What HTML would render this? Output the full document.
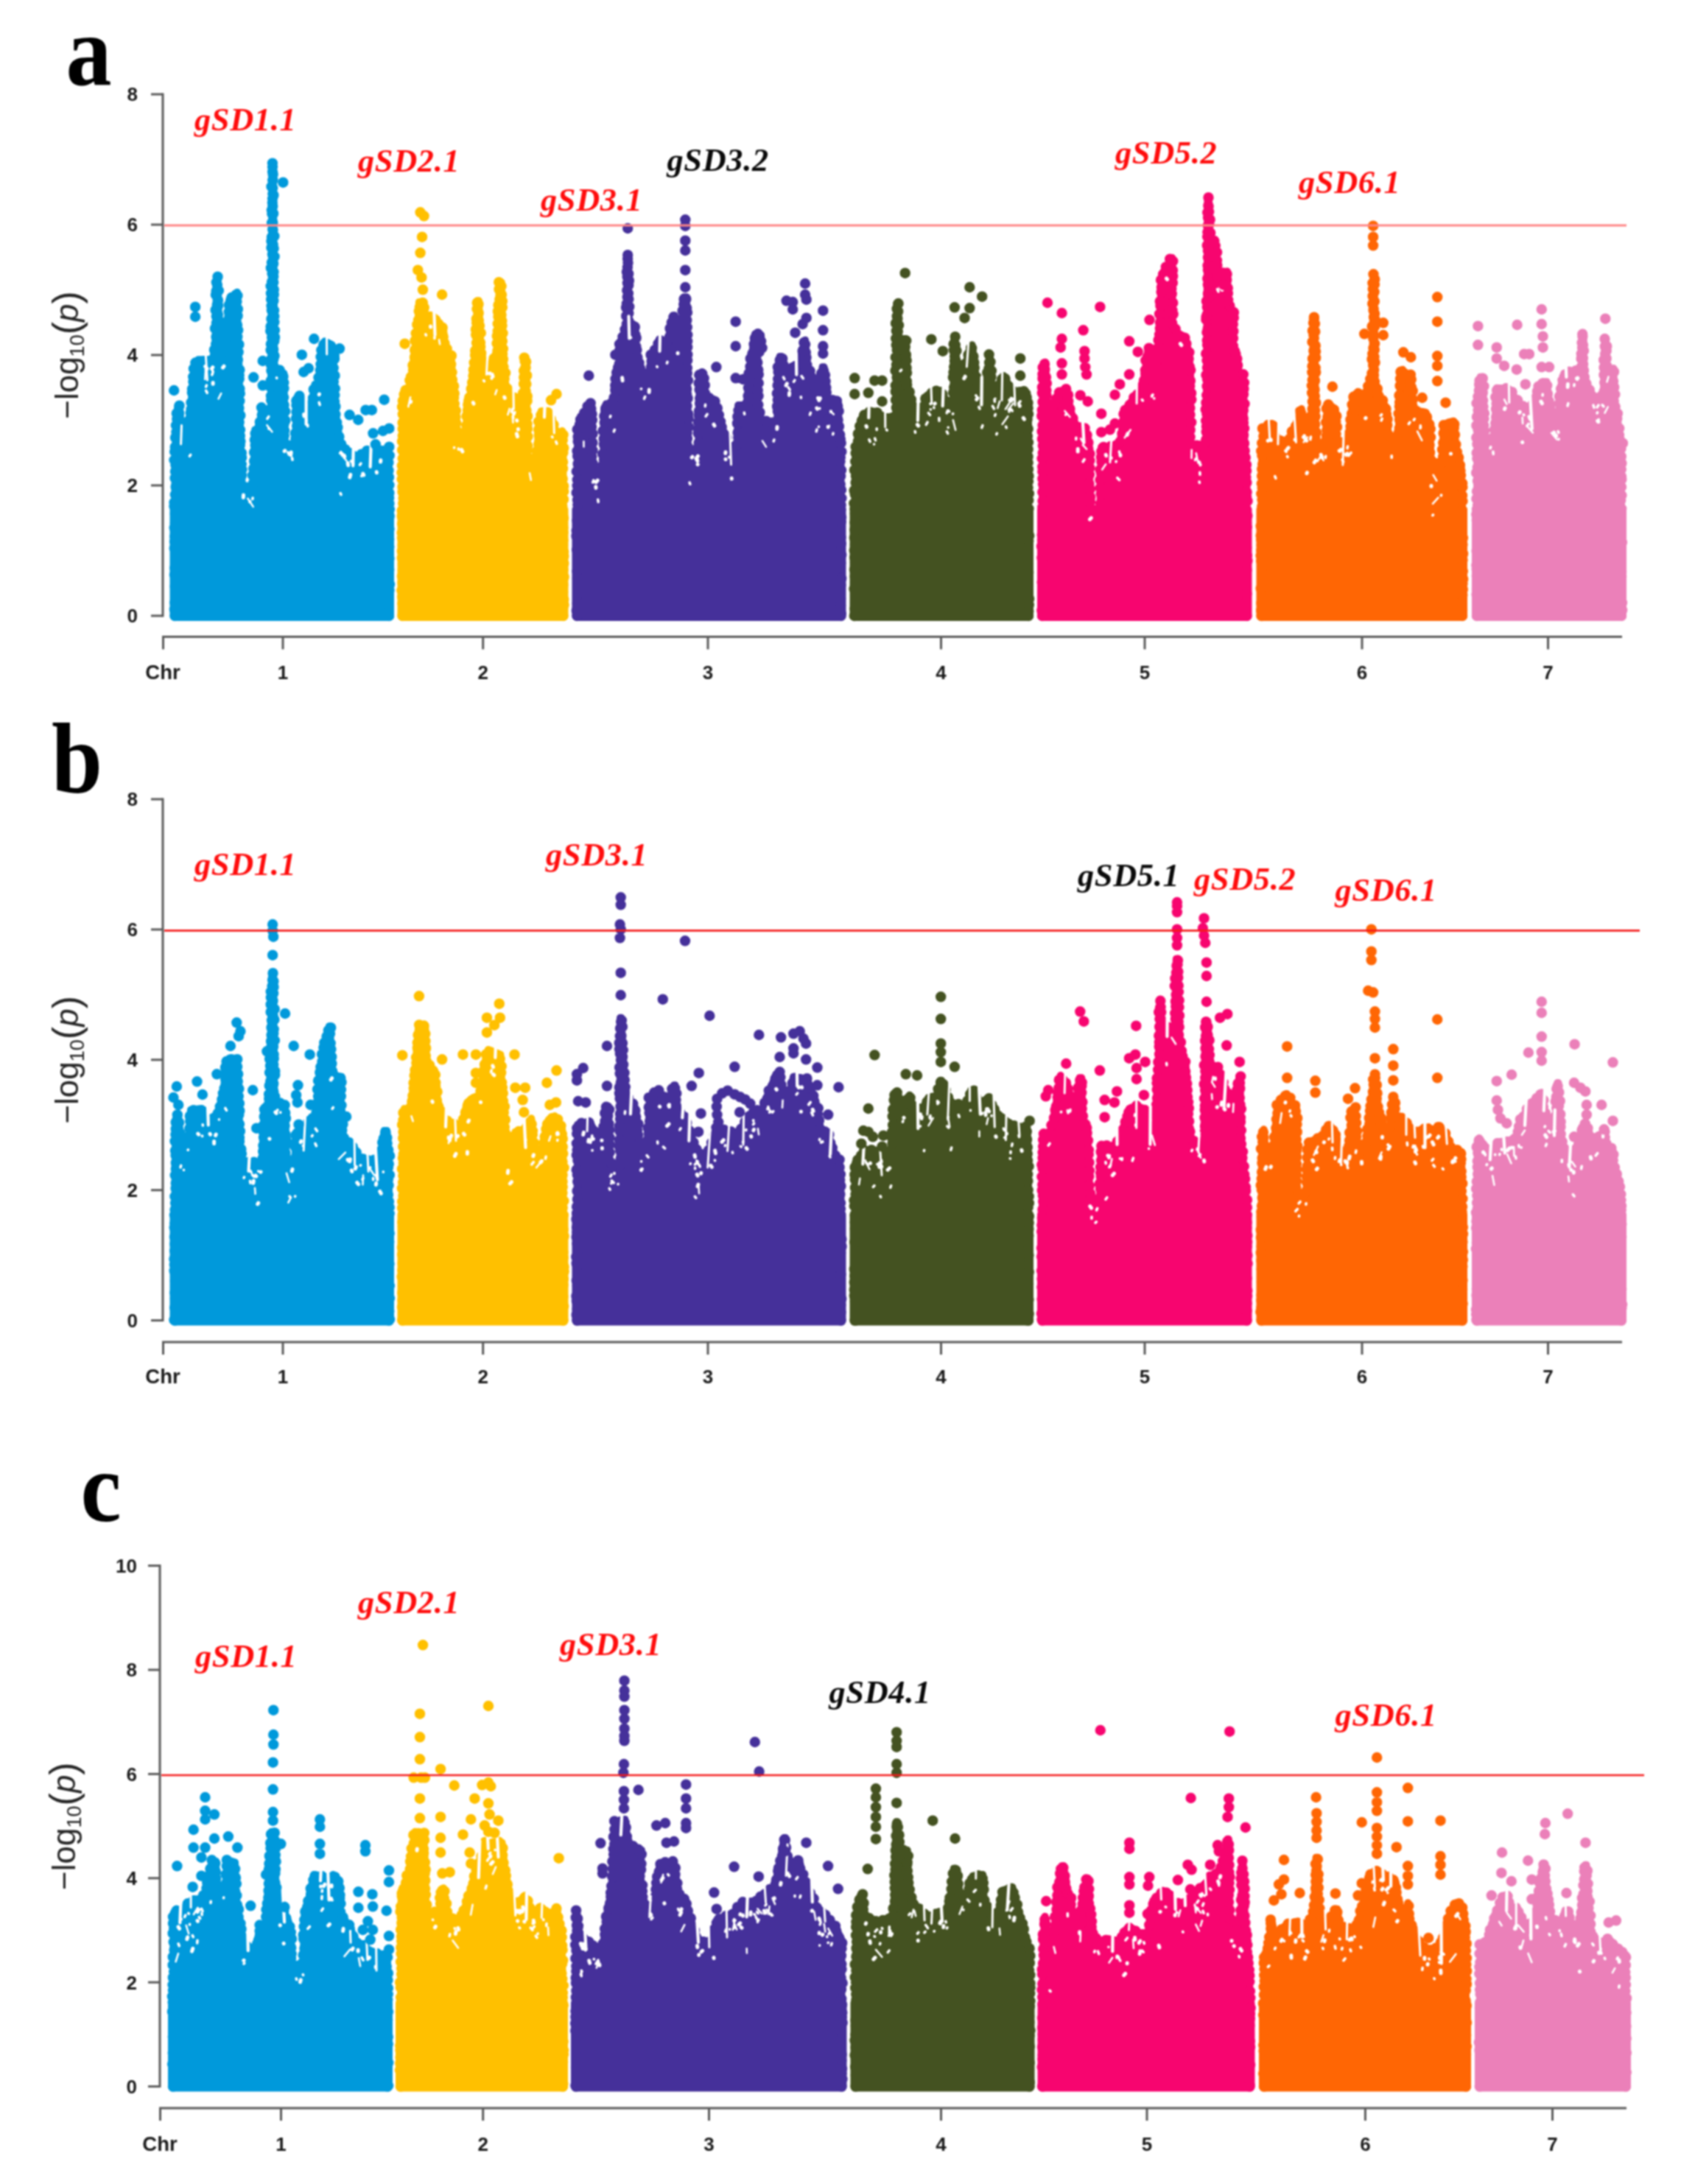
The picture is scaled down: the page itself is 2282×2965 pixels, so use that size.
<!DOCTYPE html>
<html lang="en">
<head>
<meta charset="utf-8">
<title>Manhattan plots</title>
<style>
html,body{margin:0;padding:0;background:#fff;}
body{width:2282px;height:2965px;overflow:hidden;}
svg{display:block;filter:blur(1px);}
</style>
</head>
<body>
<svg width="2282" height="2965" viewBox="0 0 2282 2965">
<rect width="2282" height="2965" fill="#fff"/>
<g fill="#0099db" stroke="#0099db" stroke-linejoin="round" stroke-linecap="round">
<path stroke-width="10" d="M237.5 836L237.5 630L238.2 603.3L241.2 551.7L243.9 551.7L246.6 593.3L254.7 593.3L259 553.3L264.1 493.3L269.1 488.3L284.3 488.3L291.7 486.7L294.4 375L295.7 375L297.8 480L305.2 480L311.2 406.7L318 400L322 396.7L322.7 443.3L324.7 510L326 583.3L328.7 660L343.5 660L346.2 583.3L351.6 581.7L355.7 556.7L360 556.7L367.8 553.3L369.5 220L370.8 220L372.5 500L385.3 506.7L385.9 543.3L387 603.3L401.4 603.3L402.8 540L407.2 536.7L408.8 538.3L413.9 556.7L422.3 556.7L427.4 521.7L432.4 520L437.5 468.3L440.8 463.3L450.9 468.3L452.6 476.7L454.3 543.3L457.6 576.7L462.7 603.3L472.8 613.3L486.3 620L503.1 610L519.9 610L528 613.3L528 643.3L528 836Z"/>
<rect stroke="none" x="230.5" y="685.5" width="304.5" height="157.5" rx="6.5"/>
<path fill="none" stroke-width="14.4" d="M237.6 836h0M236.9 827.4h0M237.3 818.3h0M238.3 804.8h0M237.7 796.3h0M238.4 788.1h0M236.9 780.2h0M237.3 771.3h0M238.2 760.4h0M238.3 750.6h0M236.7 744.2h0M237 735h0M237.2 728.2h0M236.7 716.6h0M237.9 710.8h0M237.8 697.6h0M236.4 687.1h0M236.5 682.1h0M237.8 671.6h0M238.6 660.9h0M237.5 648.9h0M237.9 640.1h0M238.3 631h0M236.5 624.5h0M237.1 613.2h0M237.7 606.9h0M238 594.1h0M239.4 586.6h0M238.9 577.5h0M240.3 568.8h0M239.8 561.2h0M243.5 550.7h0M243.2 560.9h0M244 570.4h0M246.2 577.4h0M246.8 585.5h0M247.2 593.8h0M254.6 593.2h0M255.1 585.1h0M257.3 577.2h0M257.6 569.4h0M258.7 560.5h0M259.5 555.6h0M259.5 546.6h0M260.8 532.8h0M260.9 528.1h0M262.4 518.1h0M262.2 511.5h0M262.9 500.6h0M265.3 492.5h0M276.5 490.5h0M287.6 488.7h0M292.1 481.3h0M290.9 474.9h0M293.2 467.4h0M293.5 457.6h0M291.9 445.9h0M293.9 438.7h0M293.8 429.6h0M292.6 420.9h0M294.7 413.9h0M292.9 400.2h0M293.6 395h0M293.8 383.3h0M295.5 375.7h0M294.9 386.8h0M296.9 394.5h0M295.9 407.7h0M296.1 414.7h0M295.9 427h0M297.2 435h0M297.1 444.6h0M296.4 455h0M297.2 461.2h0M297.2 475.2h0M298.7 481.2h0M304.3 476.8h0M306.2 468.1h0M307.6 457.9h0M306.8 453.3h0M308.5 443.4h0M309.5 435.2h0M310.7 423.3h0M310.8 414.1h0M314.3 404h0M320.3 400.4h0M322.4 401.4h0M321.4 409.6h0M322.9 419.7h0M322.6 428.7h0M322 441.2h0M323.2 448.3h0M322.3 457.3h0M324.4 467.7h0M323.7 477.8h0M322.9 488.6h0M325.4 502h0M324.7 509.2h0M324.7 514.6h0M325.4 527.8h0M325.8 534.2h0M325.3 544.4h0M324.4 554.3h0M326.3 563.8h0M324.7 573h0M326 583.5h0M325.8 591.7h0M326.4 599.1h0M325.8 604.3h0M327.9 614.8h0M328.1 621.4h0M327.8 630.3h0M328.5 637.3h0M328.1 645.3h0M327.5 657.9h0M333.5 661.4h0M341 662.4h0M344.2 655.3h0M342.9 645.3h0M344.1 636.1h0M345.1 625.9h0M345 614h0M346.6 604.5h0M345.8 597.1h0M346.6 588.6h0M352.8 579.4h0M352.8 572.9h0M355.7 563.2h0M359.2 558.9h0M368.3 554.9h0M368.1 543.1h0M367.9 537.6h0M367 525.2h0M367.5 517.2h0M368.4 503.3h0M367.8 495h0M367.6 488.3h0M367.6 475.4h0M367.8 467h0M369.1 457.9h0M367.2 449.5h0M367.5 443.2h0M368.4 432.9h0M368.9 421.4h0M368.5 415.3h0M368.1 406.6h0M367.9 398.3h0M367.6 388.4h0M369 382.9h0M369.5 371.2h0M367.8 363.7h0M368.9 356.6h0M369.8 345.1h0M368.4 336.2h0M368.4 327.6h0M368.9 321.9h0M370.1 311.2h0M369 302.5h0M369.3 290.1h0M368.9 285.4h0M369.8 275h0M370.3 263.1h0M368.5 253.4h0M370.2 244.7h0M370 233h0M369.9 221.6h0M370 226.5h0M370.6 236.7h0M370.4 244h0M370.2 255h0M371.4 264.9h0M370 269.6h0M370.2 279.9h0M371.1 289.8h0M370.3 302.2h0M370.5 312.1h0M372.4 320.6h0M370.7 332h0M371.6 337.2h0M372.6 348.3h0M371.1 357.8h0M371.4 369.3h0M371.2 375.5h0M371.2 383.2h0M371.8 393.1h0M371.8 399.8h0M371.3 408.4h0M372 421.4h0M372.3 429.5h0M372.3 437.3h0M372.9 448.4h0M373.1 457.8h0M372.3 462.7h0M371.1 474.5h0M372.6 483h0M371.4 486.7h0M372.4 499h0M379.5 502.4h0M384.5 511h0M385.3 519.5h0M385.4 527.3h0M385.1 539.5h0M385.6 549.8h0M387.2 558.5h0M387.4 570.8h0M385.5 575.8h0M386.1 584.6h0M385.7 591.4h0M387.1 602.6h0M394.6 604.7h0M401.4 602.8h0M401.4 595.7h0M400.9 588h0M403.1 578.1h0M401.9 568h0M402.4 559.2h0M402.4 550h0M402.3 544.1h0M406.5 537.5h0M410.2 544.5h0M413 556.1h0M420.6 556.7h0M424 546.8h0M424.9 540.5h0M425.8 528.7h0M432.2 522.3h0M432.4 512.5h0M434.8 502.5h0M435.4 494.6h0M435.5 484.5h0M436.3 475.4h0M439.4 467.8h0M446.6 468.8h0M451.7 473.5h0M453.8 483.3h0M454 487.3h0M452.7 499.6h0M454.5 509.9h0M452.9 518.1h0M454.8 527.5h0M454.3 536.6h0M454.1 545.1h0M455.4 551.8h0M455.4 562.6h0M457.2 573.6h0M458.4 580.3h0M460.4 592.9h0M463.3 603.1h0M468.7 610.1h0M473.9 614.6h0M484.2 620.9h0M490.7 616.7h0M498.2 611.9h0M506.9 611.1h0M512.8 610.2h0M525.4 611.6h0M528.7 618.4h0M527.4 627.9h0M527.5 638.7h0M528 647.8h0M528.4 658.6h0M528.4 669.1h0M528.1 675.9h0M528.4 683.7h0M528.9 691.2h0M528.7 700.7h0M527.2 708.1h0M528.5 718h0M528.2 732.1h0M528.3 742.2h0M527.1 749.7h0M528.5 758.1h0M527.9 765.8h0M528.2 773.6h0M527 784.4h0M529 793.4h0M528.5 801.2h0M527.2 812.6h0M527 820.5h0M527.4 832h0M237.5 836h0M528 836h0"/>
<path fill="none" stroke="#fff" stroke-width="2.6" d="M279.2 501.2l-0.9 13.8M463 615.5l7.3 9.9M362.4 577.2l7 9M336.4 676.8l7.3 11.1M300.2 534.1l-3.6 7.2"/>
<path fill="none" stroke="#fff" stroke-width="3.6" d="M258.7 617.4l-1.2 1.9M343.1 676.1l-0.3 1.4M390.8 614.1l0 0.3M493 643.9l-2.2 2.3M364.7 565.6l-1.8 2.8M288.7 503.4l0.4 1.4M280.4 523.1l-0.8 2M462.2 669.7l0.8 1.8M339.6 680.7l-0.7 0.8M364.8 581.2l0.2 1.1M476.6 625.9l2.4 3.2M396.5 621.7l0.5 2.6M462.8 613.7l-1.1 1.6M468.1 618.7l-0.7 2.8M415.7 569.7l0.5 2.4M279.7 530.3l1.5 3.1M375.5 512.9l0.2 0.4M417.5 576.6l0.3 2.2M433.2 546.4l0.9 3.2M467.8 617.8l0.8 2.2M489.9 629.2l-1.4 1.9M479.6 629.9l-0.1 0.3M288.7 506.5l-0.9 2.4"/>
<path fill="none" stroke="#fff" stroke-width="5" d="M511.2 640.8l0.2 1M433.4 535.1l-0.2 0.5M304 497.2l-1.5 1.9M492.8 643l0.9 1.9M475.8 644.4l-1 3.7M330.5 672.1l-0.2 3.3M281.1 500.5l-0.9 1.4M516.8 624.8l-0.2 2.2M395.2 614l-0.5 3.8M386.8 611.8l-0.7 0.7M464.5 616.3l0.6 1.7M472.1 628.4l0.5 3.3M278.7 497.4l1.2 1.5M288.8 498.6l-1.4 2.1M392.5 615.9l0.1 0.5M412.6 562.6l0.3 2.3M289.1 519.6l-0 1.6"/>
<path fill="none" stroke="#fff" stroke-width="3" d="M246.5 577.5L245.6 602.9M279.1 478.8L281.5 516.2M443.5 455.7L443.7 480.9"/>
<path fill="none" stroke="#fff" stroke-width="4.2" d="M415.6 529.1L415.6 576.1M479.8 604.1L479.2 632.4M503.8 601L502.6 633.8"/>
<path fill="none" stroke-width="14.4" d="M236.2 530h0M265.1 416.7h0M265.1 430h0M344.2 512.3h0M356.7 490h0M356.7 523.3h0M355 553.3h0M384.3 247.7h0M409.8 481.7h0M412.2 505h0M418.9 500h0M426.3 460h0M461 473.3h0M474.5 563.3h0M486.3 570h0M496.4 556.7h0M504.8 556.7h0M521.6 542.7h0M506.5 588.3h0M519.9 585h0M528.3 581.7h0M528.3 606.7h0M509.8 603.3h0M295.1 393.3h0"/>
</g>
<g fill="#ffc000" stroke="#ffc000" stroke-linejoin="round" stroke-linecap="round">
<path stroke-width="10" d="M546.5 836L546.5 636.7L547.2 536.7L548.8 528.3L553.9 531.7L558.9 510L567.3 440L568.9 410L575.6 410L577.3 430L589 430L597.4 441.7L601.8 445L604.1 470L612.5 483.3L614.1 510L617.5 553.3L619.2 558.3L620.8 600L632.6 600L634.2 543.3L639.3 533.3L646 476.7L648 408.3L650 408.3L651.3 443.3L652.7 476.7L657.7 496.7L666 496.7L674.4 476.7L678.1 383.3L680.8 383.3L682.8 476.7L686.1 520L692.8 540L704.6 540L710.9 538.3L712.3 485L713.6 485L714.9 543.3L716.3 623.3L729 623.3L731.3 576.7L734.7 558.3L743.1 558.3L749.8 571.7L756.5 590L763.2 585L764.5 610L764.5 643.3L764.5 836Z"/>
<rect stroke="none" x="539.5" y="685.5" width="232" height="157.5" rx="6.5"/>
<path fill="none" stroke-width="14.4" d="M546.5 835.8h0M547.4 828.3h0M546.4 819.2h0M546 810.1h0M545.3 801.5h0M546.4 791.3h0M545.8 782h0M546.8 774.3h0M546.9 766.2h0M545.7 757.5h0M545.7 748h0M546.6 740.6h0M545.9 730.4h0M545.6 723.4h0M546 710.9h0M545.6 700.7h0M545.6 693h0M547.2 683.6h0M547.5 676.6h0M546.5 667.7h0M546.4 660.9h0M545.6 650.6h0M545.4 641.5h0M545.8 632h0M546.7 622.5h0M546.1 610.8h0M545.9 599.1h0M546.8 591.5h0M546.7 582.4h0M546.6 573.8h0M546.8 562.3h0M546 552.4h0M546.8 544.1h0M548.6 535.5h0M552 529.1h0M556.3 527h0M556.3 516.4h0M557.9 511.5h0M561 502.6h0M560.4 495.8h0M562.9 484.9h0M563 475.2h0M563.4 462.6h0M564.6 452.5h0M566.3 440.7h0M568 434.5h0M568.7 422.6h0M569.8 417.4h0M573.7 411h0M575.8 417.6h0M576 429.1h0M584 429.9h0M591.2 434.3h0M595.3 439.8h0M600.7 444.8h0M601.7 457.2h0M603.5 466.2h0M606.7 473.6h0M612.9 482.8h0M612.2 494.6h0M613.5 505.5h0M613.9 515.7h0M616.2 524.2h0M616.8 534h0M616.1 540.3h0M616.8 548.3h0M618.9 557.5h0M618.5 566h0M619.3 574.5h0M620.7 585.8h0M620.9 594.4h0M622.3 598.6h0M633 598.8h0M631.9 593.2h0M633.5 583h0M633.2 577.5h0M633.4 565h0M635 556.8h0M635.3 549.2h0M637.4 539.4h0M639.7 527.9h0M641.1 519.2h0M642.5 510.2h0M642.8 501.9h0M643.7 492.4h0M645.1 482.4h0M645.1 476h0M647 465.5h0M646.2 454.6h0M645.9 447.2h0M647.1 438.2h0M646.8 432.8h0M647.5 419.5h0M647.7 411h0M649.5 412.8h0M649.7 424.9h0M649.9 435.1h0M651 442.1h0M652.8 452h0M652 465h0M652.2 470.8h0M653.3 479.7h0M656.5 490.3h0M659.1 496.5h0M667.2 495.6h0M670.5 486.7h0M675.4 476.1h0M674.5 466h0M674.7 456.1h0M675.7 449.5h0M675.7 439.5h0M676.5 429.9h0M675.9 422.7h0M676.5 414.2h0M678.3 406.6h0M677.5 392.7h0M677.2 383.1h0M680.6 388.5h0M681 400h0M681.9 408.8h0M681.9 417.2h0M680.5 427.7h0M681.3 435.7h0M681.5 442.3h0M682.5 452.4h0M681.9 463h0M682.9 473.5h0M682.1 480.7h0M682.9 487.7h0M683.4 498.4h0M686.1 506.4h0M684.7 514h0M688.9 527.8h0M691.9 537h0M697.6 539.6h0M708.6 538.6h0M710 533.8h0M711 521h0M711.2 512.2h0M711.2 503.4h0M712.6 490.6h0M711.7 485.6h0M714.2 491h0M713.6 498.9h0M715.2 509.7h0M714.4 521.5h0M713.6 531.4h0M715.8 537.9h0M715.6 544.4h0M714.5 557h0M716.2 564.9h0M715.6 575.4h0M716 582.2h0M716.5 592.6h0M716.2 605h0M715.5 611.5h0M716.1 623.4h0M723.1 622.9h0M728.6 624.3h0M728.7 612.5h0M731.2 602.9h0M731.7 590.8h0M731.1 583.2h0M731.1 572.4h0M734.4 563.7h0M737.9 559.9h0M743.6 559.9h0M747.9 569h0M751.5 576.5h0M754.4 586.7h0M757 590.7h0M764.6 590.3h0M763.8 597.6h0M765.3 608h0M764.4 614.6h0M764.1 627.2h0M764.1 635.9h0M763.8 650h0M765.2 659.9h0M765.3 667h0M765 677.9h0M763.3 686.9h0M763.7 695.1h0M765.1 703.2h0M764.4 716.5h0M764.5 722.8h0M764.5 733.2h0M764.1 738.9h0M765.2 749h0M765.4 754.9h0M765.4 764.8h0M764.5 773.5h0M765.6 783.4h0M764.4 794.3h0M764.1 803.8h0M765.3 813.8h0M765.6 821h0M763.6 831.6h0M546.5 836h0M764.5 836h0"/>
<path fill="none" stroke="#fff" stroke-width="2.6" d="M596.1 461.3l1 6M719 642.2l1.8 9.5M557.1 539.3l-2.8 12.8M674.3 529.5l-2 5.8M695.8 558.9l1.5 8.9M691.7 554.9l-2.3 8.1M695.8 565.1l0.7 8.5"/>
<path fill="none" stroke="#fff" stroke-width="3.6" d="M622.4 609.1l0.1 1M662.6 506.4l0.6 1M695.5 555.4l-1.1 3.7M590 457.2l-0.1 2.3M577.8 453.9l0.6 1.2M754.8 599.6l1.1 2.8M667.2 513.2l0.3 0.8M656.6 516.6l0.8 0.9M749.5 593l0.4 0.5M616.6 607.6l0 0.4M665.5 506l-1 1.9M698.9 559.7l-0.9 2.7"/>
<path fill="none" stroke="#fff" stroke-width="5" d="M626.5 610.5l1.4 2.6M668.2 508.4l0.8 2.7M684.7 539l0.6 1.4M557.7 545.1l-0.3 0.9M701.4 588.9l1.1 3.8M701.6 570.6l0.2 0.5M642.3 546.5l0.7 1.6M584.5 442.9l0.1 1.1M703.4 582.5l-0 0.4"/>
<path fill="none" stroke="#fff" stroke-width="3" d="M662.3 473.3L660.4 508.5M696.8 522.9L697.4 555.5M751.3 553.2L752.3 587.9"/>
<path fill="none" stroke="#fff" stroke-width="4.2" d="M589.2 421L590.5 454.7M739.6 549.3L739 566.4"/>
<path fill="none" stroke-width="14.4" d="M549.5 466.7h0M570.6 288.3h0M575.6 293.3h0M573 321.7h0M570.6 343.3h0M567.3 366.7h0M572.3 376.7h0M574 393.3h0M600.1 400h0M748.1 543.3h0M755.5 535h0M712.9 500h0M712.9 516.7h0"/>
</g>
<g fill="#45309a" stroke="#45309a" stroke-linejoin="round" stroke-linecap="round">
<path stroke-width="10" d="M783.5 836L783.5 676.7L784.2 583.3L788.2 565L795 560L801.7 546.7L803.4 556.7L804 640L818.9 640L820.2 556.7L822.9 548.3L827.6 556.7L831 543.3L835.4 536.7L837 498.3L840.4 493.3L842.1 463.3L846.5 456.7L850.9 443.3L851.9 346.7L852.5 346.7L853.6 438.3L856.6 440L862.3 441.7L864.7 486.7L869 496.7L872.4 516.7L880.8 516.7L884.2 483.3L889.2 476.7L896 460L899.4 463.3L904.4 470L911.1 443.3L913.8 428.3L915.9 428.3L917.9 460L922.9 470L928.7 403.3L932 403.3L934 610L948.2 610L949.9 506.7L953.2 505L958.3 540L968.4 541.7L973.4 553.3L980.2 583.3L985.9 590L987.3 606.7L1000.7 606.7L1002.1 550L1008.8 550L1013.9 546.7L1018.9 493.3L1025 453.3L1033.1 455L1033.7 473.3L1028.3 481.7L1029 543.3L1031.7 568.3L1042.5 573.3L1055.3 570L1056.6 496.7L1058.7 484L1061 484L1064.4 498.3L1067.7 510L1076.2 496.7L1086.3 496.7L1089.6 476.7L1093 461.7L1096.4 496.7L1101.4 510L1104.8 530L1113.2 531.7L1116.6 498.3L1118.6 498.3L1120.6 533.3L1123.3 556.7L1130 541.7L1137.8 543.3L1139.1 590L1141.5 610L1141.5 676.7L1141.5 836Z"/>
<rect stroke="none" x="776.5" y="685.5" width="372" height="157.5" rx="6.5"/>
<path fill="none" stroke-width="14.4" d="M783.8 835h0M782.8 828.9h0M783.8 819.1h0M784.3 806.9h0M784.2 798.9h0M784.2 792.7h0M783.9 785.5h0M783.5 775.5h0M784.5 766.7h0M784.3 759.6h0M783.1 746.6h0M784.2 735.7h0M782.5 727.7h0M782.7 720.5h0M783.5 706.7h0M784.6 697.3h0M784.3 685.1h0M784 678.7h0M782.7 668.9h0M783.7 659.4h0M783.8 651.3h0M782.8 640h0M784.6 629.7h0M784.2 619.4h0M783.6 612.4h0M784.7 599.6h0M784.6 592.9h0M783.7 583.1h0M787 576.5h0M788 569.5h0M793.3 560.4h0M797.6 551.6h0M801.7 547.4h0M802.4 554.9h0M803.6 562.1h0M803.9 570.3h0M803 579.7h0M804.6 588.8h0M804.4 600.9h0M804.5 611.4h0M803.3 619.9h0M804.7 629.1h0M803 637.2h0M811.1 639.7h0M819.9 638.9h0M818.5 631.6h0M819.9 623.9h0M818.1 616.4h0M819.8 603.3h0M819.7 595.7h0M818.6 584.9h0M820.7 573.7h0M820.3 564.8h0M822.1 554.7h0M823.4 552.4h0M828.6 555.6h0M829.7 547.7h0M833.5 539.9h0M835.3 529.7h0M835.2 523h0M835.6 514.3h0M837.1 505.8h0M840.8 493.8h0M841.9 486.1h0M841.2 475.6h0M841 467.3h0M845.4 457.3h0M848.5 447.3h0M850.8 439.9h0M850.2 428.9h0M850 417.6h0M850.9 412.4h0M851.7 403.1h0M851.3 394.2h0M851.9 384.3h0M851.7 375.7h0M850.9 369h0M852.5 356.8h0M852.2 346.2h0M852.1 351.6h0M851.9 362.7h0M853.2 371.7h0M853.9 380.9h0M853.2 387.4h0M852.9 398.4h0M853.4 406h0M854.2 416.4h0M853.4 425.1h0M853.2 435.3h0M857.5 441.1h0M861.8 443.8h0M862.5 454.7h0M863.7 458.7h0M863.4 470.6h0M864.5 475.1h0M865.4 485.2h0M867.6 492.6h0M869.1 500.2h0M872.3 511.5h0M872.5 517.8h0M881.3 515.5h0M881.5 505.5h0M883.9 498.1h0M884.6 490.7h0M885 481.8h0M888.8 475.1h0M893.5 466.5h0M896.4 462.1h0M902.3 469.2h0M904.8 463.9h0M908.9 457.6h0M909.5 445.8h0M911.8 437.8h0M914.4 430.6h0M916.7 436.6h0M917.9 441.3h0M918.4 452.9h0M919.4 463h0M923.1 467.7h0M924.6 463.4h0M925.5 449.2h0M925 441.3h0M926.8 432.4h0M926.6 421.9h0M928.2 413h0M928.5 406.1h0M931.4 405.9h0M932.2 418h0M933 424.2h0M932.3 434.7h0M932.8 444.3h0M933.3 454.6h0M933.2 463.3h0M933.2 471.4h0M933.3 481.4h0M933.2 489.1h0M932.9 499.5h0M932.8 506.7h0M934 516.5h0M932.2 528.2h0M932.2 535.2h0M933.6 540.7h0M932.5 551.3h0M934.1 561.9h0M934.6 568.2h0M934.9 579.6h0M932.7 587.8h0M933 595.2h0M933.7 606.5h0M939.9 612.4h0M947.2 608.2h0M948.6 601h0M947.8 588.3h0M947.7 582.3h0M947.9 572.9h0M948.8 563.7h0M948.9 558.2h0M950.1 547.7h0M950.2 540.8h0M949.6 528.8h0M948.6 520.1h0M949.2 509h0M953.2 507.4h0M955.7 513.6h0M956.8 522.8h0M957 533.9h0M962.7 540.3h0M970.5 544.9h0M973.9 554h0M975.9 563.4h0M978.1 572.4h0M979.8 579.8h0M981.6 588h0M986.3 593.9h0M986.4 604.9h0M992 607.3h0M1000.2 603.5h0M1002.2 593.9h0M1001.6 587.2h0M1000.9 574.7h0M1001.3 565.7h0M1002.5 557.3h0M1005.2 552.4h0M1014.6 547h0M1015.6 537.5h0M1015.9 526.6h0M1017.6 516h0M1016.4 507.2h0M1018.5 497.7h0M1018.7 486.8h0M1021.4 480.2h0M1023.6 467.4h0M1024.8 459h0M1028.9 453.3h0M1033.1 463.4h0M1034.6 472.3h0M1030.6 477.9h0M1028.3 492h0M1029.3 502.2h0M1029.8 508.6h0M1029.8 520h0M1028.8 529.9h0M1029.6 537.6h0M1029.3 549.6h0M1031.5 559.8h0M1030.8 567.3h0M1040.1 571.6h0M1048.5 573.7h0M1056.4 569h0M1055.9 558.5h0M1055 551.7h0M1055.8 542.8h0M1054.8 534h0M1055.6 523.2h0M1056.2 514.6h0M1056.6 504.9h0M1055.9 498.4h0M1058.7 488.9h0M1062.2 486.9h0M1063.6 495.6h0M1066.5 506.3h0M1068.7 507.4h0M1075 499.8h0M1079.9 497h0M1088.1 492.5h0M1088 483.6h0M1090.4 474.9h0M1091.3 465h0M1093.1 467.5h0M1093.8 478.6h0M1094.6 485.2h0M1095.3 495.3h0M1099.6 503.5h0M1101.4 511.9h0M1103.7 522.3h0M1106.7 531.7h0M1113.5 528h0M1114 520h0M1116.2 513h0M1115.1 506.9h0M1118 503.1h0M1120 509h0M1120.6 517.7h0M1121.4 526h0M1121.8 532.8h0M1122.8 545.4h0M1122.2 554.3h0M1125.1 551.6h0M1130.2 543.3h0M1135.9 544.5h0M1137.2 551.2h0M1138.7 558h0M1137.6 570.2h0M1139 578.8h0M1138.6 588.9h0M1140.8 596.4h0M1141.7 601.6h0M1142.4 613h0M1140.8 620.9h0M1140.6 626h0M1142 638.4h0M1141.1 646.4h0M1140.7 657.5h0M1142 665h0M1142.4 676.3h0M1141.6 685.7h0M1141.4 691.6h0M1142.1 702.2h0M1141.8 708.1h0M1141 720.8h0M1141.5 729.6h0M1141.8 738.3h0M1140.5 748.9h0M1142.3 753h0M1141.3 764.5h0M1141 770.6h0M1142.2 785.4h0M1141.4 794.2h0M1140.7 803.2h0M1141.1 812.8h0M1141.1 822.1h0M1141.9 833.1h0M783.5 836h0M1141.5 836h0"/>
<path fill="none" stroke="#fff" stroke-width="2.6" d="M1127.1 557.8l4.7 4.7M792.4 599.2l0.1 7.3M1035 598.6l5 8"/>
<path fill="none" stroke="#fff" stroke-width="3.6" d="M1078.9 516.2l-1.4 2M806.6 653l-0.4 1.5M834.3 583.5l-1 2.4M1070.2 526l2 3.1M811.7 678.2l0.5 3.2M1063.5 512.1l1.3 2.7M1010.3 560.3l0.4 2M1127.6 568.7l-1.2 1.7M957.5 549.3l-0.2 2.3M989.7 620.4l0.2 0.6M1050.9 597l-0.7 2.1M1112.8 554.4l-0.1 0.2M1111.5 579.3l-0 0.2M875.6 538.5l-1.1 2.8M870.5 527.8l-0.1 0.1M1131.1 588.2l-0.4 1.5M960.1 562.3l-2 2.9M906 491.4l-0.6 1.7M1100.4 560.4l-0.9 2.6M936.1 655.2l0.7 2M855.8 457.5l0.7 1.1M1087.3 538.7l0.1 1.4M1128.2 558.3l-0.3 1.2M805.7 652.2l-1 2.7M1088.1 510.6l2.2 3.1M891.9 497.5l0.3 0.7M947 623.1l0 0.1M1108.9 583.1l-0.7 2.6M828.8 564.6l-0.5 1.6"/>
<path fill="none" stroke="#fff" stroke-width="5" d="M1110.5 540.4l1.4 3.1M1113.3 540.6l0.1 0.5M1071.6 533.3l-0.2 3.1M985 623.3l0.1 0.3M808.8 660.8l0.2 1.6M844.6 512.8l0.5 3.9M1108.8 554l0.6 1.2M940 620.2l-0.8 0.9M968.9 576.1l1.1 2M920.1 479.2l0 0.5M1068.3 520.8l-1.3 2.5M1055 579.5l-0.2 2.9M947.1 630.4l0.1 0.1M1124.5 578l-0.3 1.9M945.1 622.5l1.8 3.4M881.3 529l-0.2 3.5M985 613.7l-0.2 1.8M993.2 649.3l0.1 0.8M947.5 619.1l-1.1 1.4M811.3 652.1l-2.1 2.5"/>
<path fill="none" stroke="#fff" stroke-width="3" d="M990.7 579.6L992.5 630.8"/>
<path fill="none" stroke="#fff" stroke-width="4.2" d="M853.5 429.4L854.3 459.5M896.1 451.2L895.5 476.8M1080.9 476.3L1081.3 508.7"/>
<path fill="none" stroke-width="14.4" d="M799.3 510h0M835.4 481.7h0M852.2 310h0M883.5 481.7h0M914.5 443.3h0M930.3 390h0M930.3 366.7h0M930.3 340h0M930.3 326.7h0M930.3 306.7h0M930.3 298.3h0M972.4 498.3h0M998.7 436.7h0M998.7 470h0M998.7 513.3h0M1008.8 515h0M1067.7 408.3h0M1076.2 410h0M1076.2 420h0M1093 385h0M1093 400h0M1094.7 406.7h0M1094.7 431.7h0M1089.6 440h0M1079.5 451.7h0M1089.6 476.7h0M1117.3 421.7h0M1117.3 448.3h0M1117.3 470h0M1117.3 480h0M1111.5 515h0M1123.3 570h0M1140.2 590h0M1025.6 463.3h0M1032.4 473.3h0"/>
</g>
<g fill="#445221" stroke="#445221" stroke-linejoin="round" stroke-linecap="round">
<path stroke-width="10" d="M1160.5 836L1160.5 676.7L1161.2 616.7L1166.9 576.7L1172 561.7L1185.6 558.3L1199.2 565L1206 566.7L1216.2 563.3L1217.2 411.7L1218.5 411.7L1220.2 460L1229.7 460L1231.4 526.7L1236.5 540L1243.3 560L1253.5 553.3L1258.6 536.7L1267.1 533.3L1277.2 530L1282.3 546.7L1287.4 546.7L1294.2 543.3L1295.2 458.3L1296.2 458.3L1296.6 458.3L1298.3 490L1302.7 496.7L1311.2 496.7L1314.6 478.3L1319.6 468.3L1323 493.3L1326.4 530L1338.3 536.7L1343.4 480L1344.4 490L1346.8 536.7L1355.3 526.7L1362.1 510L1368.9 521.7L1375.6 533.3L1385.8 530L1394.3 533.3L1396 576.7L1396 676.7L1396 836Z"/>
<rect stroke="none" x="1153.5" y="685.5" width="249.5" height="157.5" rx="6.5"/>
<path fill="none" stroke-width="14.4" d="M1159.8 836h0M1160.4 826.5h0M1161.5 817h0M1161.2 809.3h0M1159.5 799.6h0M1161.1 790.8h0M1160.6 782.7h0M1159.9 773.1h0M1161 762.9h0M1160.1 756.8h0M1159.7 747h0M1160.9 739.5h0M1159.8 729.9h0M1160.2 719.1h0M1160.4 709.5h0M1160.8 696.9h0M1160.4 690.5h0M1159.4 683.4h0M1160.7 670.8h0M1159.6 665.8h0M1161.6 655.1h0M1161.9 645.9h0M1159.9 638.1h0M1161.2 626.6h0M1161.6 615.1h0M1161.6 606.6h0M1164.8 599.1h0M1164.8 588.9h0M1167.2 578.5h0M1169.9 571h0M1173.1 563.8h0M1180.4 559.2h0M1190.8 560.1h0M1196.6 566.2h0M1206.7 568.3h0M1216.4 564.7h0M1216.8 553.5h0M1216 543h0M1215.8 531.7h0M1215.8 523.4h0M1217.6 512.6h0M1215.5 503.2h0M1216.9 495.1h0M1215.7 485h0M1217.7 475h0M1216.7 468.5h0M1216.2 459.6h0M1216.8 449.1h0M1216 438.9h0M1217.7 429.4h0M1217.6 419.3h0M1219.6 412h0M1219.2 422.7h0M1218.4 432.7h0M1220.1 441.6h0M1218.8 450.3h0M1219.5 460.2h0M1230.3 462.5h0M1228.8 470.8h0M1229.8 481.3h0M1230.7 489.5h0M1230.6 499.2h0M1231.1 506.1h0M1230.9 517.5h0M1231.2 522.5h0M1234.8 532h0M1236.9 542.3h0M1240.4 553h0M1243.7 561.6h0M1250.9 553.9h0M1254.7 551.2h0M1256.3 541.2h0M1264.9 533.4h0M1271 530.7h0M1279.4 535h0M1281.4 542.2h0M1288.2 546.1h0M1294.5 543h0M1294.1 533h0M1295.1 525.8h0M1293.8 512.2h0M1294.5 505.6h0M1295.1 498h0M1296 490.3h0M1296.1 483.8h0M1294.7 475.3h0M1294.6 467h0M1296.7 457.1h0M1296.8 468.4h0M1298.5 476.1h0M1297.2 488.8h0M1301.9 495.3h0M1309.8 496.2h0M1311.7 492.9h0M1314.6 481.7h0M1318.2 472.4h0M1319.2 472.6h0M1321.4 483.9h0M1322.4 492h0M1322.8 499.2h0M1325.5 511.9h0M1326.2 519h0M1325.8 529h0M1331.3 533.7h0M1339.5 535.9h0M1338.6 525.7h0M1339.9 514.8h0M1340.2 505.9h0M1342.3 500.7h0M1343 492.3h0M1342.6 481.3h0M1344.5 491.4h0M1345.9 503.4h0M1345.5 511.8h0M1344.8 520.6h0M1346.3 529.7h0M1346.9 536.6h0M1353.3 530h0M1358.3 520.9h0M1360.1 514.8h0M1364.5 514h0M1369.3 524.4h0M1375.5 531.1h0M1382.9 532.5h0M1390 531.3h0M1393.7 539.7h0M1395.5 546.8h0M1395.6 554h0M1396.1 562h0M1394.6 569.3h0M1395.7 582.2h0M1394.9 592.3h0M1396 600.6h0M1395.7 609.9h0M1395.6 619.8h0M1395.7 628h0M1396 636.9h0M1396.5 646.2h0M1396 653.6h0M1395.6 662h0M1396.9 669.9h0M1396.3 679h0M1396.5 690.6h0M1395 701.2h0M1395.9 707.3h0M1395 716.8h0M1397.2 727.2h0M1396.3 734h0M1395.9 747.8h0M1395.5 755.4h0M1395.2 767.3h0M1396.1 777.4h0M1395 786.4h0M1395.1 795.4h0M1395.6 805.1h0M1397.1 812.9h0M1396.8 821.3h0M1396.3 829.8h0M1160.5 836h0M1396 836h0"/>
<path fill="none" stroke="#fff" stroke-width="2.6" d="M1375.3 547.8l-6.6 8.4M1368.3 565.2l-7.7 10.7M1357.1 544.8l-2.8 9.4M1370.5 547l-5.6 8.5M1293.8 570.2l3.4 13.6"/>
<path fill="none" stroke="#fff" stroke-width="3.6" d="M1287.5 557.5l1 1.2M1286.3 557.5l-1 3.2M1179.9 596.9l1.3 2.7M1293.7 561.6l-0.2 0.4M1274.8 567.5l0.2 3.6M1365.6 579.1l0.6 1.6M1263.3 555.7l-0 0.3M1186.6 603l0 0.1M1187.7 595.2l0.8 2.5M1351.3 562.5l-0.7 1.9M1285.4 585.9l1.3 2.6M1263 548l0.3 0.5M1350.1 542.3l0.3 2.9M1324.8 536.8l0.4 0.5M1287.2 580.2l0 0.2M1223.6 502.2l-1.5 1.6M1372.6 540.3l0 0.3M1242.2 585.5l0.3 1.7M1190.2 581.9l0 1.7M1267.8 553l0.1 0.8M1203.4 583.3l0.7 0.8M1370.3 555.6l-0.3 3.3M1260.4 560.7l2.1 2.6M1353.4 588.3l-0.6 1.4M1385.1 544.8l-2.4 2.7M1259.1 573.1l-1.8 3.4M1347.5 551.3l1.9 3.5M1351 541.3l-0 0M1372.4 555.3l1.8 2.5M1333.9 577.7l-1.1 2.9M1328.8 552.5l1.2 2.4"/>
<path fill="none" stroke="#fff" stroke-width="5" d="M1269.3 547.7l-0.5 0.5M1370.9 543.2l0.2 0.8M1383.7 549.7l0.6 1.5M1310.2 511.2l-1.5 2.7M1245.4 576.5l1.3 1.5M1374.4 541.9l-1.7 2.2M1175.9 578.3l0.6 1.5M1327.1 540.3l-1.3 2M1389.2 567.3l1.2 1.9"/>
<path fill="none" stroke="#fff" stroke-width="3" d="M1201.6 553.8L1201.8 580M1263.9 522.9L1264.8 547.7M1314.8 464.3L1312.4 497.9M1360.7 504.7L1360 543.5M1376.6 515.2L1378 550.3"/>
<path fill="none" stroke="#fff" stroke-width="4.2" d="M1179.7 549.8L1179.3 567.2M1246.6 538.9L1245.9 571M1280.7 522.3L1279.7 551.1M1332.8 512L1332.4 549.7"/>
<path fill="none" stroke-width="14.4" d="M1160.2 513.3h0M1160.2 535h0M1178.8 533.3h0M1187.3 516.7h0M1197.5 516.7h0M1197.5 545h0M1228.7 370.7h0M1264.3 460.7h0M1279.9 476.7h0M1295.9 417.3h0M1229.7 483.3h0M1316.3 390h0M1333.2 402.7h0M1316.3 418.3h0M1309.5 431.7h0M1385.1 486.7h0M1385.1 510h0"/>
</g>
<g fill="#f7056f" stroke="#f7056f" stroke-linejoin="round" stroke-linecap="round">
<path stroke-width="10" d="M1415 836L1415 676.7L1415.7 496.7L1419 491.7L1421.4 543.3L1426.4 576.7L1433.1 540L1441.5 530L1448.2 528.3L1453.2 556.7L1459.9 576.7L1466.6 583.3L1473.3 581.7L1478.3 600L1480 693.3L1493.4 693.3L1495.1 606.7L1506.8 606.7L1520.2 603.3L1526.9 556.7L1537 543.3L1547 530L1553.8 510L1558.8 471.7L1562.1 471.7L1563.8 510L1570.5 526.7L1576.5 386.7L1577.2 371.7L1585.6 360L1589.9 350L1591.3 350L1591.6 443.3L1600.7 453.3L1607.4 456.7L1614.1 478.3L1616.1 510L1616.1 600L1620.1 603.3L1637.5 603.3L1639.5 268.3L1640.9 268.3L1642.6 323.3L1649.3 325L1650.9 343.3L1652.6 376.7L1666 368.3L1667 410L1676.1 428.3L1672.7 443.3L1674.4 476.7L1677.8 480L1682.8 510L1687.8 510L1688.5 543.3L1689.5 610L1692.5 643.3L1692.5 676.7L1692.5 836Z"/>
<rect stroke="none" x="1408" y="685.5" width="291.5" height="157.5" rx="6.5"/>
<path fill="none" stroke-width="14.4" d="M1415.2 836h0M1414.3 828.7h0M1416.1 819.3h0M1415.3 808.5h0M1415.4 801.1h0M1414.6 790.2h0M1415.7 778.9h0M1416.1 766.6h0M1414.4 757.4h0M1416.1 749.5h0M1414 741.7h0M1414.9 733.2h0M1414.6 726.1h0M1416.1 715.9h0M1415.6 706.1h0M1416.1 694.2h0M1415.3 688.4h0M1415.5 680h0M1415.3 668h0M1416 657.4h0M1415.3 649.8h0M1415.3 640.2h0M1415.2 633.7h0M1414.6 622.5h0M1415.7 614.8h0M1415.8 604.9h0M1414.9 595.9h0M1414.6 585.7h0M1415.6 577.4h0M1414.3 564.7h0M1414.8 556.7h0M1415.5 545.7h0M1414.8 533.6h0M1414.9 525.7h0M1415.4 513.8h0M1415.4 507.8h0M1415.6 498.8h0M1418.1 494.2h0M1418.4 501.1h0M1420 512.1h0M1420.9 520.5h0M1420.4 529.9h0M1420.7 537.1h0M1422.4 547.6h0M1424.2 557.9h0M1424.7 567.1h0M1425.1 575.5h0M1427.1 568.2h0M1430.3 560.8h0M1430.5 549h0M1434.1 541.3h0M1437.9 532.8h0M1447.2 528.2h0M1450.1 536.2h0M1450.3 544.5h0M1452.5 555.1h0M1456.5 567.9h0M1458 575.9h0M1465 580.3h0M1472.5 581.4h0M1475.5 590.7h0M1477.4 600.8h0M1477.3 609.6h0M1479.5 616h0M1479.4 625.3h0M1479.4 635.4h0M1478.9 644.4h0M1478.5 656.9h0M1479.9 664h0M1480.1 674.7h0M1480.1 681.1h0M1479.5 692.1h0M1487.1 695.4h0M1494 691.5h0M1494.1 683.5h0M1494.6 670.6h0M1493.6 662.3h0M1493.5 651.6h0M1495 642.9h0M1493.6 637.7h0M1495.4 626.7h0M1494.9 620.7h0M1495.2 612.8h0M1498.1 606.9h0M1507.7 606h0M1515.5 604.5h0M1520.4 599.8h0M1523.4 588.7h0M1525.1 578.9h0M1525.4 572.3h0M1525.4 562h0M1527.5 556.7h0M1533.7 549.6h0M1539.3 539.6h0M1543.9 535.7h0M1550.2 525.2h0M1553.1 516.6h0M1555.1 507h0M1554.8 502.5h0M1555.3 489.3h0M1558 484.3h0M1559.7 472.6h0M1561.4 476.5h0M1562.3 485.7h0M1562.9 498.6h0M1564 508.8h0M1566.2 520.1h0M1571.1 528.8h0M1570.5 518.5h0M1571.9 509.9h0M1571 499.5h0M1571.1 487.3h0M1572.1 480.3h0M1572.4 471.8h0M1572.6 461.7h0M1574 454.3h0M1574.8 445.8h0M1574.9 438h0M1574 426.4h0M1575.4 415.3h0M1574.7 409.1h0M1576.6 396.6h0M1576.9 389.9h0M1576 380.2h0M1579.1 372.5h0M1582.8 362.4h0M1588.2 351.7h0M1592.3 354.6h0M1592 366.9h0M1592.2 374.8h0M1591.9 383.9h0M1590.3 392.3h0M1590.8 398.7h0M1592.3 411.2h0M1591.5 421.3h0M1592.7 426.6h0M1591.1 438.7h0M1595.7 446.5h0M1600.7 455.6h0M1608.4 458.7h0M1610.4 466.7h0M1614.4 478.4h0M1613.6 487.4h0M1615 498.1h0M1616.2 502.6h0M1615.9 516.9h0M1615.2 524.4h0M1617.1 533.7h0M1617.3 542.6h0M1615.4 553.9h0M1615.5 562.9h0M1617.2 573.4h0M1615.7 583.7h0M1615.6 593.4h0M1615 601.2h0M1624.5 604.6h0M1632.6 605.7h0M1637.2 597h0M1637.7 586.4h0M1637.9 578.9h0M1637.2 571.3h0M1638.3 561.7h0M1636.7 555.8h0M1637.4 546.7h0M1638.2 536.5h0M1638.6 524.4h0M1639 514.7h0M1637.4 509h0M1638.9 499h0M1638.5 489.5h0M1637.2 480.2h0M1639 468h0M1638.7 462.1h0M1638.4 451.2h0M1639.6 446.2h0M1637.4 433.9h0M1638.9 426.5h0M1638.8 416.8h0M1637.9 408.9h0M1639.9 398.7h0M1639.8 386.5h0M1639.2 378.1h0M1639.9 366.6h0M1639.5 360.6h0M1639.9 349.6h0M1639.9 340.6h0M1638.7 333h0M1639.1 321.3h0M1639.3 315.1h0M1639.8 306.1h0M1640 295.6h0M1639.2 288.5h0M1640.3 279h0M1640.5 268.2h0M1640.6 280.3h0M1641.2 287.5h0M1642.7 298.1h0M1641.4 304.5h0M1643.2 316.1h0M1642.6 322.3h0M1648.4 327.4h0M1649.8 333.6h0M1652.1 342.6h0M1652 353.5h0M1652.4 360.1h0M1652.5 369.8h0M1653.3 377h0M1660.5 370.4h0M1665.6 372.1h0M1665.3 379.9h0M1666.8 391.1h0M1666.9 398.4h0M1667.2 407.3h0M1669.4 415.2h0M1675 424h0M1674.8 431.5h0M1673.8 440.1h0M1674.3 449.7h0M1674 459.1h0M1673.9 469.6h0M1677.4 480.6h0M1679.4 487.1h0M1680.2 495.9h0M1681 507.4h0M1686.1 510.6h0M1689 519.5h0M1688.5 527.8h0M1688 535.4h0M1689.5 548.3h0M1687.8 556.9h0M1687.8 568.2h0M1687.9 574.4h0M1689.1 581.6h0M1688.1 590.7h0M1689 601.9h0M1689.7 611.9h0M1690.8 621h0M1692 630.8h0M1692.1 639.1h0M1691.4 648.3h0M1692.4 655.1h0M1692.6 668h0M1692.1 673.9h0M1693.6 680.1h0M1691.5 691.3h0M1693.4 700.1h0M1692.1 710.2h0M1692.7 715.6h0M1691.6 727.1h0M1691.6 735.2h0M1692.2 743.5h0M1692.9 754.4h0M1693.4 761.4h0M1692.5 773.8h0M1691.6 784.6h0M1691.5 795.1h0M1692.5 805.9h0M1691.7 817.7h0M1691.9 824.9h0M1691.3 834.3h0M1415 836h0M1692.5 836h0"/>
<path fill="none" stroke="#fff" stroke-width="2.6" d="M1617.7 610.8l-0.2 11.1M1501.1 630.3l-4.9 7.2M1534.7 583.6l-8 10.6M1623.8 615.2l2.2 10.9M1445.5 558l6.9 8M1467.1 595.3l4 6.8M1469.9 604l5.2 5.7"/>
<path fill="none" stroke="#fff" stroke-width="3.6" d="M1628.8 641.2l0.2 3.1M1566.8 540.8l0 0.2M1515.2 626.3l-0.2 0.5M1519.4 613l0.4 2.1M1447.7 561.5l-1 1.7M1516.8 648.7l2.7 2.9M1623.6 622.4l-1.1 2.1M1550.3 542.6l1 1.3M1564 536.5l-0.1 0.6M1652.6 392.7l1.4 3.2M1565 535.9l-1.4 2.3M1472.1 623.7l-2 3.1M1628.1 654.1l0.3 1.3M1629.8 630.8l-0.4 0.7M1460.9 594.2l-0.1 2.3"/>
<path fill="none" stroke="#fff" stroke-width="5" d="M1508.2 621.7l-0.1 0.1M1627.5 627.4l0.5 0.5M1583.5 378l1 1.3M1530.9 588.7l-0.8 1.8M1602.4 466.6l1.4 2.1M1656.7 388.5l-0.1 2.8M1481.3 703.1l-1.8 2M1655.4 407.3l0.7 1.1M1520.9 617.6l0.1 1M1501.2 617.3l0.5 1.5M1658.4 390.6l0.7 2.9M1463.2 609.6l-0 3.3"/>
<path fill="none" stroke="#fff" stroke-width="3" d="M1508.8 595.6L1506.9 627.7M1543.5 511.5L1543.1 547.8"/>
<path fill="none" stroke="#fff" stroke-width="4.2" d="M1469.8 571.2L1471.5 601.1"/>
<path fill="none" stroke-width="14.4" d="M1422 411h0M1441.5 425h0M1441.5 460h0M1439.8 471.7h0M1441.5 493.3h0M1441.5 508.3h0M1418 503.3h0M1418 516.7h0M1466.6 536.7h0M1476.7 545h0M1470.6 448.3h0M1472.3 476.7h0M1472.3 486.7h0M1473.3 498.3h0M1475 508.3h0M1493.4 416.7h0M1495.1 561.7h0M1495.1 586.7h0M1506.8 583.3h0M1513.5 575h0M1513.5 536h0M1520.2 521.7h0M1533 508.3h0M1533 463.3h0M1544.7 477.7h0M1560.5 434.3h0M1640.9 348.3h0M1650.9 343.3h0M1640.9 383.3h0M1661 386.7h0M1640.9 403.3h0M1654.3 410h0M1664.3 410h0M1637.5 430h0M1676.1 476.7h0M1687.8 508.3h0"/>
</g>
<g fill="#ff6604" stroke="#ff6604" stroke-linejoin="round" stroke-linecap="round">
<path stroke-width="10" d="M1712.5 836L1712.5 676.7L1713.2 603.3L1715.6 583.3L1726.8 575L1730.9 593.3L1748 600L1760 573.3L1766.8 555L1770.2 576.7L1780.5 583.3L1783.2 432.3L1784.6 432.3L1786.3 603.3L1799.2 603.3L1802 548.3L1812.9 555L1814.6 596.7L1826.6 603.3L1833.4 576.7L1836.8 538.3L1843.6 531.7L1847 558.3L1853.9 560L1857.3 523.3L1863.4 510L1864.1 371.7L1865.5 371.7L1866.2 510L1867.5 521.7L1874.4 541.7L1882.9 555L1884.6 593.3L1898.3 593.3L1901.7 503.3L1904.1 501.7L1906.8 506.7L1915.3 508.3L1918.8 556.7L1935.8 560L1940.9 576.7L1942.7 630L1958 630L1959.7 576.7L1966.6 573.3L1973.4 571.7L1976.8 610L1983.6 633.3L1985 676.7L1985 836Z"/>
<rect stroke="none" x="1705.5" y="685.5" width="286.5" height="157.5" rx="6.5"/>
<path fill="none" stroke-width="14.4" d="M1713.4 836h0M1712.1 828.7h0M1712.3 818.7h0M1713.3 810.7h0M1711.6 798.8h0M1713.3 789.9h0M1713.6 782.4h0M1713.5 770.4h0M1712.1 761.5h0M1711.5 754h0M1712.2 747.5h0M1712.6 739.9h0M1712.1 732.6h0M1711.6 727h0M1711.6 714.3h0M1713.1 705.1h0M1713.4 698.3h0M1713.3 687.5h0M1713.5 678.6h0M1712.3 670.4h0M1713.6 661.9h0M1712.8 656.6h0M1713.1 646.1h0M1713.2 636.8h0M1714.1 630.1h0M1713.4 618.5h0M1712.2 612.3h0M1713.2 601.6h0M1715.3 592.1h0M1716 584.3h0M1721.6 577h0M1727.9 577.9h0M1729 585.3h0M1730.1 590.6h0M1738.2 598.6h0M1746.3 600.2h0M1750.4 596.2h0M1753.8 585.8h0M1759.1 578.6h0M1763.4 568.1h0M1764.8 558.7h0M1766.4 561.2h0M1768.8 572.8h0M1772.8 581.3h0M1780.2 583.3h0M1780.4 571.6h0M1779.8 564.8h0M1781.6 555.1h0M1781.9 545.4h0M1781.1 533.4h0M1780.8 523.5h0M1781.7 515.8h0M1781.3 505.3h0M1781.5 497.1h0M1781.9 486.8h0M1783.3 476.2h0M1781.5 464.2h0M1783.3 454.7h0M1781.9 448.9h0M1783 438.5h0M1783.8 433h0M1785 439.6h0M1785.3 450.2h0M1783.8 458.9h0M1785.8 469.2h0M1786.1 477.1h0M1786.2 485.7h0M1785.7 499.4h0M1786.2 505.6h0M1785 516.7h0M1784.6 528.9h0M1784.9 537.8h0M1786.4 546.9h0M1785.3 557.1h0M1785.7 565.6h0M1785.3 575.9h0M1787 587.1h0M1785.5 594.5h0M1786.5 601.8h0M1794.1 603.1h0M1798.6 600.3h0M1800.9 591.5h0M1801.2 584.1h0M1800.2 573.4h0M1802.2 566h0M1800.8 554.7h0M1803.3 549.3h0M1809.1 555.6h0M1814.3 564.9h0M1813.3 572h0M1815 579.7h0M1813.5 589.4h0M1817.2 599.4h0M1826.8 603.7h0M1828.5 597.7h0M1830.5 589.7h0M1833.5 578.8h0M1833.4 569.7h0M1835.1 561.7h0M1835.6 549.3h0M1837.4 538.8h0M1844.4 534.5h0M1845.9 540.2h0M1844.6 548.5h0M1846.9 557.7h0M1854.7 557.4h0M1854.8 549.9h0M1856.7 539.3h0M1855.8 532.6h0M1857.2 524.3h0M1860.2 514.5h0M1862.4 506.8h0M1864.1 495.7h0M1862.5 487.7h0M1863.3 480.4h0M1864.4 472.7h0M1864.3 459.4h0M1864.1 453.7h0M1862.6 443.1h0M1865 430.5h0M1864.6 421.4h0M1863.2 412.2h0M1863.5 401.8h0M1863.7 392.2h0M1863.4 384.3h0M1864.5 372.3h0M1866.3 379h0M1866 386h0M1865.6 396.4h0M1865.9 409.1h0M1864.7 419.6h0M1866.1 425.8h0M1867 434.7h0M1866.2 443.2h0M1865.1 456.2h0M1866.2 466.6h0M1865.9 474.8h0M1865.6 484.6h0M1866.6 492.1h0M1865.3 502h0M1865 509h0M1866.1 518.3h0M1869.9 527.8h0M1871.6 537.5h0M1877.1 543.5h0M1881.5 555h0M1882 562.2h0M1883.6 569.1h0M1883.3 577.2h0M1884.3 589.7h0M1888.5 593.4h0M1896.1 594.4h0M1898.9 586.8h0M1899.8 581.3h0M1900 569.7h0M1898.6 561.6h0M1899.9 551.8h0M1900.1 546h0M1899.5 536.8h0M1900.6 523.7h0M1901 514.1h0M1901.4 504.8h0M1907.1 507.5h0M1914.9 508.6h0M1915.8 515.1h0M1916 525.8h0M1917.8 530.7h0M1917.9 542.3h0M1917.3 550.9h0M1922.4 557.6h0M1932.5 561.7h0M1937 566h0M1940.4 576.1h0M1941.7 582.4h0M1942.1 593.6h0M1940.6 604.1h0M1941.1 614.3h0M1943 625h0M1943.4 630.6h0M1951.2 629.2h0M1958.1 627.3h0M1959 620h0M1958 610.4h0M1959.2 601.1h0M1959.6 588.1h0M1959.8 577.2h0M1967.8 575.5h0M1974.3 575.9h0M1973.8 580.9h0M1975 590h0M1976.3 603.4h0M1977.9 613.5h0M1980.2 621h0M1981.9 631.4h0M1982.5 639h0M1983.1 645h0M1985.2 656h0M1985.4 661.2h0M1985 672.7h0M1985.5 680.2h0M1984.6 693.2h0M1983.8 702.7h0M1984.6 711.4h0M1984 718.7h0M1985.9 730.4h0M1985.4 739.5h0M1986.1 751.7h0M1985.5 760.2h0M1984.2 769.5h0M1985.8 775.5h0M1986.2 786.1h0M1985.5 792h0M1985.8 800.1h0M1985.3 807.8h0M1984.4 818h0M1985 828.2h0M1712.5 836h0M1985 836h0"/>
<path fill="none" stroke="#fff" stroke-width="2.6" d="M1924.1 585.7l6.2 12.2M1793.2 619l-4.8 7.5M1774.9 593.6l-5.2 6.7M1792.8 616.4l3.9 8.6M1945.7 644.8l4.6 7.8M1952.4 675.6l-7.4 8.2"/>
<path fill="none" stroke="#fff" stroke-width="3.6" d="M1822 624l1.6 3M1945.5 699l-0.6 0.7M1794.3 621.3l0.2 0.7M1829.5 606l-0.4 2.6M1744.8 611.8l1.3 1.6M1876.2 568.3l-1.1 2.6M1875.6 562.7l-1.3 1.5M1920.3 568.8l-1 1.4M1889.2 618.8l-0 2.7M1799.7 619.3l-0.4 2.3M1730.8 646.7l1.1 2.7M1913.9 573.3l-1.5 2.3M1747.4 619.5l0.6 1M1928.1 580.9l-0.1 0.4M1956.6 672.1l-0.2 0.6M1834.1 614.6l-0.6 1.1M1779.4 593.1l-0.6 3.5M1928.3 577.9l0.2 2.7"/>
<path fill="none" stroke="#fff" stroke-width="5" d="M1829 615.8l1.9 2M1969.5 616.1l-0 0M1943 659.6l0 0.6M1771.8 596l1.9 2.4M1820.4 610.5l-1.3 1.7M1818.2 611.9l0.1 0.2M1827.2 616.9l0.3 0.7M1854.1 567.4l-0.4 0.5M1786.1 625l-1.9 2.9M1721.3 598.2l-0.1 0.1M1758.1 596.8l0 0.2M1749.1 607.8l-1.6 2M1770.7 591.9l-1.2 1.6M1793.3 617.4l1.5 3.4M1774.4 641.6l-0.4 1M1725.2 596.7l0.1 1.1"/>
<path fill="none" stroke="#fff" stroke-width="3" d="M1722.3 569L1723.9 598.5M1735.5 571.5L1734.9 603.1M1756.4 550.7L1759.4 600.4M1824.3 578.2L1822.9 631.2"/>
<path fill="none" stroke-width="14.4" d="M1713.9 581.7h0M1783.9 430.7h0M1808.8 525h0M1840.2 556.7h0M1864.1 306.7h0M1864.1 321.7h0M1864.1 333.3h0M1877.8 438.3h0M1852.2 453.3h0M1877.8 455h0M1905.1 478.3h0M1915.3 485h0M1930.7 540h0M1951.2 403.3h0M1951.2 436.7h0M1951.2 483.3h0M1951.2 496.7h0M1951.2 517.3h0M1962.5 546.7h0"/>
</g>
<g fill="#eb80b9" stroke="#eb80b9" stroke-linejoin="round" stroke-linecap="round">
<path stroke-width="10" d="M2005 836L2005 676.7L2005.7 543.3L2009.7 511.7L2013.1 511.7L2014.8 596.7L2028.4 596.7L2031.8 526.7L2048.7 528.3L2058.9 543.3L2065.7 550L2079.3 553.3L2089.4 523.3L2094.5 518.3L2099.6 518.3L2103 543.3L2108.1 576.7L2114.9 576.7L2118.3 526.7L2123.3 506.7L2133.5 505L2142 503.3L2147.1 493.3L2148.1 451.7L2149.5 451.7L2150.5 510L2160.6 540L2170.8 540L2176.9 533.3L2178.6 460L2180 460L2181.3 503.3L2190.5 500L2191.8 555L2194.6 556.7L2199.6 603.3L2201 643.3L2201 676.7L2201 836Z"/>
<rect stroke="none" x="1998" y="685.5" width="210" height="157.5" rx="6.5"/>
<path fill="none" stroke-width="14.4" d="M2005.4 836h0M2005.5 828h0M2005.1 816.9h0M2004.5 807.1h0M2005 799.5h0M2005.7 789.1h0M2004.8 781.9h0M2004.7 772.6h0M2004.3 767.6h0M2005.3 758.9h0M2004.6 748.4h0M2005.8 737.7h0M2005.9 726.4h0M2005.1 717.8h0M2004.8 706.6h0M2004.2 698.5h0M2005 691.3h0M2006 685.8h0M2004.4 677.1h0M2005 667h0M2006 652.9h0M2004.1 641.8h0M2005.8 634.5h0M2005.4 622.6h0M2004.7 614.9h0M2005.4 602.8h0M2004.3 594.1h0M2006.5 583.3h0M2004.4 577.7h0M2005 565.9h0M2006.6 556.7h0M2004.5 547.5h0M2006.4 538.6h0M2007.8 530.1h0M2008.1 521.9h0M2008.5 516.8h0M2012.8 513.7h0M2014.5 524.3h0M2012.8 533.3h0M2013.1 543.7h0M2013.5 552.1h0M2015 561.2h0M2014.5 568.5h0M2014.3 577.6h0M2015.2 584.7h0M2013.8 596.7h0M2022.8 596.1h0M2028.2 593.2h0M2028.9 583.1h0M2030.2 574.7h0M2031.1 566h0M2031 555.4h0M2031.6 547.9h0M2030.2 539.1h0M2032.1 529.9h0M2036.7 529.2h0M2044.5 527.3h0M2052.6 532.2h0M2055.1 541.4h0M2060.1 543.3h0M2067.7 551.5h0M2077.3 553.5h0M2080.4 549.2h0M2083.6 541.4h0M2086.9 531.2h0M2088.5 524.6h0M2093.8 520.6h0M2100.2 523.3h0M2100.9 534.7h0M2102.6 544.7h0M2104.2 549.8h0M2106.2 558.8h0M2105.6 566h0M2108.1 574h0M2114.4 576.8h0M2116.3 567.6h0M2115.7 560.4h0M2117 547.4h0M2116.9 538.1h0M2119.1 527.8h0M2121.4 516.3h0M2123.7 511.4h0M2130.1 504.8h0M2139.3 503.1h0M2146.2 499.1h0M2146.6 486.9h0M2146.8 480.4h0M2148.1 472.3h0M2147.6 465.4h0M2148.2 453.8h0M2148.4 456.7h0M2149 468.6h0M2150 476h0M2148.9 486.3h0M2149.1 494.6h0M2150 502.9h0M2150.9 511.8h0M2153.4 520.8h0M2157.8 529.3h0M2160.3 536.5h0M2169 540.2h0M2175.4 536.2h0M2177.7 531h0M2178.2 519.6h0M2177.4 508.8h0M2177.5 498.9h0M2177.2 488.7h0M2179.1 480.7h0M2178.8 470.3h0M2178.5 460h0M2181.3 470.1h0M2180.7 476.4h0M2180.7 486.7h0M2181.2 496.7h0M2185.7 502.4h0M2191 504.7h0M2190 517.7h0M2191.2 525.7h0M2192.4 535.5h0M2190.7 544.7h0M2192.7 552.1h0M2195.9 561.4h0M2195.2 568.4h0M2198.2 581.6h0M2198 590.7h0M2198.9 597.1h0M2200.5 608.9h0M2200.8 619.7h0M2201.4 628.8h0M2200.8 637h0M2201 646.9h0M2201.3 650.7h0M2201 661h0M2201.4 672.5h0M2200.2 679h0M2201.2 690.5h0M2200.7 699.6h0M2200.9 709.5h0M2200.1 717.9h0M2200.9 727.2h0M2201.9 736.4h0M2200 741.6h0M2200.3 751.8h0M2200.5 762.1h0M2201.1 776.1h0M2201.1 782.7h0M2200.3 794.9h0M2200.5 804h0M2200.2 811.1h0M2202 818.3h0M2202.1 828.4h0M2005 836h0M2201 836h0"/>
<path fill="none" stroke="#fff" stroke-width="2.6" d="M2183.5 511.6l-2 6.8M2182.8 552.5l-4.3 8.1M2106 587.7l7.4 8.8M2072.4 577.8l8.5 9.6M2042.1 542.3l3.3 6.3M2066.7 566.8l0.4 8.2"/>
<path fill="none" stroke="#fff" stroke-width="3.6" d="M2137.1 521.7l-0.2 2.1M2075 575.5l-2 3M2175.1 549.8l1.8 2M2115.1 585.6l0.7 1.7M2163 550.2l1 3.1M2170.3 569.6l-0.6 1.1M2026.9 613.2l0.3 3.2M2094.2 535.4l-0.1 1.5M2023.7 606.9l-0.6 1.6M2170.7 572.7l-0.1 0.5M2170 550.1l-1.9 2.8M2168.6 560l-0.5 0.9M2128.9 547.7l-0.9 3.2M2116.1 596.1l-0.2 0.3M2068.3 562.8l0.5 0.7M2075.2 565.2l2.3 3.1"/>
<path fill="none" stroke="#fff" stroke-width="5" d="M2043.1 554l-0.6 1.5M2109.5 587l0.1 0.2M2140.4 513.6l0.8 1M2076.3 566.4l1.1 2.8M2128.4 521.5l-0.2 3.9M2141.7 513.1l0.2 0.3M2091.9 545l1.5 2.8M2066.6 600.4l0.1 0.2M2168.7 571.4l0.7 1.1M2063.2 559.4l-0.5 0.7M2112.1 590.9l0.5 1"/>
<path fill="none" stroke="#fff" stroke-width="3" d="M2048.3 518.6L2048.8 546.5"/>
<path fill="none" stroke="#fff" stroke-width="4.2" d="M2076.6 527.1L2079.8 582.2M2125.8 496.1L2126.4 512"/>
<path fill="none" stroke-width="14.4" d="M2006.4 442.7h0M2006.4 468.3h0M2031.8 471.7h0M2031.8 486.7h0M2042 496.7h0M2058.9 501.7h0M2059.6 441h0M2069.1 480.7h0M2075.9 480.7h0M2070.8 521.7h0M2092.8 420h0M2092.8 440h0M2094.5 456.7h0M2094.5 471.7h0M2092.8 498.3h0M2103 498.3h0M2179.3 432.7h0M2203 601.7h0"/>
</g>
<line x1="223" y1="306" x2="2208" y2="306" stroke="#ff8585" stroke-width="3"/>
<g stroke="#5a5a5a" stroke-width="3" fill="none">
<path d="M221 126.5V837.5"/>
<path d="M205 836H221"/>
<path d="M205 659H221"/>
<path d="M205 482H221"/>
<path d="M205 305H221"/>
<path d="M205 128H221"/>
<path d="M220 864.5H2202"/>
<path d="M221.5 864.5V881.5"/>
<path d="M384 864.5V881.5"/>
<path d="M655.7 864.5V881.5"/>
<path d="M961 864.5V881.5"/>
<path d="M1277.5 864.5V881.5"/>
<path d="M1554 864.5V881.5"/>
<path d="M1849 864.5V881.5"/>
<path d="M2101.5 864.5V881.5"/>
</g>
<g font-family="'Liberation Sans', Arial, sans-serif" font-weight="bold" font-size="26" fill="#1a1a1a">
<text x="187" y="845.3" text-anchor="end">0</text>
<text x="187" y="668.3" text-anchor="end">2</text>
<text x="187" y="491.3" text-anchor="end">4</text>
<text x="187" y="314.3" text-anchor="end">6</text>
<text x="187" y="137.3" text-anchor="end">8</text>
<text x="221" y="922" text-anchor="middle" font-size="27.5">Chr</text>
<text x="384" y="922" text-anchor="middle">1</text>
<text x="655.7" y="922" text-anchor="middle">2</text>
<text x="961" y="922" text-anchor="middle">3</text>
<text x="1277.5" y="922" text-anchor="middle">4</text>
<text x="1554" y="922" text-anchor="middle">5</text>
<text x="1849" y="922" text-anchor="middle">6</text>
<text x="2101.5" y="922" text-anchor="middle">7</text>
</g>
<text transform="translate(106 482) rotate(-90)" text-anchor="middle" font-family="'Liberation Sans', Arial, sans-serif" font-size="44" fill="#262626">−log<tspan font-size="27" dy="8">10</tspan><tspan dy="-6" font-size="52">(</tspan><tspan dy="-2" font-style="italic">p</tspan><tspan dy="2" font-size="52">)</tspan></text>
<text transform="translate(89.5 115) scale(0.92 1)" font-family="'Liberation Serif', 'Times New Roman', serif" font-weight="bold" font-size="135" fill="#000">a</text>
<g font-family="'Liberation Serif', 'Times New Roman', serif" font-weight="bold" font-style="italic" font-size="44.3" letter-spacing="0.7">
<text x="264" y="176.5" fill="#ff0d0d">gSD1.1</text>
<text x="486" y="233" fill="#ff0d0d">gSD2.1</text>
<text x="734" y="286" fill="#ff0d0d">gSD3.1</text>
<text x="905.5" y="232" fill="#0a0a0a">gSD3.2</text>
<text x="1514" y="222" fill="#ff0d0d">gSD5.2</text>
<text x="1763" y="262" fill="#ff0d0d">gSD6.1</text>
</g>
<g fill="#0099db" stroke="#0099db" stroke-linejoin="round" stroke-linecap="round">
<path stroke-width="10" d="M237.5 1792.6L237.5 1636.7L238.2 1520L242.2 1513.3L243.9 1546.7L256.7 1546.7L259 1506.7L274.2 1505L280.9 1516.7L289.3 1520L296.1 1508.3L302.8 1486.7L307.9 1440L311.2 1436.7L321.3 1436.7L324 1470L325.4 1553.3L330.1 1578.3L355.7 1578.3L358.7 1503.3L362.4 1500L365.8 1500L369.1 1320L371.1 1320L372.5 1496.7L387 1500L388 1540L388.6 1576.7L400.4 1576.7L402.1 1536.7L412.2 1536.7L418.9 1520L429 1516.7L434.1 1453.3L439.1 1423.3L446.9 1393.3L448.2 1393.3L449.2 1436.7L452.6 1460L463.4 1461.7L462.7 1503.3L466.1 1543.3L476.2 1553.3L486.3 1570L504.8 1575L516.6 1570L521.6 1535L525 1535L528 1570L528 1636.7L528 1792.6Z"/>
<rect stroke="none" x="230.5" y="1642.2" width="304.5" height="157.4" rx="6.5"/>
<path fill="none" stroke-width="14.4" d="M236.4 1791.8h0M238.2 1781.4h0M237.1 1775.2h0M237.9 1763.3h0M237.3 1754.9h0M238.1 1747.2h0M237.9 1738.9h0M236.6 1725.3h0M236.8 1716.8h0M236.4 1709.2h0M237.1 1698.3h0M237.3 1688.8h0M236.9 1679h0M236.7 1666.6h0M237.3 1661.3h0M236.9 1649.5h0M237.5 1642.2h0M238 1633h0M237.4 1624.4h0M238.5 1613.1h0M238.7 1606.2h0M237.7 1595.6h0M238.8 1586.9h0M238.8 1578.7h0M238.5 1568.6h0M237.9 1562h0M237.5 1549.3h0M238.3 1540h0M238.7 1532.7h0M238.7 1523.7h0M240.8 1513.4h0M243.1 1523.9h0M241.9 1531.7h0M244.4 1538.1h0M245.2 1546.5h0M253.7 1547.5h0M257.9 1540.6h0M257.2 1532h0M258.1 1522.1h0M257.8 1515.2h0M262.7 1507.2h0M272.1 1507.7h0M276.4 1509.3h0M282.5 1519.7h0M290.5 1517.6h0M295.8 1511.3h0M298.7 1502.4h0M301.4 1492.7h0M302.8 1484.3h0M304.6 1477.6h0M306.2 1465.3h0M306.4 1455.4h0M305.9 1449.1h0M307.5 1441h0M313.8 1438.3h0M322.2 1438.1h0M322.1 1448h0M323.2 1458h0M322.8 1468h0M324.4 1478.1h0M323.8 1488.4h0M324.9 1497.9h0M325.3 1507.9h0M324.3 1513.5h0M325 1526h0M325.9 1535.7h0M325 1544.6h0M325 1549.7h0M327.4 1560h0M328 1566.2h0M330.8 1578h0M335.4 1577.9h0M344.7 1577.8h0M351.8 1579.3h0M356.3 1573h0M357.1 1563.1h0M357.4 1555.3h0M358 1544.3h0M357.8 1536.7h0M357.1 1528.4h0M358.7 1515.9h0M358.9 1506.3h0M364.6 1500.2h0M365.3 1491.7h0M365.1 1485.5h0M365.7 1473.9h0M367.1 1468h0M366 1456.1h0M366.9 1446.8h0M366.1 1437.7h0M367.9 1431.2h0M367.8 1422.7h0M368 1413.7h0M368.6 1405.4h0M368.5 1394.9h0M369 1385.3h0M367.6 1373.9h0M367.6 1363.7h0M367.8 1353.9h0M367.7 1346.3h0M369.5 1338.8h0M370 1330.2h0M370.5 1321.2h0M371.4 1332.1h0M371.5 1339.9h0M371.1 1348.6h0M370.5 1358.7h0M372.7 1369.9h0M370.5 1378h0M372.4 1384.2h0M371.7 1397.3h0M371.3 1402.8h0M372.9 1412.5h0M371 1420.8h0M371.6 1431.7h0M371.7 1437.3h0M371.2 1445.6h0M373.3 1454h0M373.2 1459.4h0M371.2 1471.3h0M371.3 1482.2h0M373.2 1488.5h0M373.2 1497.1h0M380.1 1497.4h0M386.6 1500.3h0M387.2 1510.8h0M388 1518.4h0M386.6 1528.2h0M387.3 1539.7h0M388 1546h0M388.6 1553.6h0M387.4 1565.3h0M387.6 1569.7h0M391.5 1576.1h0M399.4 1575.6h0M401.7 1571.1h0M401 1557.4h0M400.4 1551.9h0M401.4 1541.2h0M407.2 1535.7h0M415.4 1530.8h0M418.6 1523.6h0M424.4 1517.9h0M429.6 1510.3h0M431.3 1502.3h0M431.5 1496.5h0M432 1488.5h0M431 1478.8h0M432 1467.2h0M434.3 1455.9h0M435.3 1448.5h0M437.5 1441.4h0M437 1431.2h0M439.3 1422.2h0M440.3 1415.6h0M443.5 1407.1h0M445.8 1398.8h0M449.2 1395.1h0M448 1403.2h0M448.7 1416.3h0M449.4 1424.6h0M450.2 1434.7h0M450.4 1443.8h0M451.1 1454h0M453.2 1459.7h0M462.4 1463.9h0M463.5 1469.4h0M462.9 1479.3h0M462.8 1488.3h0M463.5 1500.5h0M462.1 1508.9h0M464.7 1519.4h0M465.4 1526.4h0M464.3 1534.2h0M466.9 1544.9h0M473.8 1550.9h0M478.9 1557.2h0M483.7 1564.5h0M492.8 1573.5h0M499.2 1575.1h0M507.8 1574.6h0M517.3 1568.8h0M518.5 1560.5h0M519.2 1550.9h0M520.7 1545.8h0M523.3 1537.4h0M525.3 1544.7h0M525.6 1552h0M527.2 1561h0M529.1 1569.2h0M527.8 1580.2h0M526.9 1584.9h0M528.9 1595h0M526.9 1601.3h0M527.6 1609h0M526.9 1621.9h0M528 1631.2h0M528.7 1639h0M528.7 1647.5h0M527.6 1657.4h0M527.6 1665.5h0M528.7 1674.5h0M528.2 1685.9h0M527.6 1694.8h0M527.5 1708.7h0M528.5 1715.8h0M528 1723.2h0M527.3 1736.6h0M528.9 1745.5h0M527.4 1755.6h0M529 1762.6h0M527.1 1772h0M528.3 1780.1h0M529.1 1791h0M237.5 1792.6h0M528 1792.6h0"/>
<path fill="none" stroke="#fff" stroke-width="2.6" d="M501 1585.1l7.1 10.3M509.8 1594.9l1.7 5.9M346 1612.9l0.6 7.9M493 1595.6l-0.5 12.5M468.9 1564.7l-9 9M389 1592.8l3.6 12.2M394.6 1626.2l-3.2 6.4"/>
<path fill="none" stroke="#fff" stroke-width="3.6" d="M255.4 1560.9l-0.2 0.3M520.3 1590.9l-0 0.4M400.7 1624l-0.1 0.4M493 1599.6l-1 1.6M297.4 1519.9l0 0.1M424.2 1541.4l-0.8 1.1M506.6 1599.4l0 2.3M275.2 1526.8l0.2 1.2M274.4 1542.1l0.2 0.3M331.5 1598.2l-0.4 0.9M339.5 1603.3l0.4 2.8M502.5 1585l0.1 0.2M305.8 1504.5l1.7 2.9M380.7 1510l0 0.5M411.4 1555.5l0.7 0.9M489.6 1582l-0.3 0.3M428.3 1532.2l2.2 3.3M245.7 1582.4l-0.6 2.4M340.1 1589.7l1 2M342.5 1595l2.4 2.5M428 1552.5l1.4 3.2M350.6 1590.1l0 0M249.5 1588.4l0 0.1M376.9 1506.9l-2 2.6M452.3 1503.5l-1.2 1.8M393.1 1624.1l1.3 1.5"/>
<path fill="none" stroke="#fff" stroke-width="5" d="M290.6 1549.4l-0 3.2M475.4 1573.7l-0.6 3.2M450.7 1463.7l-1.5 2.2M515.7 1617.4l1.6 2.9M373.8 1509.9l1.3 1.5M344.3 1602.9l-0.5 3.3M483.3 1584.3l-1 2.4M350.7 1633.1l-1 1.6M484.7 1605.4l1.8 2.4M397 1587.3l-0.7 2.6M346.9 1595.8l0.9 1.2M268.7 1539.1l0.9 1M510.7 1606.3l-0.3 2.2M354 1591l-0.1 0.2M472 1574.3l0.3 0.9M408.8 1549l-0.6 1.7M293.2 1540l-0.6 1.4M477.2 1588.9l0.6 1.5M285 1539.3l0.5 0.9M365.8 1546l0.1 0.2"/>
<path fill="none" stroke="#fff" stroke-width="3" d="M414.8 1510.4L412.2 1562M481.1 1542.5L481.6 1582M498.7 1562.6L500.1 1590.5"/>
<path fill="none" stroke="#fff" stroke-width="4.2" d="M281.9 1498.2L282.8 1527.4M338.6 1569.3L337.5 1590M509.5 1553.5L512.4 1601.7"/>
<path fill="none" stroke-width="14.4" d="M239.9 1475h0M235.5 1490h0M242.2 1500h0M267.5 1468.3h0M274.9 1486h0M294.4 1458.3h0M312.9 1420h0M324 1406.7h0M326.4 1400h0M321.3 1388.3h0M343.2 1480h0M348.2 1531.7h0M362.4 1427.3h0M370.1 1296.7h0M371.1 1271.7h0M370.1 1263.3h0M370.1 1255h0M387 1376h0M398.7 1420h0M404.5 1473.3h0M402.1 1486.7h0M403.8 1496.7h0M405.5 1526.7h0M420.6 1431.7h0M421.6 1500h0M470.1 1516h0"/>
</g>
<g fill="#ffc000" stroke="#ffc000" stroke-linejoin="round" stroke-linecap="round">
<path stroke-width="10" d="M546.5 1792.6L546.5 1636.7L547.2 1510L548.8 1505L555.5 1510L562.2 1470L568.3 1391.7L577.3 1392.7L579 1436.7L585.7 1453.3L589 1451.7L594.1 1493.3L602.4 1520L615.8 1526.7L625.9 1530L634.2 1496.7L642.6 1490L652.7 1486.7L659.4 1436.7L662.7 1425L679.4 1431.7L681.1 1470L684.5 1503.3L686.1 1570L696.2 1570L699.5 1536.7L712.9 1535L721.3 1518.3L724.7 1560L736.4 1563.3L744.7 1520L753.1 1515L763.2 1533.3L764.5 1570L764.5 1636.7L764.5 1792.6Z"/>
<rect stroke="none" x="539.5" y="1642.2" width="232" height="157.4" rx="6.5"/>
<path fill="none" stroke-width="14.4" d="M546.1 1792h0M547.5 1784.1h0M545.9 1774.2h0M546.4 1765.1h0M546.2 1754.9h0M546.9 1745.6h0M545.6 1733.4h0M546.3 1724.6h0M546.6 1715.4h0M546 1703.1h0M545.9 1693.5h0M547.5 1685.8h0M547.5 1676.6h0M546.8 1664.9h0M546.3 1659h0M547.4 1646.9h0M546 1639.8h0M546.1 1631h0M547.4 1623.2h0M545.8 1613.3h0M547.1 1605.3h0M547.3 1596h0M545.9 1586.9h0M547.8 1578.9h0M546.9 1572.1h0M547.7 1566.9h0M547.2 1556.7h0M547.1 1545.1h0M547.5 1536.7h0M546 1526.9h0M547.4 1520.5h0M547.5 1510.7h0M554 1510.6h0M556.4 1504.5h0M559.4 1495.1h0M560.4 1487.5h0M561.7 1477.5h0M561.5 1470h0M562.6 1460.1h0M563.5 1452.7h0M565.4 1443.3h0M565 1435.5h0M566.8 1422.7h0M566.8 1415.5h0M567.5 1405.1h0M569.1 1391.4h0M575.5 1392.5h0M577.3 1403.6h0M577.4 1413.4h0M578.2 1422.9h0M577.8 1433.5h0M578.9 1440.9h0M583.2 1446.1h0M588.1 1454.4h0M590.9 1459h0M591.3 1469.8h0M591.1 1475.3h0M593.6 1482.2h0M592.9 1493.8h0M595.1 1502.3h0M597.9 1507.9h0M602.1 1518h0M607.8 1522h0M616.6 1526h0M625.3 1529.2h0M628.9 1519.7h0M631.9 1510.2h0M634.9 1500.9h0M640.5 1493.9h0M647 1490.8h0M652.5 1481.4h0M655.3 1471.5h0M656.8 1462h0M656.2 1454h0M657.9 1445h0M659.9 1431.4h0M665.6 1428.4h0M674.1 1432.2h0M678.7 1437.5h0M680.8 1447.6h0M680.2 1456.3h0M681.1 1469.5h0M681.9 1476.6h0M682.8 1484.2h0M683 1494.8h0M685 1502.4h0M683.8 1510.5h0M686 1520.1h0M684.9 1530.1h0M686 1538h0M685.9 1547.8h0M686.6 1555.6h0M686.3 1563.9h0M688.6 1569.4h0M695.7 1569.2h0M698.3 1560.8h0M699 1551.3h0M698.2 1542.1h0M704.2 1536h0M711.7 1534.3h0M715.7 1529.3h0M719.8 1523.1h0M721.7 1526.1h0M723 1535.3h0M722.9 1540.2h0M725 1551.5h0M727.1 1559.6h0M736.4 1562.7h0M738.5 1551.4h0M739.6 1543h0M741.4 1532.8h0M743 1526h0M749.4 1518.3h0M757.2 1519.7h0M761.4 1528.4h0M762.8 1539.7h0M763.8 1545.9h0M763.8 1556.9h0M764.3 1566h0M763.5 1577.6h0M765.6 1585.3h0M763.6 1595.3h0M763.5 1604.4h0M763.7 1611.5h0M763.4 1619.5h0M765.3 1630.4h0M763.7 1639.7h0M764.8 1649.5h0M763.4 1657.3h0M764.6 1669.4h0M765.6 1678.4h0M763.4 1690.2h0M764.4 1700.3h0M764.7 1707h0M765.6 1719.9h0M765.6 1726.3h0M764.9 1736.6h0M764.6 1744.6h0M763.7 1753.8h0M764.5 1760.1h0M765.2 1773.6h0M763.3 1779.1h0M763.7 1787.8h0M546.5 1792.6h0M764.5 1792.6h0"/>
<path fill="none" stroke="#fff" stroke-width="2.6" d="M736.3 1575.1l-8.2 10M612.7 1541.5l-1.2 7.9M558.5 1515.3l2.1 6.8M747.4 1542.5l-2.2 6.2M610 1543.8l-1 8.3"/>
<path fill="none" stroke="#fff" stroke-width="3.6" d="M667.2 1453l-0.6 2.7M724.3 1577.7l-2.5 3.1M756.9 1547.5l-0.2 0.9M713.9 1547.5l-0 0M755.7 1538.6l0.3 2M741.1 1570.3l-0.6 2.8M608.5 1543.2l0 2.7"/>
<path fill="none" stroke="#fff" stroke-width="5" d="M618.9 1566.3l-1.5 3.1M689.7 1589.3l-0.4 3.2M668.8 1446.9l0.7 1.7M757 1538l0.5 1.6M629.4 1539l1.3 1.6M586.8 1495.1l0.4 1.2M669.4 1458.3l1.5 1.5M652.5 1496.3l0.1 0.1M694.5 1604.6l-2.1 2.3M612.7 1541.5l-0.6 1.5M636.5 1521l-0.8 1.9M634.5 1563.7l-0.1 2.8M621.6 1542.1l-0.8 0.8M724.4 1567.9l-0.6 1.7M735.2 1576.5l-1.3 1.5"/>
<path fill="none" stroke="#fff" stroke-width="3" d="M617.7 1515.3L619 1548.8"/>
<path fill="none" stroke="#fff" stroke-width="4.2" d="M606.2 1497.8L605 1529.8M673 1417.1L672.3 1435.8M711.3 1513.1L713.5 1558"/>
<path fill="none" stroke-width="14.4" d="M546.2 1432.7h0M568.9 1352.3h0M600.1 1438.3h0M628.5 1431.7h0M646 1431.7h0M646 1456.7h0M646 1470h0M661 1401.7h0M671.1 1391.7h0M661 1381.7h0M678.8 1381.7h0M677.8 1362.7h0M698.5 1431.7h0M699.5 1476.7h0M712.9 1476.7h0M709.6 1493.3h0M711.3 1510h0M746.4 1500h0M754.8 1496.7h0M742.4 1470h0M755.5 1453.3h0"/>
</g>
<g fill="#45309a" stroke="#45309a" stroke-linejoin="round" stroke-linecap="round">
<path stroke-width="10" d="M783.5 1792.6L783.5 1636.7L784.2 1526.7L801.9 1525L807 1536.7L818.9 1536.7L823.3 1501.7L826 1501.7L827.4 1580L841.6 1580L842 1381.7L843.3 1381.7L846.1 1436.7L849.5 1486.7L863.1 1505L866.5 1536.7L868.2 1553.3L880.1 1553.3L881.8 1490L885.2 1486.7L893.7 1480L902.2 1490L909 1490L915.1 1473.3L916.4 1473.3L919.2 1503.3L929.4 1516.7L936.2 1536.7L946.4 1563.3L960 1570L968.4 1543.3L973.5 1531.7L987.1 1536.7L999 1538.3L1007.5 1530L1017.7 1513.3L1024.5 1506.7L1027.9 1505L1031.3 1530L1036.4 1500L1048.3 1471.7L1053.4 1458.3L1058.5 1455L1061.9 1480L1072.1 1483.3L1077.2 1461.7L1095.9 1465L1102.7 1483.3L1109.5 1503.3L1114.6 1536.7L1124.2 1536.7L1129.9 1560L1138.4 1575L1141.5 1603.3L1141.5 1636.7L1141.5 1792.6Z"/>
<rect stroke="none" x="776.5" y="1642.2" width="372" height="157.4" rx="6.5"/>
<path fill="none" stroke-width="14.4" d="M784.4 1791.5h0M782.6 1784.9h0M783.7 1777.6h0M782.9 1766.3h0M782.4 1759.7h0M783.9 1745.2h0M782.8 1738.5h0M784.1 1727.7h0M782.7 1715.4h0M782.3 1706.4h0M784.6 1697h0M783.5 1688.6h0M782.6 1679.2h0M783.3 1672.9h0M783 1666.2h0M782.5 1655.4h0M783.1 1646.9h0M783.1 1638.2h0M783.9 1628.1h0M783.6 1616.9h0M784.2 1604.1h0M783.8 1594.7h0M782.7 1588.2h0M784.4 1575.5h0M782.8 1568h0M783.6 1561.1h0M782.9 1552.3h0M783.2 1539h0M783.3 1531.6h0M789.4 1524.6h0M799.5 1523.9h0M804.1 1533.5h0M807.7 1536.5h0M818.4 1537.2h0M819.4 1529.6h0M821.4 1522.1h0M821.1 1511.1h0M822.9 1502.8h0M827.1 1506.4h0M825.2 1514.7h0M826.5 1525.7h0M827.2 1533.8h0M827.5 1544.3h0M827.6 1553.9h0M827.7 1564.5h0M826.1 1574.1h0M830.7 1579.5h0M841.5 1582.2h0M842.6 1573.1h0M842 1562.1h0M840.6 1555.9h0M840.9 1547.8h0M841.3 1535.4h0M840.8 1528.9h0M842.1 1519.4h0M841.9 1512.1h0M842.5 1502.3h0M841.6 1491.6h0M840.9 1484.4h0M840.8 1476.2h0M842.8 1469.9h0M841.6 1457.5h0M841 1449h0M843 1439.3h0M841.8 1430.6h0M840.9 1424h0M840.7 1415.9h0M841.7 1406.5h0M842 1396.1h0M843.1 1387h0M843.9 1385.4h0M844.9 1393.9h0M843.4 1406.4h0M845 1416.1h0M845.8 1425.5h0M845.1 1434.7h0M846.1 1445.3h0M847.6 1456.5h0M847.9 1466h0M849 1476h0M848.5 1483.6h0M852.9 1489.8h0M859.3 1498.5h0M862.4 1507.7h0M863.2 1516.2h0M866.5 1525.8h0M865.1 1534h0M866.1 1540.8h0M867.2 1554.3h0M874.2 1552h0M879.4 1547.7h0M880.7 1538.9h0M879.6 1531.4h0M882.1 1522.1h0M881.6 1510.8h0M880.8 1503.2h0M880.7 1490.2h0M888.1 1483.3h0M894.3 1480.3h0M902.3 1489.5h0M909.9 1489.3h0M912.4 1478.3h0M916.2 1477.4h0M918.3 1484.5h0M917.5 1493.3h0M917.9 1501h0M923 1509.7h0M928.8 1516.1h0M932.3 1524h0M936 1535.2h0M937.7 1541.9h0M941.5 1551h0M945.5 1560.3h0M951 1566.7h0M958.9 1570.1h0M962 1561.6h0M966.1 1551.3h0M969.3 1541.6h0M972.2 1531.1h0M982.6 1533.7h0M992.2 1536.2h0M998 1539.7h0M1006.1 1532.5h0M1011.3 1523h0M1017.1 1515.4h0M1023.2 1509.4h0M1029.7 1509.5h0M1030.9 1521.1h0M1030 1527.8h0M1032.9 1525.2h0M1033.1 1516.4h0M1034.9 1507.5h0M1038 1497.1h0M1041.7 1491.6h0M1043.7 1480.6h0M1048.7 1474.8h0M1052.7 1464.4h0M1058.5 1455.3h0M1059.4 1462.5h0M1060.6 1472.8h0M1062.4 1479.8h0M1069.1 1481.9h0M1073.9 1480.5h0M1075.7 1470.5h0M1079.2 1463.7h0M1085.9 1465.3h0M1095.5 1464.2h0M1099.5 1476.4h0M1104.2 1487.5h0M1105.4 1495.2h0M1110.8 1504.5h0M1109.9 1512.3h0M1112 1521h0M1113.9 1533.4h0M1119.6 1536.2h0M1125.4 1540h0M1127.3 1551.9h0M1129.8 1558.4h0M1134 1568.8h0M1139.6 1574.4h0M1139.6 1584.7h0M1140.9 1594.3h0M1140.2 1601.9h0M1141.5 1610.1h0M1140.4 1621.5h0M1141 1633.3h0M1141 1640.9h0M1140.9 1650.8h0M1140.9 1663.2h0M1140.6 1674.1h0M1142.4 1682.2h0M1142.6 1692.1h0M1141.1 1701.3h0M1140.4 1710.3h0M1140.5 1721.8h0M1141.4 1730.3h0M1140.5 1737.4h0M1140.9 1747h0M1140.9 1756.3h0M1142.3 1763h0M1141.3 1771.8h0M1141.5 1781.6h0M1140.4 1790.9h0M783.5 1792.6h0M1141.5 1792.6h0"/>
<path fill="none" stroke="#fff" stroke-width="2.6" d="M948.3 1608.3l0.8 11.9M1028.9 1532.4l1.2 7.8M1062.6 1493.9l-0.6 9.7"/>
<path fill="none" stroke="#fff" stroke-width="3.6" d="M848.6 1508.7l-0.3 3.2M872 1586.7l-0.9 1.1M1045.8 1508.3l-1.2 1.9M943.6 1585.4l-0 1.3M803.8 1541.9l-0.2 0.4M830.8 1603.3l2.4 2.5M924.1 1531.8l-1.3 2.1M994.3 1564.2l0.3 1.1M947 1576.7l0.7 3.6M827.2 1613.4l0.9 1.6M984.5 1554.8l-0.2 0.9M1049.8 1508.6l-1.2 1.5M802.7 1547.9l-1.2 3.5M907.5 1500.1l1 2.1M943.3 1624.4l1.5 2M1099.6 1497l-1.4 2.5M1008.9 1549.9l-0.4 0.8M970.4 1575.2l0.2 0.4M804 1561.6l0.1 0.3M945 1579.2l-1.6 1.7M1116.6 1549.7l0.2 0.6M1082.7 1484.1l-1.5 1.8M870.6 1576.5l-0 0.4M1042.8 1502.7l0.9 3.1M1012.9 1533.7l-0.2 0.7M830.1 1594.7l-1.5 2.5M1005.4 1556.1l0.7 0.8M945.8 1575.8l0.7 1.5M949 1581l1.2 2.8M1100.2 1496.5l-2.5 3M830.3 1602.8l0.8 1.8M1112.7 1546.6l-0.2 1M839 1607.5l0.1 0.2M1126.3 1569.4l0.7 1.6M1114.6 1550.5l-0 0.7M1101.7 1510.5l1.8 3.6M834 1592.5l-0 1M831.4 1604.6l-1.6 2M1042.3 1504.8l-0.5 0.8M1022.6 1520.9l0.2 1M937.4 1579.6l-0.3 0.6M892.6 1549.8l0.2 2.4M1023.6 1525.2l-1.1 1.4M900.4 1556.9l2.2 2.2M878.1 1568.6l2 2.5"/>
<path fill="none" stroke="#fff" stroke-width="5" d="M964.8 1582.3l1.5 2.1M1083.8 1475.3l0.5 1.1M907.9 1500.9l0.6 1.6M951.8 1592.4l-0.2 0.7M946.2 1594.4l0.9 1.8M799.1 1547.3l-0.4 2.7M1023.4 1533.4l-0.5 1.2M1013.1 1558.3l1.1 1.6M1019.6 1542.3l0.3 1M1087.4 1508.9l-0 0.4M943 1568.1l0.6 2.7M803.9 1545l1.5 1.4M1053.6 1478.3l0.7 1.1M982.3 1547.6l-2.3 2.8M817.4 1558.6l-0 0.7M870.8 1587.9l-0.4 0.6M908 1525.8l-2.5 2.9M1103.2 1506.3l0.9 2.1M1088.4 1475.9l0.2 0.5M970.6 1561.9l0.8 3.9M816.9 1548.2l-0 0M895.4 1502.2l0.3 0.4M792.4 1537.4l-0.7 3.1M908.5 1499.8l-0.6 1.4M947.9 1608l-0.9 2.7"/>
<path fill="none" stroke="#fff" stroke-width="3" d="M797.6 1516.4L797.1 1535.8M964.3 1532.5L960.7 1585M989.9 1525.8L987.6 1562.5M1009.7 1506.6L1009 1554.2"/>
<path fill="none" stroke="#fff" stroke-width="4.2" d="M857.5 1477.9L855.9 1512.3M927.8 1494.9L926.3 1517.5M936.6 1506.8L935.3 1548.8M1081.9 1453.5L1082.2 1474.5M1129 1527.7L1127.1 1567.1"/>
<path fill="none" stroke-width="14.4" d="M791.7 1450h0M783.2 1458.3h0M783.2 1466.7h0M784.9 1495h0M795.1 1496.7h0M824 1420h0M824 1474.3h0M842.7 1351h0M842.7 1320.7h0M841.6 1273.3h0M842.7 1261.7h0M841.6 1255h0M842.7 1218.3h0M842.7 1228.3h0M899.8 1356.7h0M938.9 1474.3h0M948.7 1456.7h0M930 1277.3h0M963.3 1379h0M951.5 1511.7h0M948.1 1536.7h0M997.3 1448.3h0M1004.1 1510h0M973.5 1513.3h0M975.2 1523.3h0M973.5 1491.7h0M980.3 1484.3h0M987.8 1480.7h0M997.3 1485.7h0M1004.8 1489.3h0M1011.6 1492.7h0M1018.4 1498.3h0M972.9 1502.3h0M1058.5 1435h0M1060.2 1408.3h0M1030.3 1405h0M1077.2 1403.3h0M1085.7 1400h0M1090.8 1410h0M1094.2 1416.7h0M1077.2 1423.3h0M1077.2 1430h0M1094.2 1438.3h0M1109.5 1449.3h0M1109.5 1473.3h0M1138.4 1476h0M1124.2 1513.3h0"/>
</g>
<g fill="#445221" stroke="#445221" stroke-linejoin="round" stroke-linecap="round">
<path stroke-width="10" d="M1160.5 1792.6L1160.5 1636.7L1161.2 1578.3L1168.6 1570L1172 1560L1185.6 1563.3L1199.2 1566.7L1209.4 1570L1214.5 1483.3L1217.8 1481.7L1221.2 1503.3L1234.8 1486.7L1239.9 1503.3L1253.5 1503.3L1260.3 1490L1270.4 1491.7L1276.6 1466.7L1277.9 1466.7L1284 1481.7L1290.8 1500L1301.3 1496.7L1301.3 1496.7L1311.2 1503.3L1318 1480L1321.3 1480L1328.1 1500L1341.7 1490L1348.5 1506.7L1362.1 1518.3L1379 1531.7L1394.3 1530L1396 1570L1396 1636.7L1396 1792.6Z"/>
<rect stroke="none" x="1153.5" y="1642.2" width="249.5" height="157.4" rx="6.5"/>
<path fill="none" stroke-width="14.4" d="M1161.6 1792.6h0M1161.5 1783.1h0M1161.5 1776.2h0M1160.9 1766.7h0M1159.8 1759.3h0M1159.7 1750.8h0M1159.7 1740.8h0M1160.3 1732.4h0M1159.7 1722.8h0M1161.3 1715.2h0M1161.1 1709.9h0M1161.6 1698.6h0M1160.1 1686.1h0M1161.5 1676.2h0M1160.8 1668.6h0M1160.7 1659.5h0M1160.7 1649.8h0M1159.8 1637.2h0M1159.5 1629.6h0M1161.5 1621.2h0M1160.9 1612.4h0M1160.8 1601.6h0M1160.3 1594.7h0M1160.6 1584.7h0M1164.4 1574.6h0M1169.1 1568.7h0M1173.4 1561.8h0M1183.1 1561.2h0M1190 1563.8h0M1200.4 1569.4h0M1209 1568.3h0M1208.7 1562.3h0M1211.5 1552.1h0M1209.9 1542.9h0M1210.9 1537.1h0M1212.1 1527.3h0M1211.7 1515.6h0M1212.1 1506.1h0M1213.6 1493.6h0M1214.4 1486.7h0M1217.8 1483.3h0M1219.3 1491.2h0M1220.1 1504.7h0M1225.9 1499.6h0M1231.1 1493.1h0M1235.6 1490.4h0M1238.3 1500.6h0M1242.8 1504.7h0M1252 1505.8h0M1258.5 1495.8h0M1265.8 1490.8h0M1272.3 1488.3h0M1273.6 1478.4h0M1277 1469.1h0M1280.6 1472h0M1283.6 1479.2h0M1287 1489.6h0M1289.4 1495.8h0M1295.9 1500.5h0M1302.8 1500.5h0M1312.8 1503.9h0M1313.5 1494.4h0M1317.2 1485.4h0M1322.2 1480.7h0M1325.5 1490.1h0M1328.1 1499.6h0M1336.2 1496.3h0M1342.6 1491.3h0M1346.5 1500.1h0M1349.9 1506.2h0M1353.7 1514.2h0M1361 1519.3h0M1368.9 1525.7h0M1376.5 1528.2h0M1383.6 1531.3h0M1391.8 1530h0M1393.8 1536.3h0M1394.1 1546.9h0M1394.8 1557.6h0M1394.8 1566.6h0M1395.1 1575.6h0M1396.6 1583.5h0M1395.2 1594.3h0M1395.4 1603.2h0M1395.7 1615.6h0M1396.7 1624.3h0M1396.9 1633.4h0M1395.7 1639h0M1396.9 1651.4h0M1396.6 1660.4h0M1396.4 1668.7h0M1396.3 1677.7h0M1395.4 1687.9h0M1394.9 1698.4h0M1396.5 1704.1h0M1395.6 1716.9h0M1396.8 1726.8h0M1395.4 1734.3h0M1396 1743h0M1395.4 1755.4h0M1396.5 1764.5h0M1395.8 1776.3h0M1396.7 1783.7h0M1395 1792.6h0M1160.5 1792.6h0M1396 1792.6h0"/>
<path fill="none" stroke="#fff" stroke-width="2.6" d="M1266.7 1517.8l-6.2 10.3M1174.6 1575.2l5.8 12.3M1341.3 1517.9l-1.9 8.3M1329.4 1535.9l0 7.1M1287.5 1519.4l1.6 10.4M1167.4 1599.8l-1.3 8.3"/>
<path fill="none" stroke="#fff" stroke-width="3.6" d="M1262 1516.7l0.9 2.2M1362.4 1532.2l1 2.2M1209.6 1609.8l-0.8 2.4M1317.5 1507.4l0 0.3M1193.7 1578.3l0.3 0.3M1301.3 1513.8l0.8 2.5M1263 1514.5l0.2 3.2M1383 1541.4l0.5 2.1M1285.9 1529l1.9 1.9M1291.7 1558.1l-0.9 3.1M1254.6 1561.6l-0.2 1M1273.6 1495.5l0.7 1.5M1374.2 1552.7l-0.6 3M1371.2 1572.6l0.3 0.4M1287.3 1516.5l-0.4 0.8M1175.8 1578.4l2.5 3.1M1192.8 1583.8l0.9 1.4M1204.6 1588.2l-0.2 0.3M1246.7 1530.5l0 0.3M1367 1538.3l0.2 1.3M1339.2 1504.9l-0.5 1.4M1196.6 1575.1l0.3 2.4M1225.9 1521.9l-0.5 1.2M1346 1514.5l-0 0.6M1364 1544.1l-0.3 0.3M1249.3 1528.8l0.1 0.2M1195.1 1623.8l0.6 1.4M1186.9 1609.7l-1.5 1.7M1272.5 1494.7l0.3 4M1333.5 1511.1l-0.7 1.3M1249.8 1513.2l-1.8 2.9M1372 1563.3l-0.1 2.1M1190.9 1580.4l0.4 0.5"/>
<path fill="none" stroke="#fff" stroke-width="5" d="M1195.3 1581l1.4 2.9M1340.8 1505.7l1.9 3.3M1207.7 1585.8l-2.3 2.2M1337.8 1510.3l0.4 3.6M1227 1517.3l0.1 0.1M1386.8 1561.2l0.4 1.5M1181.4 1579.2l0.1 0.1M1251.3 1516.2l-0.3 2.3M1249.5 1512.6l-0.1 0.7M1351.8 1542.6l0.4 1.1"/>
<path fill="none" stroke="#fff" stroke-width="3" d="M1194.5 1555L1197 1595.5M1261.1 1481L1258.9 1513.1M1288.9 1464.8L1286.7 1519.9M1316.4 1476.3L1316.4 1494.6M1348.7 1483L1350.3 1530.1M1366.2 1506.6L1365.4 1547.8M1382.6 1520.5L1384 1541.9"/>
<path fill="none" stroke="#fff" stroke-width="4.2" d="M1173 1551.1L1171.3 1580.4M1245.8 1491.2L1246.3 1532.1M1329 1476.3L1330.8 1512.7"/>
<path fill="none" stroke-width="14.4" d="M1172 1535h0M1178.8 1536.7h0M1184.9 1543.3h0M1199.2 1541.7h0M1197.5 1556.7h0M1169.3 1552.7h0M1178.8 1505h0M1187.3 1432.3h0M1229.7 1458.3h0M1245 1460h0M1277.2 1441.7h0M1277.2 1428.3h0M1277.2 1416.7h0M1277.2 1383.3h0M1277.2 1353.3h0M1295.9 1448.3h0M1397.7 1521.7h0"/>
</g>
<g fill="#f7056f" stroke="#f7056f" stroke-linejoin="round" stroke-linecap="round">
<path stroke-width="10" d="M1415 1792.6L1415 1636.7L1415.7 1543.3L1418 1538.3L1426.3 1536.7L1433 1503.3L1439.7 1460L1448 1470L1453 1486.7L1459.6 1503.3L1465.6 1463.3L1468.3 1463.3L1469.6 1516.7L1476.3 1533.3L1479.6 1626.7L1493 1626.7L1494.6 1556.7L1512.9 1556.7L1522.9 1536.7L1532.9 1505L1542.9 1501.7L1552.9 1505L1559.6 1530L1567.9 1533.3L1572.9 1436.7L1574.6 1356.7L1576.2 1388.3L1584.6 1395L1594.6 1395L1596.9 1301.7L1598.9 1301.7L1600.2 1395L1604.6 1436.7L1609.5 1441.7L1611.2 1470L1614.5 1536.7L1617.9 1550L1634.5 1550L1636.2 1386.7L1639.5 1386.7L1642.9 1446.7L1652.9 1448.3L1659.5 1470L1669.5 1490L1679.5 1486.7L1682.2 1461.7L1683.5 1461.7L1684.5 1536.7L1689.5 1603.3L1692.5 1636.7L1692.5 1792.6Z"/>
<rect stroke="none" x="1408" y="1642.2" width="291.5" height="157.4" rx="6.5"/>
<path fill="none" stroke-width="14.4" d="M1414.5 1791.5h0M1413.9 1783.2h0M1416.2 1772.8h0M1414.5 1763.8h0M1416 1753h0M1414.4 1747.5h0M1414.5 1736h0M1414 1725h0M1415.6 1717.3h0M1414.1 1705.9h0M1414 1694.2h0M1415.7 1684.3h0M1414.2 1671.9h0M1414.3 1663h0M1414.8 1653.5h0M1415.4 1641.9h0M1416.2 1631.3h0M1415.8 1622.9h0M1414.7 1615.9h0M1415.2 1608.2h0M1414.4 1597.6h0M1415.5 1586.4h0M1414.3 1581.2h0M1415.5 1571.9h0M1415.6 1564.6h0M1416.1 1556.6h0M1416.1 1547.5h0M1416.9 1539.3h0M1424.9 1538.3h0M1427.4 1527.5h0M1430.9 1517.7h0M1432.6 1506.9h0M1433.8 1502h0M1435.8 1489.6h0M1436 1483.3h0M1437.2 1477h0M1437.7 1466.2h0M1442.2 1465.7h0M1446.9 1470.2h0M1449.5 1477.9h0M1453 1488.7h0M1456 1497.2h0M1460.4 1505.2h0M1460.2 1494.4h0M1461.9 1488.4h0M1463.3 1477h0M1466.3 1466.6h0M1468.7 1469.6h0M1468.3 1474.4h0M1468.2 1483.4h0M1469.4 1496.1h0M1468.7 1505h0M1470 1515.1h0M1473.4 1526.3h0M1475.3 1531h0M1475.6 1538.3h0M1477 1548.3h0M1477.9 1561.3h0M1477.8 1567.1h0M1478.6 1578.1h0M1478.9 1589.3h0M1478.3 1596.9h0M1478.8 1609.7h0M1480.1 1620.2h0M1481.5 1627.3h0M1492.4 1627h0M1494 1613.8h0M1492.7 1607.2h0M1494.7 1597.2h0M1494.1 1592.2h0M1494 1584.5h0M1495 1575.6h0M1494.6 1563.7h0M1495.3 1555.8h0M1502.4 1555.2h0M1511.6 1556.8h0M1516.9 1549.7h0M1521.8 1542.3h0M1524.3 1533.9h0M1527.7 1523.1h0M1530.5 1515.5h0M1532.2 1510.1h0M1536.5 1505.8h0M1542.8 1501.3h0M1554.1 1507h0M1556.8 1514.9h0M1557.3 1526.8h0M1564.8 1533.7h0M1567.3 1527.7h0M1569.4 1516h0M1569 1508.2h0M1570 1499.9h0M1571 1490.8h0M1570.7 1479.2h0M1570.5 1470.2h0M1570.6 1463.8h0M1572.1 1452.3h0M1572.3 1441.8h0M1574 1431.3h0M1573.7 1420.8h0M1573.8 1414.8h0M1573.3 1406.1h0M1574.1 1393.8h0M1574.4 1383.5h0M1573.2 1374.3h0M1575.6 1367.3h0M1575.3 1358.8h0M1575.2 1367.5h0M1576.2 1374.3h0M1576.9 1384.8h0M1579.3 1388.8h0M1586.1 1394.7h0M1595.7 1393.2h0M1595.8 1383.2h0M1595.2 1375.5h0M1596.3 1366.5h0M1595.9 1359.7h0M1596.6 1350.6h0M1594.8 1338.6h0M1595.4 1328.4h0M1596.9 1320.6h0M1597.4 1311h0M1599 1303.8h0M1598.6 1309.1h0M1599.4 1319h0M1599.3 1327.1h0M1599.8 1338h0M1600 1346.5h0M1600.7 1358h0M1600.5 1367.5h0M1600.9 1378.7h0M1599.7 1387.3h0M1600.7 1394.2h0M1600.1 1404.9h0M1603 1414.8h0M1604 1426.7h0M1605.4 1434.1h0M1609.1 1441.4h0M1609.1 1454.7h0M1610 1462.9h0M1611.3 1471h0M1611.8 1479.9h0M1612.1 1489.2h0M1613.1 1496.3h0M1613.9 1504.6h0M1613 1512h0M1614.2 1522.2h0M1614 1532.2h0M1615.5 1536.2h0M1615.5 1544.7h0M1620.5 1548.9h0M1631.2 1552.1h0M1635 1548h0M1635.5 1537.3h0M1635.9 1528.9h0M1635.5 1517.4h0M1635.7 1506.7h0M1635.8 1501.1h0M1635.1 1491.4h0M1636.1 1479.9h0M1634.6 1471.8h0M1636.2 1463.3h0M1636.3 1454h0M1634.7 1446h0M1636.5 1434.2h0M1636.5 1423.1h0M1636 1412.8h0M1637.1 1406.6h0M1636.1 1394.7h0M1637.2 1387.2h0M1639.5 1393.9h0M1639.5 1405h0M1641.7 1412.2h0M1641.1 1424.3h0M1641.9 1432.4h0M1641.4 1440.6h0M1643.9 1446.4h0M1653.3 1448.7h0M1656.8 1458.9h0M1660.5 1469.3h0M1662.4 1478.5h0M1666.7 1484.3h0M1672.7 1490.7h0M1678.6 1485.9h0M1679.3 1479.8h0M1680.4 1471h0M1684.2 1461.4h0M1683 1470.4h0M1683.3 1477.7h0M1682.8 1490.6h0M1683.5 1499.7h0M1684.9 1505.6h0M1684 1517.4h0M1684 1523.3h0M1684.9 1534.6h0M1684 1545.2h0M1684.9 1553.3h0M1687.1 1563.5h0M1686.4 1571.8h0M1688.8 1583.5h0M1689.2 1594.6h0M1690.2 1600.6h0M1691 1611.7h0M1691.2 1616.7h0M1692.9 1628.9h0M1692.9 1639.2h0M1692.7 1649.3h0M1692.6 1659.7h0M1692.3 1667.3h0M1693.3 1677.5h0M1693.1 1686.4h0M1692.7 1692.4h0M1693.4 1704.2h0M1693.6 1715.5h0M1691.8 1725.3h0M1692.6 1735.2h0M1691.7 1745.3h0M1693.3 1752h0M1693.1 1759.6h0M1692.6 1769.2h0M1692.6 1779.5h0M1691.7 1788.7h0M1415 1792.6h0M1692.5 1792.6h0"/>
<path fill="none" stroke="#fff" stroke-width="2.6" d="M1590.5 1408.7l5.5 8.6M1563.8 1541.4l4 13.1M1646.8 1461.7l-1.6 7.7M1626.7 1562.8l3.3 9M1645 1485.3l0.5 7M1509.4 1573.3l-2.3 11.5M1645.9 1470.1l3.4 5.6M1674.5 1498.5l-0.6 11.2"/>
<path fill="none" stroke="#fff" stroke-width="3.6" d="M1520.4 1572.8l0.2 0.3M1523.3 1572.6l-0.2 2M1618.4 1561.2l-0.7 1.4M1559.6 1559.4l0 0.1M1452.9 1506.6l-0.2 2.3M1541.7 1526.5l-0.1 1.6M1507.6 1581.7l-1.8 2.7M1540.9 1512.8l-0.4 1.9M1482 1652l-0.1 2.2M1489.6 1640.5l-1 2.5M1449.3 1507.7l0.7 3.2M1425 1552.5l-1.8 2.6M1538.4 1572.2l-1.2 3.7M1625.4 1559.4l-0.4 1.4M1488.3 1658.8l-1.2 1.2M1502.8 1625.7l-1.8 2.5M1500.9 1577.6l0.3 2M1506.4 1568.6l-1.1 3.6M1629.4 1567.4l-1.8 1.9M1440.6 1509.5l-0.2 0.3M1583.6 1443.4l0.2 2.5"/>
<path fill="none" stroke="#fff" stroke-width="5" d="M1652.4 1502.8l-0.2 0.3M1512.5 1593.1l-2.2 2.5M1661.9 1505.2l0.9 1.1M1649.5 1463.8l0.1 1.1M1667.7 1499.8l-0.2 2M1658.6 1496.5l-0.7 3.6M1503.9 1568.8l1.7 2.1M1634.5 1575.2l0.3 1.8M1479.8 1637.6l1.7 2.4"/>
<path fill="none" stroke="#fff" stroke-width="3" d="M1445.9 1457.6L1445.2 1484.1M1542.7 1492.8L1542.7 1531.2M1628.3 1537.2L1626.7 1564.3"/>
<path fill="none" stroke="#fff" stroke-width="4.2" d="M1516.2 1526L1516.5 1553.8M1561.7 1502L1561.4 1553.7M1584.6 1380.4L1584.4 1407.2M1664.8 1450.2L1661.7 1503"/>
<path fill="none" stroke-width="14.4" d="M1423 1480h0M1419.7 1488.3h0M1447.3 1444h0M1466.3 1373.3h0M1471.3 1386.7h0M1493 1453.3h0M1499.6 1493.3h0M1516.3 1481.7h0M1512.9 1496.7h0M1499.6 1516.7h0M1532.9 1436.7h0M1541.3 1431.7h0M1554.6 1441.7h0M1542.9 1450h0M1542.9 1465h0M1552.9 1486.7h0M1542.3 1392.7h0M1574.6 1370h0M1597.9 1283.3h0M1597.9 1273.3h0M1597.9 1261.7h0M1597.9 1238.3h0M1597.9 1230h0M1597.9 1225h0M1637.9 1360h0M1637.9 1325h0M1637.9 1306.7h0M1636.2 1280h0M1634.5 1270h0M1632.9 1260h0M1634.5 1246.7h0M1656.2 1381.7h0M1666.2 1376.7h0M1665.2 1419.3h0M1682.8 1441.7h0M1607.9 1456.7h0"/>
</g>
<g fill="#ff6604" stroke="#ff6604" stroke-linejoin="round" stroke-linecap="round">
<path stroke-width="10" d="M1712.5 1792.6L1712.5 1636.7L1713.2 1536.7L1715.6 1533.3L1717.3 1556.7L1729.2 1556.7L1734.4 1498.3L1745.6 1485L1747 1485L1760 1505L1760.6 1620L1774.6 1620L1776 1550L1782.2 1548.3L1795.8 1543.3L1804.4 1526.7L1812.9 1538.3L1819.7 1563.3L1831.7 1563.3L1835.1 1506.7L1839.5 1503.3L1841.9 1550L1853.9 1563.3L1860.7 1503.3L1865.8 1456.7L1867.2 1456.7L1870.9 1503.3L1877.8 1536.7L1886.3 1536.7L1890.8 1488.3L1892.1 1488.3L1894.8 1516.7L1906.8 1520L1915.3 1540L1932.4 1531.7L1939.2 1530L1946.1 1536.7L1951.2 1528.3L1961.4 1536.7L1970 1560L1983.6 1563.3L1985 1603.3L1985 1636.7L1985 1792.6Z"/>
<rect stroke="none" x="1705.5" y="1642.2" width="286.5" height="157.4" rx="6.5"/>
<path fill="none" stroke-width="14.4" d="M1712.5 1792.6h0M1711.3 1780.9h0M1712.4 1775.5h0M1712.3 1765.2h0M1712.5 1758h0M1713.5 1750.1h0M1712.9 1740.6h0M1713.4 1734.6h0M1712.7 1723.1h0M1712.4 1711.6h0M1711.7 1700.7h0M1712.6 1692h0M1711.9 1679.9h0M1711.7 1669.7h0M1713.4 1661.8h0M1712.9 1652.1h0M1712.3 1645h0M1713 1637h0M1713.7 1626h0M1712.8 1615.2h0M1711.6 1609.1h0M1712.7 1600.1h0M1713.1 1591.2h0M1713.4 1578.8h0M1713.6 1572.1h0M1711.9 1559.6h0M1714.2 1550.6h0M1713.1 1543.3h0M1714.9 1537.2h0M1715.3 1544.4h0M1716.3 1554.5h0M1725.5 1558.2h0M1730 1553.8h0M1730 1543.7h0M1732.3 1531.6h0M1732.9 1519.6h0M1734.4 1511.5h0M1733.3 1500.1h0M1738.9 1493.3h0M1744.6 1488h0M1751.5 1490.4h0M1758.1 1500.7h0M1759 1508.8h0M1761.2 1517.9h0M1760.5 1526.6h0M1760.8 1536.7h0M1759.8 1546.9h0M1761.2 1555.7h0M1760.2 1561.8h0M1760.2 1570.7h0M1760 1580.4h0M1760.7 1587.4h0M1760.1 1594.9h0M1760.2 1603.3h0M1759.4 1612.2h0M1763.5 1622h0M1770.4 1619.9h0M1774.7 1614.6h0M1774.1 1605.3h0M1773.9 1597.3h0M1774.2 1588.1h0M1774.7 1583.1h0M1774.7 1571.6h0M1774.8 1560.7h0M1777 1551.3h0M1788.9 1545.4h0M1795.6 1542h0M1800.2 1533.9h0M1803.9 1528.9h0M1809.7 1534.8h0M1813 1540.5h0M1815.3 1549.6h0M1818.2 1561.6h0M1828.7 1562.8h0M1831.1 1556.2h0M1832 1548.2h0M1832.2 1537.7h0M1834.9 1527.7h0M1833.4 1517.3h0M1834.6 1509h0M1840.3 1503.4h0M1840.5 1515.4h0M1841.1 1524.5h0M1842.2 1535.5h0M1841.2 1543.1h0M1843.3 1552.7h0M1849.8 1560.5h0M1855 1561.8h0M1854.7 1551.2h0M1856.4 1542.4h0M1856.1 1533.2h0M1859.2 1525.9h0M1858.7 1517.7h0M1860 1508.3h0M1860.5 1501.6h0M1861.8 1492.6h0M1863.9 1482.3h0M1864.8 1472.6h0M1864.1 1465.6h0M1866.6 1458.6h0M1866.8 1463.6h0M1868.9 1472.9h0M1869.6 1484.2h0M1868.8 1491.1h0M1870.6 1502.6h0M1872.1 1510.3h0M1874.5 1517.1h0M1875.4 1524.7h0M1877.7 1537.8h0M1884.4 1538.7h0M1887.7 1528.8h0M1888 1518.1h0M1888.8 1510.4h0M1889.8 1499.6h0M1891.4 1489.2h0M1894 1497.2h0M1893.7 1505h0M1896.3 1516h0M1902.4 1517.6h0M1909.6 1524.6h0M1912.6 1530.8h0M1914.9 1541.7h0M1923.1 1536.6h0M1934 1532.1h0M1942.2 1534.5h0M1947.8 1535.3h0M1953.8 1530.3h0M1962.1 1538.7h0M1966.1 1549.5h0M1969.1 1557h0M1978.1 1561.2h0M1983.3 1566h0M1983.5 1573.8h0M1983 1578.4h0M1983.7 1590.3h0M1983.7 1597.9h0M1985.2 1606.7h0M1983.9 1617.3h0M1985.4 1627.4h0M1985 1638.2h0M1984.5 1644.8h0M1984.7 1657.8h0M1985.9 1666h0M1986 1675.3h0M1985.4 1685.9h0M1984.2 1692.6h0M1985.9 1699.6h0M1985.8 1710.6h0M1985.3 1719.5h0M1984.2 1729.1h0M1985.4 1738.4h0M1985 1750.7h0M1984.4 1760.6h0M1985.6 1769.8h0M1984.9 1782.8h0M1983.9 1790h0M1712.5 1792.6h0M1985 1792.6h0"/>
<path fill="none" stroke="#fff" stroke-width="2.6" d="M1739.8 1511l-2 13.8M1875.6 1564.3l-3.7 8.5M1789.2 1556.4l-5.6 11.8M1829.2 1575.8l-0.1 7.7"/>
<path fill="none" stroke="#fff" stroke-width="3.6" d="M1958.3 1586.3l0.9 1.1M1763.5 1650.6l-0.1 0.6M1812.5 1571l-0.2 2.1M1921.7 1558.2l0.4 1.1M1841 1562.2l-0.6 2.8M1945.8 1581.6l1.7 2.2M1923.6 1567.1l-0 0.2M1804.3 1545.8l-0.5 0.8M1808.5 1558.2l0.2 2.9M1765.1 1631.5l-2 2.2M1920.9 1555.6l-0.1 0.2M1918.5 1555.5l-0.5 2.2M1973.4 1577.7l0 0.2M1884.3 1553.8l-0.3 0.4M1820.8 1581.2l-0.1 0.2M1752.2 1514.1l0.8 1.4M1751.2 1507.8l-0.3 1.3M1910.2 1551.2l0.3 3.5M1973.9 1574.6l1.9 2.2M1945.7 1573.4l-1.7 2.1M1931.6 1556.1l0.5 1.9M1773.1 1633.7l-0.2 1.4M1761.4 1641.5l-2.6 2.8M1829.4 1584.9l0.3 0.8M1829.6 1578.2l-0.8 3.3"/>
<path fill="none" stroke="#fff" stroke-width="5" d="M1786.8 1563.2l0.4 1.5M1788.4 1586.2l-1.1 1.4M1921.8 1561.3l-0.3 2.6M1781.8 1575l1 1.8M1876.5 1543.3l-0.1 1.1M1874.5 1570l-0.4 3.4M1886.6 1556.5l-1.8 3.2M1935.3 1543.1l0.3 2M1832.3 1569.8l-0.9 3.2M1725.4 1583.7l-0.5 1.1M1975.8 1572.1l0.1 0.1M1848.4 1577.2l0.2 2.5M1920.8 1577.8l0.8 1.8M1941.1 1541.2l-1.7 1.9M1953 1543l-1.3 1.7M1797.5 1550.6l-0.2 0.3M1826.2 1576.2l0.6 1.7M1972.1 1576.2l-0.5 1.8M1921.6 1559l1.1 2.5M1819 1574.8l-0.8 1.9M1944.5 1550.5l1.6 3.4M1745 1496.5l-0.1 0.5M1718.9 1584.2l-1.2 3"/>
<path fill="none" stroke="#fff" stroke-width="3" d="M1808.2 1523.3L1809 1550.9M1821.9 1533.4L1820.5 1580.4M1909 1509.7L1909 1540.6M1920 1525L1921 1544.5M1962.4 1523.7L1964.3 1552.9"/>
<path fill="none" stroke="#fff" stroke-width="4.2" d="M1934.3 1522.2L1934.5 1558.1"/>
<path fill="none" stroke-width="14.4" d="M1747.3 1420.7h0M1747.3 1463.3h0M1785.6 1467.3h0M1785.6 1483.3h0M1839.5 1477.3h0M1830 1491.7h0M1866.5 1436.7h0M1866.5 1395h0M1866.5 1383.3h0M1866.5 1373.3h0M1857.3 1345h0M1864.1 1347.3h0M1861.7 1291.7h0M1861.7 1303.3h0M1861.7 1261.7h0M1891.4 1466.7h0M1891.4 1446.7h0M1891.4 1424.3h0M1951.2 1384h0M1951.2 1463.3h0"/>
</g>
<g fill="#eb80b9" stroke="#eb80b9" stroke-linejoin="round" stroke-linecap="round">
<path stroke-width="10" d="M2005 1792.6L2005 1636.7L2005.7 1550L2008.1 1545L2014.8 1555L2025 1563.3L2031.8 1550L2045.4 1550L2058.9 1543.3L2065.7 1518.3L2079.3 1496.7L2092.8 1483.3L2096.2 1503.3L2099.6 1523.3L2111.5 1523.3L2114.2 1470L2115.5 1470L2118.3 1536.7L2125 1566.7L2136.9 1566.7L2143.7 1550L2147.1 1530L2153.9 1525L2157.3 1550L2177.6 1536.7L2181 1553.3L2189.5 1561.7L2191.2 1583.3L2197.9 1603.3L2201 1636.7L2201 1792.6Z"/>
<rect stroke="none" x="1998" y="1642.2" width="210" height="157.4" rx="6.5"/>
<path fill="none" stroke-width="14.4" d="M2004.4 1791.7h0M2004.1 1784.6h0M2003.9 1777.8h0M2005.9 1768h0M2004.5 1758.7h0M2004.9 1749.8h0M2006.2 1742.1h0M2005.5 1731.3h0M2005.2 1720.3h0M2005.1 1712.2h0M2005.7 1705.1h0M2003.8 1695.6h0M2004.9 1687.5h0M2005.6 1681.5h0M2006 1675.8h0M2004.1 1667h0M2004.4 1658.1h0M2003.9 1646.3h0M2005.8 1640.7h0M2005.1 1632.8h0M2005.4 1623.3h0M2004.1 1613.8h0M2004.8 1604h0M2006.2 1593.8h0M2005.8 1584.6h0M2005.8 1576.6h0M2006.4 1565.4h0M2004.7 1557.2h0M2007.7 1548.1h0M2012.6 1554.6h0M2019.6 1561.6h0M2027.8 1558.9h0M2031 1554.2h0M2039.4 1551.7h0M2046.1 1550h0M2056.6 1545.6h0M2060.7 1536.7h0M2062.1 1529.4h0M2063.9 1519.7h0M2068.2 1515.9h0M2072.9 1505.7h0M2079.3 1498.3h0M2086 1491h0M2091.3 1485.9h0M2095.4 1493.5h0M2094.9 1502.8h0M2097.9 1511.2h0M2099.4 1518.7h0M2102.8 1525h0M2109 1522.8h0M2111.7 1515.4h0M2113.2 1504h0M2111.7 1495.2h0M2112.8 1489.1h0M2113.2 1478.2h0M2114.6 1474.7h0M2116.4 1482.9h0M2117.7 1494.7h0M2116.1 1501.5h0M2118.2 1512.7h0M2118.7 1522.8h0M2118.5 1529.8h0M2118.7 1539.6h0M2120.7 1549.8h0M2123.3 1559.2h0M2126.2 1566.6h0M2136.2 1566.1h0M2140.1 1559.4h0M2143.1 1553.6h0M2145 1546.2h0M2147.5 1534.2h0M2151.7 1525.6h0M2155.5 1531.7h0M2156 1539.2h0M2156.3 1547.8h0M2163.3 1545.1h0M2170.8 1542.9h0M2178.5 1536.5h0M2178.6 1544.3h0M2180.6 1552.7h0M2187.4 1558.7h0M2190.3 1567.4h0M2189.7 1575.2h0M2192 1584.8h0M2194.8 1593.9h0M2197.3 1603.8h0M2199 1611.1h0M2200.3 1621.4h0M2200.4 1629.3h0M2201.1 1637h0M2200.8 1642.2h0M2200.9 1654.5h0M2201.3 1661.9h0M2200.5 1672.1h0M2201.2 1679h0M2200.1 1689.9h0M2200.4 1702.1h0M2200.5 1713.3h0M2200.4 1722h0M2200.9 1731.4h0M2200.1 1740.8h0M2201.1 1750.4h0M2200.1 1756.6h0M2202.1 1770.9h0M2201.5 1775.3h0M2200.4 1788.6h0M2005 1792.6h0M2201 1792.6h0"/>
<path fill="none" stroke="#fff" stroke-width="2.6" d="M2046.2 1567.2l5.3 12.1M2055.1 1557l0.3 12.2M2026.1 1596.3l2.4 12.5M2129.1 1597l0.9 7.2M2133.7 1577.1l4.8 6.7M2070 1534.5l-4.1 6.2"/>
<path fill="none" stroke="#fff" stroke-width="3.6" d="M2129.1 1580.7l0.3 2.3M2120.3 1574.7l-0 2.7M2065.3 1557.8l-0.1 0.1M2147.2 1583.3l-0.6 3.4M2099.4 1553.1l-1 2.6M2135.3 1621.7l1.8 2.3M2108.3 1536.1l0.8 2.7M2102.2 1535.4l1.9 2M2018.6 1580.7l-0.5 0.8M2168.7 1565.7l-2.5 3.1M2057.5 1570l0.5 2.8M2046.1 1562l-0.1 0.4M2029.8 1567.4l-0.2 0.3M2111.2 1535.3l0.1 0.2M2038.5 1560.1l0.2 1.1M2061.7 1554.9l0.5 2.1M2097.5 1529l-0.5 0.9M2015.5 1565.5l0.9 2.6M2036 1566.8l-0.3 0.8"/>
<path fill="none" stroke="#fff" stroke-width="5" d="M2052.2 1558l-0 0M2132.7 1588.1l0.1 0.2M2136.2 1590.7l0.1 1.5M2159.3 1570.7l0.6 2.3M2097.7 1540.9l1.8 2.9M2013.5 1564.1l0.5 0.9M2049.1 1559l-2.7 2.8M2025.3 1586l-0.9 1"/>
<path fill="none" stroke="#fff" stroke-width="4.2" d="M2024.6 1543.5L2022.8 1574.4M2041.1 1539.3L2042.8 1565.3M2072.1 1489.7L2070 1527.9M2097.1 1478L2095.8 1507.8M2110.8 1506.9L2110 1541.6M2132 1554.1L2130.4 1584.3M2176.6 1528.5L2176.1 1543.6"/>
<path fill="none" stroke-width="14.4" d="M2031.8 1467.7h0M2052.1 1459h0M2031.8 1494h0M2033.5 1506.7h0M2036.9 1518.3h0M2045.4 1525h0M2092.8 1360h0M2092.8 1375h0M2092.8 1407.3h0M2074.9 1429h0M2092.8 1428.3h0M2092.8 1440h0M2136.9 1543.3h0M2136.9 1470h0M2145.4 1476.7h0M2152.2 1481.7h0M2153.9 1500h0M2153.9 1513.3h0M2137.6 1417.7h0M2189.5 1442.3h0M2174.2 1500h0M2189.5 1521.7h0M2177.6 1533.3h0"/>
</g>
<line x1="223" y1="1263.4" x2="2226" y2="1263.4" stroke="#f51a1a" stroke-width="2.6"/>
<g stroke="#5a5a5a" stroke-width="3" fill="none">
<path d="M221 1083.5V1794.1"/>
<path d="M205 1792.6H221"/>
<path d="M205 1615.7H221"/>
<path d="M205 1438.8H221"/>
<path d="M205 1261.9H221"/>
<path d="M205 1085H221"/>
<path d="M220 1822H2202"/>
<path d="M221.5 1822V1839"/>
<path d="M384 1822V1839"/>
<path d="M655.7 1822V1839"/>
<path d="M961 1822V1839"/>
<path d="M1277.5 1822V1839"/>
<path d="M1554 1822V1839"/>
<path d="M1849 1822V1839"/>
<path d="M2101.5 1822V1839"/>
</g>
<g font-family="'Liberation Sans', Arial, sans-serif" font-weight="bold" font-size="26" fill="#1a1a1a">
<text x="187" y="1801.9" text-anchor="end">0</text>
<text x="187" y="1625" text-anchor="end">2</text>
<text x="187" y="1448.1" text-anchor="end">4</text>
<text x="187" y="1271.2" text-anchor="end">6</text>
<text x="187" y="1094.3" text-anchor="end">8</text>
<text x="221" y="1878" text-anchor="middle" font-size="27.5">Chr</text>
<text x="384" y="1878" text-anchor="middle">1</text>
<text x="655.7" y="1878" text-anchor="middle">2</text>
<text x="961" y="1878" text-anchor="middle">3</text>
<text x="1277.5" y="1878" text-anchor="middle">4</text>
<text x="1554" y="1878" text-anchor="middle">5</text>
<text x="1849" y="1878" text-anchor="middle">6</text>
<text x="2101.5" y="1878" text-anchor="middle">7</text>
</g>
<text transform="translate(106 1438.8) rotate(-90)" text-anchor="middle" font-family="'Liberation Sans', Arial, sans-serif" font-size="44" fill="#262626">−log<tspan font-size="27" dy="8">10</tspan><tspan dy="-6" font-size="52">(</tspan><tspan dy="-2" font-style="italic">p</tspan><tspan dy="2" font-size="52">)</tspan></text>
<text transform="translate(70 1074.5) scale(0.92 1)" font-family="'Liberation Serif', 'Times New Roman', serif" font-weight="bold" font-size="135" fill="#000">b</text>
<g font-family="'Liberation Serif', 'Times New Roman', serif" font-weight="bold" font-style="italic" font-size="44.3" letter-spacing="0.7">
<text x="264" y="1188" fill="#ff0d0d">gSD1.1</text>
<text x="741" y="1175" fill="#ff0d0d">gSD3.1</text>
<text x="1463" y="1203" fill="#0a0a0a">gSD5.1</text>
<text x="1621" y="1208" fill="#ff0d0d">gSD5.2</text>
<text x="1812.5" y="1223" fill="#ff0d0d">gSD6.1</text>
</g>
<g fill="#0099db" stroke="#0099db" stroke-linejoin="round" stroke-linecap="round">
<path stroke-width="10" d="M235 2832.6L235 2700L235.7 2596.7L239.7 2591.7L246.5 2595L253.2 2586.7L263.3 2578.3L273.4 2578.3L280.2 2566.7L287.6 2526.7L293 2526.7L294.3 2560L306.5 2560L308.8 2525L319 2528.3L320.6 2576.7L325.7 2606.7L330.8 2640L347.6 2646.7L352.7 2615L361.1 2613.3L368.5 2486.7L372.6 2486.7L374.6 2566.7L384.7 2593.3L391.5 2608.3L394.8 2621.7L396.5 2666.7L411.7 2666.7L413.4 2593.3L416.7 2588.3L421.8 2566.7L425.9 2545L435.3 2546.7L445.4 2550L452.2 2545L460.6 2555L462.3 2600L474.1 2615L482.5 2633.3L499.4 2646.7L516.2 2653.3L526 2653.3L526 2700L526 2832.6Z"/>
<rect stroke="none" x="228" y="2712.4" width="305" height="127.2" rx="6.5"/>
<path fill="none" stroke-width="14.4" d="M235.6 2831.5h0M235.9 2824.7h0M235.3 2811.4h0M234.1 2802.2h0M236 2791.8h0M234.8 2787.4h0M235.4 2774.5h0M234.8 2765.1h0M236 2754.7h0M235.6 2745.9h0M235.1 2737.8h0M233.9 2730.9h0M234.6 2718h0M233.9 2710.4h0M234.9 2701.8h0M234.5 2694.5h0M234.8 2684.7h0M236.1 2676.5h0M234.6 2667.7h0M234.7 2656.7h0M236.5 2647.2h0M235.7 2636.6h0M234.6 2624.7h0M236.2 2618.4h0M234.9 2611.1h0M234.9 2602.3h0M239.5 2594h0M248.9 2591.3h0M254.9 2584.3h0M262.5 2580.3h0M273.2 2578.1h0M276 2573.2h0M280.4 2563.5h0M281.2 2555.8h0M283.8 2546h0M285.4 2537h0M287.6 2525.3h0M292.3 2529.6h0M292.9 2541h0M293.2 2550.2h0M293.6 2557.2h0M301.8 2561.9h0M307.4 2555.8h0M306.6 2544.8h0M307.8 2533.4h0M307.9 2525.1h0M316.6 2530.4h0M319.1 2537.3h0M320 2549.2h0M320.9 2557.5h0M319.3 2568.2h0M321.3 2573.4h0M322 2586.2h0M324.1 2592.2h0M323.7 2602.5h0M326.5 2611.3h0M327.6 2618.8h0M328.5 2629.2h0M329.4 2637.5h0M334.9 2642.2h0M343.7 2647.1h0M349.1 2638.8h0M350.8 2634.2h0M352.6 2621.5h0M352.5 2613.5h0M361.4 2611.7h0M361.2 2602.1h0M361.5 2592.5h0M362.8 2584h0M364.3 2576.2h0M364.6 2566.7h0M364.9 2557.2h0M364.9 2546.2h0M365 2537.8h0M365.4 2530h0M365.8 2519.7h0M367.4 2509h0M367 2502.1h0M367.9 2490.1h0M372.8 2488.2h0M373.1 2498.5h0M374.3 2509h0M373.8 2518.3h0M374.6 2527.2h0M373.9 2537.7h0M373.4 2543.4h0M373.5 2556.2h0M375.3 2562.5h0M376.9 2571.7h0M379.2 2580.5h0M383.3 2587.5h0M385.2 2595.3h0M388.4 2604h0M393.4 2615.6h0M394.8 2623.4h0M396.1 2632.2h0M395.3 2644.2h0M395.7 2652.5h0M395.1 2658.6h0M399.2 2668.9h0M407.8 2668.6h0M410.7 2664.9h0M411.6 2654h0M413.3 2645h0M412.1 2632.3h0M411.7 2626.8h0M412.6 2615.6h0M413.3 2606.3h0M414.3 2595.2h0M417.2 2588.9h0M418.3 2580.8h0M422.1 2571.2h0M421.7 2563.8h0M425.4 2552.3h0M427.4 2547.2h0M436.5 2546.9h0M445.3 2549.5h0M454.6 2548.1h0M459.3 2554h0M460.9 2563.1h0M461.5 2572.7h0M461.2 2577.4h0M462.5 2584.5h0M462.1 2595.7h0M465.7 2602.8h0M470.4 2610.6h0M474.7 2618.2h0M479.6 2628.8h0M484.5 2637.6h0M494.4 2640.9h0M500.6 2649.3h0M511.5 2651.9h0M520.7 2654.7h0M526.2 2657h0M524.8 2669.8h0M526.9 2678.8h0M526.5 2688.2h0M526.9 2699h0M526.7 2707.4h0M526.2 2714.7h0M525 2723.9h0M526.9 2731.3h0M526.1 2742.2h0M525.6 2747.4h0M524.9 2756.6h0M526.8 2765.2h0M526.7 2775.3h0M524.8 2782h0M525.1 2790h0M527.2 2800.4h0M525.5 2806.2h0M525.5 2814.4h0M525.6 2824.3h0M527.1 2831.5h0M235 2832.6h0M526 2832.6h0"/>
<path fill="none" stroke="#fff" stroke-width="2.6" d="M475.4 2646.3l-7.9 9.6M242 2652.2l-3.4 10.9M487 2658.2l2.1 11M252.7 2613.9l3.5 11.2M268.5 2589.8l-5.6 9.2"/>
<path fill="none" stroke="#fff" stroke-width="3.6" d="M331.8 2665.2l-0.8 0.8M437.4 2566.1l-0.2 2.1M509.5 2669.4l0.1 2.4M257.6 2612.3l-0.1 0.7M402.2 2686.1l0.4 1.4M273.6 2591.4l1.4 3.1M251.8 2600.1l-1.1 2.4M435.2 2560.1l0.3 0.6M255.8 2597.5l0.5 0.6M437.1 2574.3l-0.3 3.7M420.4 2615.5l-2.5 2.9M303.7 2576.1l-0.1 0.7M261.3 2627.7l1 1.9M246.2 2605.4l-0.1 0.2M411.2 2680.7l0.4 0.7M438.4 2591.1l-1.9 2.8M434.9 2561.3l0.3 0.7M270.2 2602.7l1.4 1.8M491.2 2657.7l1.9 3.5M242.1 2638.8l1.2 2.9M286.2 2581.2l-0.2 2.2M449.8 2577l1.3 2.7M268 2634.3l-0.3 3.6M274 2597.4l0.1 2.2"/>
<path fill="none" stroke="#fff" stroke-width="5" d="M268 2607.5l0.5 0.9M269.8 2592.6l-1.8 3M449.4 2577.5l-0.2 1.2M441 2558.2l-1.8 2.5M466.2 2618.3l-0.6 3.3M450.1 2559.6l0 1.6M408.3 2687.9l-0.8 3M261.8 2645.3l-1.2 3.8M254.7 2629.8l-0.9 2.9M479.1 2645l-0.8 1.9M242 2615.8l1.6 2.5M385.1 2638.3l0.1 0.3M501.5 2657.5l-1.1 1.2M380.2 2613.6l0.1 0.3M331.1 2661.3l-0.3 0.3M486.1 2647.2l-0 1.7M447.4 2612.3l-1.7 1.9"/>
<path fill="none" stroke="#fff" stroke-width="3" d="M259.1 2569.3L259.1 2589.5M474.7 2598.7L476 2637.3M497.5 2631.1L498.8 2660.8M510.6 2639.4L511.1 2675.3"/>
<path fill="none" stroke="#fff" stroke-width="4.2" d="M245.6 2579.2L244.3 2610.4M336.3 2623.9L336.8 2648.1M383.8 2567.5L386.1 2609.3M435.8 2536.4L435 2553.3M445 2536.4L446.6 2579.5"/>
<path fill="none" stroke-width="14.4" d="M240.4 2533.3h0M261.6 2561.7h0M262.7 2484h0M262.7 2508.3h0M278.5 2508.3h0M273.4 2521.7h0M278.5 2440h0M278.5 2458.3h0M278.5 2470h0M291 2463.3h0M291 2496h0M309.9 2493.3h0M322.3 2508.3h0M273.4 2546.7h0M340.2 2587.3h0M370.6 2471.7h0M370.6 2460h0M370.6 2429.3h0M370.6 2392.7h0M371.2 2368.3h0M371.2 2355h0M371.2 2321.7h0M381.3 2503.3h0M361.1 2545h0M386.4 2589h0M434.3 2470h0M434.3 2480h0M434.3 2503.3h0M434.3 2516.7h0M486.5 2568.3h0M505.4 2571.7h0M486.5 2590h0M506.1 2588.3h0M524.7 2594h0M499.4 2608.3h0M492.6 2620h0M506.1 2620h0M502.7 2633.3h0M496 2505h0M496 2513.3h0M528 2539.3h0M528 2555h0M528 2628.3h0M528 2646.7h0M474.1 2613.3h0"/>
</g>
<g fill="#ffc000" stroke="#ffc000" stroke-linejoin="round" stroke-linecap="round">
<path stroke-width="10" d="M544 2832.6L544 2700L544.7 2566.7L548.1 2565L556.5 2533.3L563.3 2486.7L575.1 2488.3L576.8 2525L578.5 2596.7L597.1 2596.7L598.7 2565L602.1 2563.3L607.2 2600L624.1 2606.7L634.2 2581.7L644.4 2546.7L654.5 2516.7L659.6 2501.7L681.5 2501.7L684.9 2533.3L693.4 2581.7L705.2 2583.3L712 2573.3L718.7 2586.7L728.9 2606.7L733.9 2588.3L745.8 2598.3L755.9 2591.7L762.6 2626.7L764 2700L764 2832.6Z"/>
<rect stroke="none" x="537" y="2712.4" width="234" height="127.2" rx="6.5"/>
<path fill="none" stroke-width="14.4" d="M543.9 2832.6h0M545.1 2822.8h0M542.9 2810.5h0M543.3 2801.4h0M543.6 2792.9h0M543.5 2783.4h0M543.3 2777.4h0M544.9 2768h0M544.8 2758.8h0M544.6 2751h0M544 2741.7h0M543.8 2731.7h0M545 2721.6h0M544.1 2711.5h0M543.8 2698.2h0M543.1 2691.2h0M545.1 2680.3h0M545.1 2672.6h0M544.1 2663.4h0M544.6 2652.4h0M544.3 2643.9h0M545.2 2635.3h0M545 2628.9h0M544.2 2619.7h0M545.3 2610.7h0M545.6 2603.4h0M543.5 2595.2h0M544.2 2588.4h0M545.7 2574.3h0M545.6 2570.6h0M547.9 2564h0M551 2556.1h0M552.2 2546.1h0M556.7 2537.6h0M557 2527.3h0M558 2520.3h0M558.7 2509.6h0M561.8 2502.7h0M561.3 2491.2h0M568 2488.9h0M575.9 2488.4h0M576.1 2498.1h0M575 2510.3h0M575.2 2515.8h0M576.9 2528.4h0M577.8 2538.2h0M576.7 2543.3h0M577.3 2552.9h0M577.1 2564.1h0M577.9 2572.3h0M579.3 2585.9h0M578.7 2592h0M581.7 2598.3h0M590.2 2595.5h0M595.9 2598.3h0M598 2584.2h0M597.2 2576.5h0M598.6 2569.3h0M603.5 2567.6h0M602.9 2577.3h0M606.1 2584.3h0M607 2595.3h0M614.5 2604.6h0M621.6 2605.6h0M626.9 2599.5h0M629.5 2593.6h0M633.9 2581.5h0M636 2573.8h0M640.5 2563.9h0M642.6 2557h0M643.8 2547.1h0M646.5 2538h0M649.4 2529.9h0M653.4 2520.1h0M657.5 2508.9h0M658.5 2500.9h0M669.9 2502.6h0M677 2500.7h0M682.5 2508.8h0M682.2 2518.6h0M683.5 2528.9h0M685.9 2539.2h0M686.8 2546.6h0M688.9 2558.2h0M690.4 2567.8h0M691.6 2575.3h0M698.4 2582.8h0M705.8 2582h0M711.6 2576.8h0M716.5 2580.7h0M719.4 2590h0M723.7 2599.5h0M729.7 2606.3h0M731.2 2596.6h0M733.2 2590.6h0M740.8 2596h0M747.6 2598.7h0M755.4 2591h0M757.6 2602.8h0M759.5 2611.8h0M762.4 2620.8h0M762.7 2629.8h0M763.1 2641h0M763.6 2647h0M764.2 2661.4h0M763.1 2665.7h0M762.4 2679.1h0M763.3 2686.5h0M764.9 2695.5h0M763.9 2705.6h0M763.8 2711.7h0M764.8 2722.2h0M763.2 2734.2h0M763.8 2739.5h0M762.9 2751.1h0M763.4 2763h0M764.6 2771.7h0M765.1 2783.6h0M765 2788.7h0M764.1 2799.2h0M763.5 2808.1h0M763.6 2817.1h0M764.4 2829.3h0M544 2832.6h0M764 2832.6h0"/>
<path fill="none" stroke="#fff" stroke-width="2.6" d="M614.6 2634.4l7.4 10.1M744 2616.5l0.6 10.8M673.1 2534.6l-4.2 9.6M641.6 2585.7l-2.5 13.8"/>
<path fill="none" stroke="#fff" stroke-width="3.6" d="M727.3 2628.2l1.7 2.4M737.5 2605.8l0.3 0.7M672.1 2511.5l0.1 0.2M725.4 2615.5l-1.6 1.9M587.5 2606.2l0.2 0.2M663.4 2523.3l-1.8 2.6M708.4 2593.4l0.6 2.7M742 2611.5l-0.3 2.9M704.9 2616.8l0.8 0.9M720.3 2617.2l2.6 3M730.1 2625l-0.2 0.6M617.2 2617.9l0.3 0.5M610.8 2625.8l-0.6 2.8M660.3 2560.2l-1.1 3.5M665.7 2515.3l-1.5 1.6M723.3 2610.8l0 0.9"/>
<path fill="none" stroke="#fff" stroke-width="5" d="M669 2527.8l-2.5 2.6M709.8 2589l0.9 2.4M705.5 2593.7l0.1 3.3M702.6 2607.8l0.2 0.2M591.4 2615.3l-1 1.6M702.2 2593.9l-0.4 1.8M724.3 2607.3l0.5 2.9M711.8 2608.7l0.1 0.2M709.6 2594l-0.2 0.6M665.9 2519.6l-0.3 1.2M566.3 2509.9l-0.3 2.4M621.9 2617.5l0.7 2.3M618.9 2622.6l-0.5 2.9"/>
<path fill="none" stroke="#fff" stroke-width="3" d="M697.9 2563.8L699.7 2600.4M736.1 2580.9L735.2 2603.4"/>
<path fill="none" stroke="#fff" stroke-width="4.2" d="M651.4 2499.1L649.7 2549.2M661.9 2492.7L662.8 2510M675 2492.7L676.5 2521.1M715 2570L714.4 2606"/>
<path fill="none" stroke-width="14.4" d="M570 2468.3h0M570 2441.7h0M561.6 2413.3h0M571.7 2413.3h0M576.8 2413.3h0M570 2388.3h0M570 2358.3h0M570 2326.7h0M574.1 2233.3h0M598.1 2401.7h0M598.1 2466.7h0M598.1 2495h0M598.1 2515h0M600.4 2543.3h0M610.6 2541.7h0M616.7 2424h0M628.5 2490.7h0M639.3 2470h0M644.4 2441.7h0M637.6 2515h0M639.3 2530h0M654.5 2423.3h0M663 2420h0M666.3 2425h0M663 2448.3h0M664.6 2463.3h0M676.5 2471.7h0M657.9 2478.3h0M663 2486.7h0M671.4 2488.3h0M663 2316h0M758.6 2522.7h0"/>
</g>
<g fill="#45309a" stroke="#45309a" stroke-linejoin="round" stroke-linecap="round">
<path stroke-width="10" d="M782 2832.6L782 2700L782.3 2593.3L783 2593.3L785.7 2623.3L795.9 2633.3L812.9 2646.7L819.8 2633.3L825.9 2585L827.2 2585L830 2566.7L835.1 2473.3L846.3 2470L848.3 2470L852.1 2500L864 2510L870.8 2511.7L869.1 2546.7L872.5 2566.7L874.2 2586.7L889.5 2586.7L891.2 2553.3L896.3 2530L915 2528.3L920.1 2566.7L932 2583.3L938.8 2613.3L949 2633.3L966 2636.7L972.8 2606.7L986.4 2601.7L1000 2593.3L1006.8 2583.3L1017 2581.7L1027.2 2580L1037.4 2570L1051 2563.3L1057.8 2533.3L1064.6 2495L1066 2495L1069.7 2530L1085 2525L1090.1 2546.7L1098.6 2566.7L1105.4 2583.3L1119 2600L1132.6 2613.3L1142.5 2633.3L1142.5 2700L1142.5 2832.6Z"/>
<rect stroke="none" x="775" y="2712.4" width="374.5" height="127.2" rx="6.5"/>
<path fill="none" stroke-width="14.4" d="M781.3 2831.2h0M783.2 2823.2h0M782.8 2817.6h0M782 2806.8h0M782.4 2800.1h0M782.5 2791.8h0M782.4 2781.9h0M782.4 2774.1h0M782.2 2765.4h0M781.2 2756.9h0M781.1 2746.9h0M781.4 2738.4h0M781.4 2730.2h0M783 2723.3h0M781.8 2711.6h0M782.4 2702.7h0M782 2692.4h0M781.7 2685.1h0M782.3 2676h0M782.4 2669.4h0M781.3 2658.8h0M782.5 2648.3h0M781.1 2640.3h0M781.1 2629.6h0M783.4 2621h0M783 2613.8h0M782.7 2603.7h0M782.1 2593.6h0M784.2 2604.7h0M785.3 2615h0M785.3 2624.4h0M791.7 2631.4h0M799.5 2636.3h0M805.2 2641.5h0M812.9 2646.1h0M818.5 2638.9h0M821.3 2626.4h0M821.1 2618.5h0M823.7 2609.4h0M822.9 2601.9h0M826.2 2590.7h0M828.4 2583.1h0M829.3 2574.9h0M829.1 2569.5h0M830.1 2560.6h0M831.1 2547.5h0M831.9 2537h0M831.3 2527h0M833.1 2517.5h0M832.7 2510.3h0M834.2 2503.7h0M832.9 2493.7h0M834.3 2483.6h0M834.1 2472.4h0M842.4 2473.1h0M847.7 2474.3h0M849.7 2480.8h0M850.9 2493.4h0M851.4 2499.3h0M859.4 2506.3h0M866.6 2510.8h0M870.9 2517.3h0M870.5 2530.3h0M870.1 2538.4h0M868.5 2546.9h0M872.1 2559.3h0M871.9 2567.5h0M872.3 2575.4h0M873.8 2583.7h0M881.8 2588.2h0M890.4 2586.2h0M889.9 2574.4h0M890.4 2565h0M891.1 2556.3h0M892.1 2547.8h0M894.6 2541.1h0M896.5 2530.7h0M903 2528.2h0M913.4 2527h0M916.8 2535.8h0M916.5 2544.7h0M919.4 2556.5h0M919 2564.1h0M922.2 2571.3h0M928.9 2578h0M931.8 2584.6h0M933.9 2594h0M937.8 2604.2h0M939.4 2613.8h0M943.1 2620.7h0M945.6 2631.1h0M955.2 2636.2h0M965 2635.1h0M968 2630.4h0M969.1 2619.7h0M972.9 2610.6h0M976.4 2605.1h0M985.4 2601.3h0M994.7 2598.6h0M1001 2589.2h0M1008.3 2582.3h0M1018.2 2583.7h0M1026.7 2580.8h0M1032.2 2575h0M1038.4 2571.4h0M1044.9 2565h0M1052.7 2558.2h0M1053.9 2552.2h0M1056.3 2540.3h0M1056.9 2536.1h0M1059.2 2526.1h0M1061.8 2520h0M1063 2509.9h0M1064.7 2497.7h0M1065.8 2497.9h0M1067.1 2508.1h0M1069.1 2520h0M1070.2 2525.4h0M1075.9 2529.7h0M1083.5 2525.6h0M1086.3 2536.9h0M1090.3 2544.6h0M1093.8 2555.1h0M1095.9 2561.6h0M1099.9 2569.9h0M1104.6 2577.5h0M1108.9 2589.8h0M1115.6 2596h0M1120.3 2599.6h0M1126.4 2606.6h0M1134 2614.6h0M1135.2 2621.1h0M1139 2630.4h0M1143.2 2637.7h0M1142.5 2645.2h0M1142 2654.8h0M1142.3 2666.6h0M1142.5 2673.5h0M1141.6 2685.4h0M1143.7 2692.2h0M1142 2700.7h0M1142.3 2713.5h0M1143.1 2721.7h0M1143.3 2732.2h0M1142.9 2738.6h0M1143.7 2745.9h0M1141.3 2756.7h0M1141.6 2769h0M1141.7 2779.5h0M1142.7 2789h0M1142.4 2797h0M1143.1 2808.5h0M1142.6 2814.8h0M1143.5 2822.5h0M1141.7 2832.3h0M782 2832.6h0M1142.5 2832.6h0"/>
<path fill="none" stroke="#fff" stroke-width="2.6" d="M1118.7 2611.7l1.6 10.9M929.3 2613.2l-4.6 9M995.3 2607.3l4.9 12.3M812.8 2662.6l-3 9M1028.4 2591.3l5.5 6.3M1124.3 2618.1l5.5 9.7M1044.5 2588l-1 10.9M1048.6 2576.9l3.5 8.2M1105.2 2595.3l2.1 11.1M997.6 2606.6l-2.7 13.4M1013.7 2645.4l0.2 6M1040.7 2592.1l6.3 8.7M900.2 2545l-2.7 10.8"/>
<path fill="none" stroke="#fff" stroke-width="3.6" d="M1026.3 2602.7l1.6 3.4M1023.9 2598.7l0.9 0.9M1040.2 2585.4l-1.2 1.4M793.6 2640.9l0.1 0.1M1079 2573.5l-0 1.3M985.7 2619.4l-1.1 2.9M1129.2 2638.3l-0.8 2.4M996.9 2616.4l-0.1 1.1M1046 2597.9l2.5 2.4M885.9 2603.6l-1.9 1.9M789.4 2677.5l-1 3.2M990.8 2619.1l-0.1 0.2M1122.7 2629.2l0.1 0.3M1124.4 2637.3l-0.3 0.3M796.1 2646.6l-1.2 1.2M1112.7 2641.1l-0 0.2M1086.7 2573.7l-0.7 2.3M810.6 2663.3l-1.6 2.9M1030 2606.1l-1.5 3.2M789.3 2675.3l0.6 1.3M920.5 2591.5l1.2 2.4M906.7 2544.7l1.1 1.3M1027.6 2595.7l1.6 2M1037.9 2595.8l-0.6 1.9M811.9 2661.2l0.9 3.4M1082.8 2548.5l-1.9 2.6M996.6 2605.6l1.4 1.6M1125.6 2624.5l-0.6 1.2M1114.1 2609.5l-1 3.4M806.3 2659.7l0.1 0.2M789.1 2680.4l0.2 2.2"/>
<path fill="none" stroke="#fff" stroke-width="5" d="M1102.5 2593.9l-0.3 0.4M925.1 2591.7l-0.3 0.7M1051.1 2576.8l0.2 0.7M1070 2544.5l1.7 2.7M901.8 2583.7l0.2 0.5M948.8 2653.7l-0.1 0.6M791.5 2638.9l0 1.1M794.3 2643.7l-1 2M1019.2 2596.1l-0.3 3.5M1004.8 2610.8l-1.9 1.9M899.9 2549.4l-1.9 2.9M1116.9 2626.2l-0.5 0.7M1112.2 2623.7l-0.1 1.1M788.3 2638.7l1.2 3.2M946.5 2641.5l0.3 2.2M1006.1 2616.4l0.9 0.9M924.7 2596.2l-1.6 3.5M968.9 2657.6l0.2 0.9M1008.3 2600.1l0.2 0.9M1037.3 2594.2l2.3 2.6M799.7 2661.7l1 3.4M953.6 2648.3l-1.5 1.5M1005 2598.6l-0.2 0.7M790.9 2645.2l0.2 0.2M883.2 2598.6l0.7 1.5M1069 2543.1l0 0M1060.1 2556.1l-0.5 2.7M1111.9 2604.3l0.9 2.4M813.7 2666.9l0.3 1.3"/>
<path fill="none" stroke="#fff" stroke-width="3" d="M883.4 2574.1L881.7 2602.6M962.2 2611.3L962.9 2643.6M986.2 2588.4L987 2630.3M1037.8 2557L1039.6 2582.9M1069.1 2504.1L1067 2546.5M1118.5 2583.1L1120.1 2608.7"/>
<path fill="none" stroke="#fff" stroke-width="4.2" d="M793.8 2616.3L795.5 2645.7M844.4 2461.7L842.8 2491.2M946.3 2607.9L948 2636.9M1014.8 2571.9L1013.7 2602.4M1101.9 2550.7L1102.8 2582.1"/>
<path fill="none" stroke-width="14.4" d="M815.3 2502.3h0M818 2536.7h0M818 2543.3h0M847 2455h0M847 2443.3h0M847 2431.7h0M846.3 2406.7h0M847 2395h0M847.6 2321.7h0M847.6 2333.3h0M847.6 2346.7h0M847.6 2356.7h0M847.6 2363.3h0M847.6 2303.3h0M847.6 2295h0M847.6 2281.7h0M866.7 2430h0M891.2 2478.3h0M903.1 2475h0M904.8 2501.7h0M915 2500h0M931.3 2422.7h0M931.3 2441.7h0M931.3 2455h0M931.3 2475h0M931.3 2481.7h0M969.4 2569.3h0M972.8 2591.7h0M996.6 2534.3h0M1029.9 2547.7h0M1065.3 2513.3h0M1094.5 2501.7h0M1124.1 2533.3h0M1137.7 2564.3h0M1024.8 2365h0M1030.6 2405h0M781.7 2603.3h0"/>
</g>
<g fill="#445221" stroke="#445221" stroke-linejoin="round" stroke-linecap="round">
<path stroke-width="10" d="M1161.5 2832.6L1161.5 2700L1162.2 2600L1167.9 2573.3L1171.2 2571.7L1172.9 2600L1189.7 2608.3L1201.4 2605L1213.2 2606.7L1216.6 2473.3L1217.9 2473.3L1221.6 2513.3L1231.7 2511.7L1232.7 2546.7L1236.7 2580L1246.8 2590L1260.2 2603.3L1275.3 2595L1287.1 2600L1294.8 2536.7L1295.8 2536.7L1296.1 2536.7L1299.5 2538.3L1302.2 2566.7L1310.6 2576.7L1320.6 2546.7L1334.1 2545L1335.7 2576.7L1344.1 2600L1355.9 2593.3L1360.9 2566.7L1374.3 2561.7L1379.4 2581.7L1386.1 2606.7L1392.8 2633.3L1397.5 2650L1397.5 2700L1397.5 2832.6Z"/>
<rect stroke="none" x="1154.5" y="2712.4" width="250" height="127.2" rx="6.5"/>
<path fill="none" stroke-width="14.4" d="M1161.7 2832.6h0M1162.1 2826.3h0M1161.8 2817.6h0M1161 2805.8h0M1162 2796.6h0M1160.4 2790h0M1161.5 2779.7h0M1160.4 2769.8h0M1161.3 2762.6h0M1161.8 2750.1h0M1161.5 2742.7h0M1162.2 2735.7h0M1162.7 2723.6h0M1162.5 2714.6h0M1162.2 2707.6h0M1161.2 2698.7h0M1162 2691h0M1160.7 2684.4h0M1162.3 2675h0M1160.6 2666.8h0M1162.4 2656.2h0M1162.5 2644.8h0M1163.1 2636.1h0M1162 2627.4h0M1162.1 2616h0M1162.4 2609.3h0M1162.2 2600.1h0M1163.8 2588.8h0M1166.7 2579h0M1171.1 2571.7h0M1172.5 2583.7h0M1171.8 2592.1h0M1173.5 2600.2h0M1180.2 2604.3h0M1188.9 2608.1h0M1198.4 2607h0M1207.2 2604.6h0M1212.3 2600.7h0M1212.6 2590.9h0M1214.9 2581h0M1215.2 2572.5h0M1214.7 2563.1h0M1214.7 2554.9h0M1214.2 2545.8h0M1215.6 2538.4h0M1215 2530.3h0M1216.1 2520.8h0M1215.7 2512.1h0M1216.6 2504.1h0M1216.6 2492.4h0M1217.3 2479.8h0M1217.7 2476h0M1218.9 2480.5h0M1220.6 2491.2h0M1220.9 2500.7h0M1220.7 2509.6h0M1226.2 2511.7h0M1232.9 2519.6h0M1231.4 2531.1h0M1231.9 2539.8h0M1232.8 2548.5h0M1233.3 2556.1h0M1234.8 2565.4h0M1237.4 2575.8h0M1239.9 2584.6h0M1248.2 2591.4h0M1254.5 2598.1h0M1260.8 2601.9h0M1270.5 2598.4h0M1280.2 2595.5h0M1286.5 2598.9h0M1287.5 2589.7h0M1288.7 2581.1h0M1289.4 2576.3h0M1291.6 2564.5h0M1292.1 2554.5h0M1293.7 2543.5h0M1296.8 2538.6h0M1300.1 2546.7h0M1300.8 2557.6h0M1301.2 2568.1h0M1308.4 2573h0M1311.3 2572.6h0M1315.6 2564.4h0M1316.2 2556.9h0M1319.6 2551.7h0M1328 2546.2h0M1333.8 2550.4h0M1334.8 2556.4h0M1335.5 2565.2h0M1336.5 2579.9h0M1340 2588h0M1342.3 2595.1h0M1346.4 2599.8h0M1355.5 2596.3h0M1358.7 2586.7h0M1359 2579.3h0M1360.9 2568.6h0M1371.6 2563.8h0M1375.7 2569.3h0M1377.6 2576h0M1380.9 2585.6h0M1382.1 2595.9h0M1384.7 2603.8h0M1388 2611.3h0M1389.8 2618.9h0M1391.5 2630h0M1393.4 2636h0M1397.6 2645.2h0M1398.5 2655h0M1397.9 2664.8h0M1397.1 2674.8h0M1398.4 2681.3h0M1398.5 2692.7h0M1398.6 2698.6h0M1398.2 2706.4h0M1398.5 2716.6h0M1398 2723.7h0M1397.2 2737h0M1397.4 2745.5h0M1398.6 2756.5h0M1397.7 2763.5h0M1396.9 2771.1h0M1397.9 2778.2h0M1396.7 2790.1h0M1397.8 2800.2h0M1397 2810.1h0M1396.3 2820.1h0M1397.9 2826.9h0M1161.5 2832.6h0M1397.5 2832.6h0"/>
<path fill="none" stroke="#fff" stroke-width="2.6" d="M1306.5 2588.4l-3.9 10.1M1370.6 2581.1l-4.6 12.9M1356.8 2618.1l0.8 8.6M1241.5 2594.4l1.6 6.7M1189 2646.9l8.3 9.8M1240.1 2592.5l-2.5 10.5"/>
<path fill="none" stroke="#fff" stroke-width="3.6" d="M1207.2 2648l-1.9 2.5M1256.1 2622.5l-1.2 1.3M1258.9 2616.5l0.6 1.2M1187.1 2628.7l0.5 0.5M1330.8 2584.8l-0.1 2M1194.9 2638.2l-0.4 1.4M1256.7 2613.5l2 2.6M1268.4 2621.7l-0.3 0.4M1197.3 2617.6l0.5 0.8M1285.9 2616.9l-0.4 0.9M1207.3 2615.7l-0.1 3.9M1307.8 2592.5l0 0.6M1324.5 2565.8l-2.4 2.5M1246.9 2623.3l-1.4 1.7M1190.7 2619.5l-2.6 2.9M1313.5 2579l2.4 2.5M1276.7 2611.7l0.2 0.2M1235.6 2597.7l-1.7 1.9M1206.7 2627.5l-0.1 0.3M1283.8 2608.4l0.4 1.4M1370.4 2601.3l0.4 2.4M1374.5 2590.6l-2.4 3.2"/>
<path fill="none" stroke="#fff" stroke-width="5" d="M1195.7 2622.7l-0.1 1.1M1208 2621.4l-0.2 2.9M1188 2657.6l-2.2 2.3M1341.7 2617.5l0.4 1.9M1210.5 2625.4l-1 1.9M1178.6 2625.1l-0.2 1.4M1180.9 2635.3l0.4 2.7M1246.3 2634.3l0 0.4M1277.1 2608.5l-1.2 2.6M1280.9 2614.4l-0.2 2.1M1175.6 2610.9l-0.4 1.1M1377.1 2603.3l-0.7 3.9"/>
<path fill="none" stroke="#fff" stroke-width="3" d="M1254.2 2582L1255.1 2607.1M1265.6 2587.8L1264.5 2611.4M1324.9 2536.3L1324.8 2550.4M1347.7 2580.6L1347.1 2616.4"/>
<path fill="none" stroke="#fff" stroke-width="4.2" d="M1277.8 2587.3L1279 2608.8M1369.8 2554.6L1367.4 2593"/>
<path fill="none" stroke-width="14.4" d="M1177.9 2537.3h0M1189 2428.3h0M1189 2440h0M1189 2453.3h0M1189 2466.7h0M1189 2480h0M1189 2496.7h0M1217.2 2447.7h0M1217.2 2406.7h0M1217.2 2395h0M1217.2 2371.7h0M1217.2 2363.3h0M1217.2 2351.7h0M1231.7 2528.3h0M1266.2 2471.7h0M1296.5 2496h0"/>
</g>
<g fill="#f7056f" stroke="#f7056f" stroke-linejoin="round" stroke-linecap="round">
<path stroke-width="10" d="M1415.5 2832.6L1415.5 2700L1416.2 2636.7L1418.5 2601.7L1420.2 2633.3L1430.3 2633.3L1435.4 2566.7L1441.5 2533.3L1443.8 2533.3L1448.9 2566.7L1454 2578.3L1457.3 2613.3L1465.8 2613.3L1470.8 2573.3L1475.2 2550L1476.9 2550L1479.3 2583.3L1484.3 2626.7L1491.1 2640L1501.2 2631.7L1518 2635L1528.2 2620L1533.2 2615L1540 2620L1548.4 2625L1558.5 2623.3L1565.3 2580L1578.8 2566.7L1588.9 2571.7L1595.6 2586.7L1612.5 2580L1626 2566.7L1642.9 2550L1653 2540L1659.7 2533.3L1666.5 2496.7L1667.8 2496.7L1669.2 2606.7L1685 2606.7L1686 2526.7L1687.4 2526.7L1689.8 2600L1693.5 2650L1696.5 2700L1696.5 2832.6Z"/>
<rect stroke="none" x="1408.5" y="2712.4" width="295" height="127.2" rx="6.5"/>
<path fill="none" stroke-width="14.4" d="M1415 2832.6h0M1416.4 2822.3h0M1416.2 2811.7h0M1414.6 2806h0M1415.3 2795.2h0M1415.6 2790.1h0M1414.9 2778.9h0M1415.6 2768.8h0M1415.6 2761.9h0M1415 2752.8h0M1414.9 2739.6h0M1416.4 2731.8h0M1415.3 2721.1h0M1415.1 2711h0M1414.5 2701.4h0M1415.2 2693.1h0M1414.9 2680h0M1414.6 2673.8h0M1416 2665.6h0M1416.8 2654.1h0M1416.3 2645.9h0M1416 2632.7h0M1415.8 2626.1h0M1418 2612.6h0M1418.3 2605.8h0M1419.1 2612.5h0M1419.9 2621.8h0M1420.6 2628.1h0M1423.9 2634.3h0M1431.3 2630.8h0M1430.4 2620.7h0M1432.8 2613.5h0M1432.1 2602.2h0M1434.5 2592.4h0M1434 2582.2h0M1435.4 2573h0M1435.4 2562.1h0M1438.2 2555h0M1439.1 2543.6h0M1440.3 2537.4h0M1443.4 2535.5h0M1444.9 2546.8h0M1445.7 2554.9h0M1447.4 2563.8h0M1449.5 2570.7h0M1454 2576.6h0M1453.6 2585.6h0M1454.8 2595.3h0M1457.4 2604.9h0M1458 2612.7h0M1466.7 2611.8h0M1466.4 2602.7h0M1467.5 2593.6h0M1469.7 2584.8h0M1470.1 2576.4h0M1471.3 2567.6h0M1472.2 2562.1h0M1474.6 2551.5h0M1477.6 2553.7h0M1478.3 2564.6h0M1477.9 2574.6h0M1478 2584.3h0M1480 2591h0M1481.3 2598.8h0M1482.1 2608.5h0M1481.7 2615.8h0M1483.5 2624.6h0M1488.1 2631.4h0M1491.1 2640.3h0M1500.2 2634.5h0M1505.6 2634.6h0M1517.5 2635.6h0M1523 2629.7h0M1526.6 2623.6h0M1533 2617.5h0M1541.4 2621.4h0M1550.6 2626.1h0M1557.7 2625.1h0M1560.2 2613.3h0M1562.4 2604.9h0M1562.7 2593.8h0M1565.6 2584.8h0M1569.9 2576.8h0M1576.4 2570.2h0M1583.2 2569.4h0M1588 2573.3h0M1594.3 2583.8h0M1599.1 2583.7h0M1608.7 2584h0M1614.7 2578.1h0M1621.3 2572.7h0M1629.2 2563.4h0M1636.9 2559.1h0M1642.8 2547.7h0M1649.9 2544.5h0M1657.4 2534.9h0M1660.1 2526.5h0M1662.7 2520.8h0M1664.8 2513.5h0M1666.1 2500.2h0M1668 2503.8h0M1668.3 2511.9h0M1668 2522.2h0M1668.6 2531.9h0M1668.5 2541.9h0M1669.5 2548.2h0M1668.6 2556.5h0M1669.1 2565.5h0M1667.9 2572.7h0M1668.1 2582h0M1669.5 2593h0M1669.9 2603.8h0M1676.7 2608.6h0M1685.7 2607.1h0M1684.9 2601.4h0M1684.3 2593.4h0M1684.9 2579.2h0M1686.4 2573.5h0M1685.2 2559h0M1684.6 2550.3h0M1685.2 2542.4h0M1686.5 2536.7h0M1686.5 2526.1h0M1686.6 2536.6h0M1688.1 2544.5h0M1689.1 2554.2h0M1689.7 2563.9h0M1689.5 2574.3h0M1689.7 2582.7h0M1688.8 2587.5h0M1689.6 2600.8h0M1690.4 2610.3h0M1691.3 2620.9h0M1692.7 2626.9h0M1692 2635h0M1693.3 2640.5h0M1692.9 2650h0M1694.2 2657.1h0M1694.8 2665.2h0M1695.8 2674.4h0M1696.3 2681.9h0M1696.3 2690.1h0M1696.9 2703.4h0M1697.3 2712.3h0M1697.7 2725.8h0M1697 2733.8h0M1696.9 2740h0M1696.4 2749.8h0M1696 2761.8h0M1696.8 2771.3h0M1697.1 2778.9h0M1695.4 2791.1h0M1697.2 2803h0M1695.5 2810.8h0M1695.4 2821.8h0M1696.6 2831.4h0M1415.5 2832.6h0M1696.5 2832.6h0"/>
<path fill="none" stroke="#fff" stroke-width="2.6" d="M1430.6 2643l2.1 8.4M1632 2607.4l-2.2 7.3M1466.9 2626.4l-0.5 9.2M1602.3 2593.3l-2.3 8.3M1538.1 2633.3l0.9 11.7M1623.3 2612.6l4.4 8.9M1621.6 2586.8l8.6 10.2M1622 2585.4l1.4 11M1510.1 2657.8l-4.5 6.6"/>
<path fill="none" stroke="#fff" stroke-width="3.6" d="M1627 2580.2l-2 2.9M1631.9 2570.6l0.4 1.4M1597.3 2595.9l0.7 0.9M1605.6 2622.5l0.4 0.6M1449.3 2597.8l0.1 3.7M1425 2702.3l1.1 1.2M1654.4 2556.3l0.4 3.3M1682 2655.6l0.4 1.5M1639.5 2598.4l0.2 1.5M1517.4 2655.5l1.4 1.6M1550.4 2648.1l1.9 2.1M1633 2594.3l1 2.9M1504.9 2643.2l-0 0.1M1530.4 2631l-2.4 3M1519.2 2659.2l1.6 2.7M1642.5 2563.9l1.3 1.6M1516.2 2655.2l-0.2 2.7M1486.2 2648.6l-0.6 1.5M1633.8 2584.1l-1.2 3M1552.8 2636.8l0.5 1.8M1582.2 2588.6l0.5 0.6M1490.5 2649.2l1.3 3.4M1635.2 2573.4l-0.1 0.2"/>
<path fill="none" stroke="#fff" stroke-width="5" d="M1629.6 2572.5l0.9 1.6M1547.8 2648.9l-0.7 3.8M1547.8 2635l-1.6 2.8M1575.1 2595.3l-0.2 0.2M1540.5 2630.6l0.3 2.8M1573.1 2641.2l0.8 2.8M1527.7 2679.4l-1.9 2.3M1530.2 2664.9l-0.1 0.8M1465.6 2622.7l0.1 2.2M1683.9 2645.7l1.6 2.6M1595.2 2599.5l-0.1 1M1672 2634.8l-0 0.2M1656.8 2546.8l-0.6 2.1M1653.6 2553.9l0.8 2.5M1675.1 2641.8l0.2 0.3M1624.8 2590.9l0.6 0.7"/>
<path fill="none" stroke="#fff" stroke-width="3" d="M1533.2 2606.5L1532.5 2620.2M1575.7 2559.8L1576.4 2578.8M1635.7 2540.2L1637.7 2572.3"/>
<path fill="none" stroke="#fff" stroke-width="4.2" d="M1510.6 2623.1L1510.3 2649.2M1595 2562.5L1595.7 2592.1M1608.4 2567.7L1609 2587.2"/>
<path fill="none" stroke-width="14.4" d="M1420.2 2581h0M1418.5 2610h0M1418.5 2623.3h0M1445.5 2546.7h0M1442.1 2560h0M1454 2576.7h0M1477.6 2573.3h0M1533.2 2501.7h0M1533.2 2510h0M1533.2 2548.3h0M1533.2 2558.3h0M1533.2 2586.7h0M1533.2 2596.7h0M1560.2 2548.3h0M1558.5 2560h0M1557.9 2598.3h0M1599 2552.3h0M1615.9 2565h0M1612.5 2531.7h0M1617.6 2538.3h0M1616.6 2441h0M1493.8 2349h0M1669.2 2350.7h0M1642.9 2531.7h0M1653 2505h0M1654.7 2513.3h0M1668.2 2441.7h0M1668.2 2453.3h0M1666.5 2466.7h0M1690.8 2481h0"/>
</g>
<g fill="#ff6604" stroke="#ff6604" stroke-linejoin="round" stroke-linecap="round">
<path stroke-width="10" d="M1716 2832.6L1716 2700L1716.7 2653.3L1722.5 2641.7L1725.9 2605L1727.6 2633.3L1737.8 2620L1748.1 2611.7L1761.7 2608.3L1775.4 2613.3L1783.9 2593.3L1786.6 2521.7L1788 2521.7L1790.7 2600L1799.3 2615L1807.8 2600L1813.9 2591.7L1815.3 2591.7L1818 2613.3L1830 2620L1841.9 2613.3L1848.7 2591.7L1853.9 2566.7L1859 2545L1869.2 2538.3L1882.9 2546.7L1894.8 2555L1898.2 2583.3L1908.4 2600L1911.2 2583.3L1912.5 2600L1918.7 2620L1928.9 2640L1946 2650L1959.6 2633.3L1966.5 2603.3L1976.7 2583.3L1985.2 2588.3L1988.6 2610L1990 2650L1990 2700L1990 2832.6Z"/>
<rect stroke="none" x="1709" y="2712.4" width="288" height="127.2" rx="6.5"/>
<path fill="none" stroke-width="14.4" d="M1716.5 2832.6h0M1716.6 2822.6h0M1715.1 2815h0M1717.1 2803.6h0M1716.1 2793h0M1715.6 2784.6h0M1715.2 2776.5h0M1716.5 2768.1h0M1717 2755.6h0M1716.4 2744.5h0M1715 2735.5h0M1716.2 2727.5h0M1714.8 2719.8h0M1715.9 2708.1h0M1715.7 2697.3h0M1716.8 2689.6h0M1716.2 2681.6h0M1716.5 2673.1h0M1715.7 2664.9h0M1716.1 2657.3h0M1721 2645.1h0M1722.1 2637.5h0M1723.1 2629.8h0M1725.3 2618.6h0M1725.2 2611.3h0M1724.9 2606.2h0M1725.9 2615.3h0M1727.6 2624.3h0M1729.2 2631.4h0M1733.3 2625.7h0M1739.5 2619.5h0M1748.6 2611.8h0M1758.5 2611.1h0M1766.7 2612.2h0M1776 2612.8h0M1778.4 2605.7h0M1782.7 2595.4h0M1783.9 2586.6h0M1784.8 2575.3h0M1786.1 2563.7h0M1786.3 2554.6h0M1786.1 2545.2h0M1787.1 2539.5h0M1785.9 2530.6h0M1788.9 2524h0M1787.5 2533.7h0M1789.7 2544.6h0M1789.2 2552.6h0M1789.8 2562.7h0M1788.8 2571.3h0M1790.7 2579.4h0M1791.4 2590.9h0M1791.8 2598.6h0M1794.4 2610.4h0M1798.9 2613.6h0M1802.4 2610.1h0M1806.9 2602h0M1812.3 2593.4h0M1815.4 2595.8h0M1817 2607h0M1817.1 2612.3h0M1823.3 2615.9h0M1831.5 2617.9h0M1841.6 2613h0M1844.6 2607h0M1846.6 2594.5h0M1849.1 2587.9h0M1852.4 2578.4h0M1854.3 2566.4h0M1856.8 2558.2h0M1859.1 2549.1h0M1860.5 2544.6h0M1868.6 2540.1h0M1876.1 2544.2h0M1885.1 2548h0M1891.5 2552.3h0M1895 2562.7h0M1895.7 2569h0M1897 2578.4h0M1898.1 2583h0M1903.3 2593h0M1906.8 2600.6h0M1909.7 2593h0M1912.3 2587.5h0M1912.8 2598.1h0M1913.2 2605h0M1916.3 2613.6h0M1919.2 2620.1h0M1921.3 2629h0M1926.7 2636h0M1932.7 2643.4h0M1941.9 2647.1h0M1949.5 2644.4h0M1955.9 2637.1h0M1958.7 2631h0M1961.8 2623.3h0M1963.5 2613.4h0M1965.9 2604.8h0M1969.4 2594.3h0M1974.9 2586h0M1980.6 2584.1h0M1985.1 2589.7h0M1986.3 2598h0M1986.8 2606.5h0M1989.3 2614.6h0M1989.7 2622.7h0M1988.8 2630h0M1990.8 2638.7h0M1990 2648h0M1991 2658.3h0M1990.4 2666.9h0M1991.2 2675.8h0M1990.6 2686.5h0M1991 2693.7h0M1989.7 2702.3h0M1989.5 2715.8h0M1990.9 2722.8h0M1989.5 2734.5h0M1991 2745.9h0M1989.9 2752.1h0M1990.1 2763.3h0M1989 2771.7h0M1990.8 2778.3h0M1990 2789.4h0M1989.5 2799.6h0M1989.8 2807.2h0M1989.2 2818.6h0M1989.6 2827.3h0M1716 2832.6h0M1990 2832.6h0"/>
<path fill="none" stroke="#fff" stroke-width="2.6" d="M1867 2603l-2.7 13.1M1978.9 2599.8l3.5 5.8M1976.4 2652.9l-8.1 10.5M1796.7 2627.2l-3 9"/>
<path fill="none" stroke="#fff" stroke-width="3.6" d="M1892 2592.6l1.9 2M1765.2 2626.7l-2.1 3.2M1751 2621.8l1.7 2.9M1833.1 2646.6l0.8 2.3M1865.6 2563.3l0.5 3M1795.7 2644.7l0.5 1.1M1768.2 2634.1l1.3 1.3M1731.4 2644.3l-0.8 1.8M1875.4 2551.3l-1.5 1.5M1939.9 2659.2l0.5 0.6M1826.1 2658.9l-2.2 2.8M1838.7 2629l0.4 0.7M1958.7 2651.9l1.4 1.4M1818.5 2631.9l0.4 0.8M1863.6 2554.4l-0.3 1.3M1812.2 2642l0.8 3.4M1804.5 2620.1l-0.3 2.1M1956.1 2650.2l0.9 3M1847 2643.1l0.7 1.1M1875.1 2551.1l1.6 2.8M1953.6 2663.7l0.2 1.1M1875.9 2552l1 1.7M1946.9 2685.8l0.4 0.8M1822.1 2644.5l-0.5 2M1722.9 2668.7l-1.5 1.6M1769.2 2627l0.5 2.5M1931.1 2671.6l-0.3 2.7M1883.8 2569.7l-0 0.1M1743.2 2635l0.2 0.3"/>
<path fill="none" stroke="#fff" stroke-width="5" d="M1897.3 2607.6l-0.8 1.1M1752.8 2654.7l0.2 3.4M1978.9 2598.1l-2.3 3.2M1884.8 2563l-2.7 2.8M1834.7 2631.4l0.5 1.8M1832.8 2632.5l-0.8 1M1933.9 2657.8l-0 1.8M1877.1 2563.9l-1 1.6M1740.3 2633.2l-1.2 1.9M1955.8 2675l0.2 3.9M1759 2634.1l-0.2 2.3M1954.6 2656.8l-0.2 1.9M1798.4 2633.7l-0.3 2M1938.3 2666.2l-0.2 1.1M1772.2 2657.1l-0.9 2.2M1773.9 2648.7l1.3 1.5M1879.3 2582.8l-1 2.8"/>
<path fill="none" stroke="#fff" stroke-width="3" d="M1751.5 2600.2L1750.5 2627.1M1798.8 2593.3L1799.6 2619.4M1828.9 2606.3L1828.3 2633M1864.7 2531.2L1866.4 2561.6M1925.7 2613.6L1928.1 2655"/>
<path fill="none" stroke="#fff" stroke-width="4.2" d="M1767.2 2599.7L1767.4 2629.7M1877 2530.2L1877.9 2552.7M1888 2536.6L1888.1 2560.7M1956.5 2606.6L1956.8 2665.6"/>
<path fill="none" stroke-width="14.4" d="M1743 2525h0M1743 2551.7h0M1736.1 2558.3h0M1739.5 2571.7h0M1729.3 2580h0M1764.5 2570h0M1787.3 2495h0M1787.3 2485h0M1787.3 2473.3h0M1787.3 2461.7h0M1786.6 2440h0M1812.9 2570.7h0M1848.7 2474h0M1848.7 2556.7h0M1843.6 2573.3h0M1869.2 2516.7h0M1869.2 2505h0M1869.2 2493.3h0M1869.2 2481.7h0M1869.2 2458.3h0M1869.2 2446.7h0M1869.2 2433.3h0M1869.2 2386h0M1895.8 2507.7h0M1911.2 2427.3h0M1911.2 2472.7h0M1911.2 2533.3h0M1911.2 2546.7h0M1911.2 2558.3h0M1939.2 2631h0M1955.5 2471.7h0M1955.5 2520h0M1955.5 2531.7h0M1955.5 2545h0M1980.1 2620h0"/>
</g>
<g fill="#eb80b9" stroke="#eb80b9" stroke-linejoin="round" stroke-linecap="round">
<path stroke-width="10" d="M2009 2832.6L2009 2700L2009.7 2640L2018.8 2633.3L2028.9 2600L2042.3 2573.3L2046.4 2571.7L2052.4 2593.3L2059.2 2588.3L2069.3 2610L2082.7 2611.7L2089.5 2566.7L2094.5 2530L2096.9 2530L2099.6 2566.7L2106.3 2606.7L2119.8 2610L2124.8 2593.3L2128.2 2593.3L2131.6 2613.3L2143.4 2615L2150.1 2566.7L2152.1 2531.7L2153.5 2531.7L2155.5 2566.7L2160.2 2626.7L2173.7 2636.7L2183.8 2631.7L2197.2 2646.7L2207 2653.3L2207 2700L2207 2832.6Z"/>
<rect stroke="none" x="2002" y="2712.4" width="212" height="127.2" rx="6.5"/>
<path fill="none" stroke-width="14.4" d="M2008.8 2832.6h0M2010 2821.4h0M2009.8 2813.2h0M2009.5 2800.7h0M2009.3 2792.1h0M2008.5 2783.7h0M2007.9 2772.7h0M2010 2762.7h0M2010 2756.9h0M2009.6 2745.5h0M2010.1 2733.4h0M2009 2726.3h0M2009.4 2718.2h0M2009.6 2707.2h0M2009.1 2701.1h0M2009.1 2692.4h0M2008.3 2679.6h0M2008.4 2670.3h0M2009.3 2664.1h0M2008.6 2652.4h0M2008.7 2639.8h0M2015.8 2636.9h0M2021.7 2626.6h0M2022.8 2619.9h0M2026.7 2613.1h0M2028.5 2604.3h0M2032.6 2593.7h0M2036.3 2583.3h0M2039.9 2575.6h0M2046.5 2574.3h0M2048.4 2582.6h0M2052.7 2590.7h0M2057.3 2592.3h0M2061.3 2595.7h0M2065.3 2603.1h0M2071.1 2612.6h0M2079.7 2610.2h0M2082.8 2604.8h0M2086.3 2593.8h0M2087.5 2585.9h0M2087.4 2575.1h0M2089 2567.1h0M2089.7 2555.6h0M2091.7 2550.3h0M2094.4 2541h0M2095.5 2531.4h0M2098 2536.8h0M2097.1 2546.3h0M2098 2554h0M2099.1 2564.1h0M2100.7 2570.8h0M2102 2578.9h0M2102.9 2585.9h0M2104.1 2594.9h0M2106.1 2604.6h0M2111.3 2607h0M2118.5 2611.8h0M2123.6 2602h0M2129 2595.2h0M2130.6 2603.2h0M2130.3 2613.7h0M2137.8 2613.8h0M2144.4 2613.3h0M2145.6 2604.1h0M2146.7 2596h0M2147.9 2586.1h0M2147.8 2576.7h0M2149.8 2571.3h0M2149.5 2559.5h0M2150.7 2551.2h0M2150.7 2540.6h0M2151.1 2535.4h0M2154.9 2539.7h0M2153.9 2546h0M2155.6 2557.4h0M2154.9 2567.2h0M2155.1 2575.2h0M2157.9 2581.5h0M2156.4 2590.6h0M2159.2 2600.5h0M2159.2 2612.1h0M2159.3 2622.8h0M2162.2 2628.5h0M2171.1 2637.1h0M2182.3 2632.1h0M2189.3 2639.4h0M2196.8 2645.8h0M2202.2 2650.2h0M2207.2 2657h0M2206.9 2667.8h0M2206.3 2677.6h0M2206.9 2684.8h0M2207 2694.5h0M2206.4 2703.4h0M2208.1 2712.7h0M2205.9 2721.9h0M2207.6 2732.5h0M2206.2 2742.8h0M2207.5 2750.8h0M2206.8 2757.9h0M2207.7 2767.5h0M2206 2774.9h0M2207.9 2786.8h0M2206.5 2793.5h0M2206.9 2801.9h0M2207.8 2813.5h0M2206.2 2821.2h0M2009 2832.6h0M2207 2832.6h0"/>
<path fill="none" stroke="#fff" stroke-width="2.6" d="M2192.3 2672.1l-3.4 6M2074.5 2651.9l4.9 12.1M2045.6 2596.7l5.8 8M2060.8 2613.5l7.8 9.1M2035.2 2608.9l3.4 5.3M2068.1 2634.3l-2.9 10.6"/>
<path fill="none" stroke="#fff" stroke-width="3.6" d="M2198.1 2695.8l-0.3 2.3M2119.2 2625.3l0.7 3M2117.1 2620.9l0.2 0.7M2178.3 2658.1l0.6 1.4M2125.6 2639.3l-1.5 3.1M2161.6 2638.7l1.7 2.1M2103.1 2625.6l0.9 1.4M2196.2 2657.6l-1.1 1.9M2077.6 2626.2l-0 1.7M2173 2649.3l1 2.8M2098.5 2602.9l0.6 2.5M2173 2645.5l-0.2 1.4"/>
<path fill="none" stroke="#fff" stroke-width="5" d="M2137.3 2635.3l0.8 1.6M2197.9 2661l0.3 2.4M2137.7 2632.7l0.3 3.4M2163.7 2662l-0.6 1.2M2143.5 2639l-1.9 2.5M2170.6 2650.8l0.2 0.8M2058.1 2614.9l-1.6 3.5M2144.4 2676.4l0.2 0.4M2086.4 2615.2l0.1 1.2M2063.8 2643.4l0.2 1.3"/>
<path fill="none" stroke="#fff" stroke-width="3" d="M2058.2 2580L2058.3 2618.7M2125.3 2584.3L2125.7 2601.1M2171.3 2621.3L2172.7 2647.9"/>
<path fill="none" stroke="#fff" stroke-width="4.2" d="M2045.7 2563L2045.1 2594.1M2078 2586.6L2078.3 2632.3"/>
<path fill="none" stroke-width="14.4" d="M2024.8 2573.3h0M2039 2515h0M2038.3 2542.7h0M2051.8 2554h0M2074.3 2526h0M2079.4 2551.7h0M2079.4 2578.3h0M2097.9 2475h0M2097.2 2490h0M2128.2 2462.3h0M2152.4 2501.7h0M2126.5 2570h0M2183.8 2610h0M2193.9 2607.3h0"/>
</g>
<line x1="219" y1="2410" x2="2232" y2="2410" stroke="#f51a1a" stroke-width="2.6"/>
<g stroke="#5a5a5a" stroke-width="3" fill="none">
<path d="M217 2124.1V2834.1"/>
<path d="M201 2832.6H217"/>
<path d="M201 2691.2H217"/>
<path d="M201 2549.8H217"/>
<path d="M201 2408.4H217"/>
<path d="M201 2267H217"/>
<path d="M201 2125.6H217"/>
<path d="M216 2862H2208"/>
<path d="M217.5 2862V2879"/>
<path d="M381.5 2862V2879"/>
<path d="M655.7 2862V2879"/>
<path d="M962.5 2862V2879"/>
<path d="M1277.5 2862V2879"/>
<path d="M1557 2862V2879"/>
<path d="M1853.4 2862V2879"/>
<path d="M2107.5 2862V2879"/>
</g>
<g font-family="'Liberation Sans', Arial, sans-serif" font-weight="bold" font-size="26" fill="#1a1a1a">
<text x="186" y="2841.9" text-anchor="end">0</text>
<text x="186" y="2700.5" text-anchor="end">2</text>
<text x="186" y="2559.1" text-anchor="end">4</text>
<text x="186" y="2417.7" text-anchor="end">6</text>
<text x="186" y="2276.3" text-anchor="end">8</text>
<text x="186" y="2134.9" text-anchor="end">10</text>
<text x="217" y="2920" text-anchor="middle" font-size="27.5">Chr</text>
<text x="381.5" y="2920" text-anchor="middle">1</text>
<text x="655.7" y="2920" text-anchor="middle">2</text>
<text x="962.5" y="2920" text-anchor="middle">3</text>
<text x="1277.5" y="2920" text-anchor="middle">4</text>
<text x="1557" y="2920" text-anchor="middle">5</text>
<text x="1853.4" y="2920" text-anchor="middle">6</text>
<text x="2107.5" y="2920" text-anchor="middle">7</text>
</g>
<text transform="translate(101.5 2479.1) rotate(-90)" text-anchor="middle" font-family="'Liberation Sans', Arial, sans-serif" font-size="44" fill="#262626">−log<tspan font-size="27" dy="8">10</tspan><tspan dy="-6" font-size="52">(</tspan><tspan dy="-2" font-style="italic">p</tspan><tspan dy="2" font-size="52">)</tspan></text>
<text transform="translate(109.5 2064.5) scale(0.92 1)" font-family="'Liberation Serif', 'Times New Roman', serif" font-weight="bold" font-size="135" fill="#000">c</text>
<g font-family="'Liberation Serif', 'Times New Roman', serif" font-weight="bold" font-style="italic" font-size="44.3" letter-spacing="0.7">
<text x="265" y="2263" fill="#ff0d0d">gSD1.1</text>
<text x="486" y="2190" fill="#ff0d0d">gSD2.1</text>
<text x="760" y="2247" fill="#ff0d0d">gSD3.1</text>
<text x="1125.5" y="2312" fill="#0a0a0a">gSD4.1</text>
<text x="1812.5" y="2343" fill="#ff0d0d">gSD6.1</text>
</g>
</svg>
</body>
</html>
